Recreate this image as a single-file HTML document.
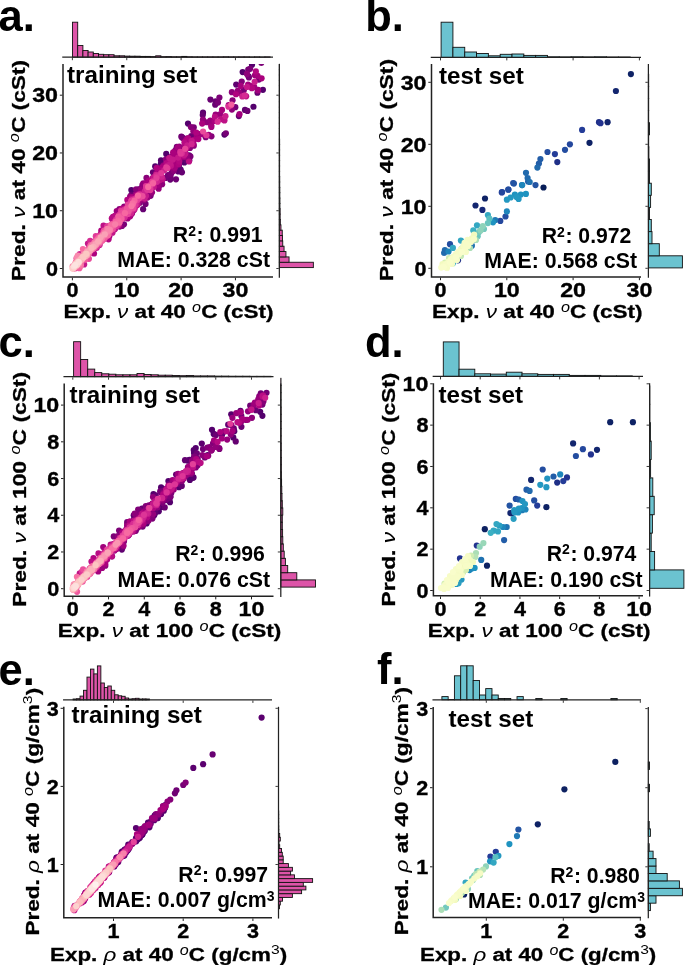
<!DOCTYPE html>
<html><head><meta charset="utf-8"><title>Figure</title>
<style>
html,body{margin:0;padding:0;background:#fff;}
body{width:685px;height:965px;overflow:hidden;}
svg{display:block;font-family:"Liberation Sans", sans-serif;will-change:transform;}
</style></head><body>
<svg width="685" height="965" viewBox="0 0 685 965">
<rect width="685" height="965" fill="#fff"/>
<rect x="72.5" y="22.2" width="5.2" height="35" fill="#dd54a8" stroke="#111" stroke-width="0.9"/>
<rect x="77.7" y="45.5" width="5.2" height="11.7" fill="#dd54a8" stroke="#111" stroke-width="0.9"/>
<rect x="82.9" y="50.5" width="5.2" height="6.7" fill="#dd54a8" stroke="#111" stroke-width="0.9"/>
<rect x="88.1" y="52" width="5.2" height="5.2" fill="#dd54a8" stroke="#111" stroke-width="0.9"/>
<rect x="93.3" y="53.5" width="5.2" height="3.7" fill="#dd54a8" stroke="#111" stroke-width="0.9"/>
<rect x="98.5" y="54.3" width="5.2" height="2.9" fill="#dd54a8" stroke="#111" stroke-width="0.9"/>
<rect x="103.7" y="54.7" width="5.2" height="2.5" fill="#dd54a8" stroke="#111" stroke-width="0.9"/>
<rect x="108.9" y="54.7" width="5.2" height="2.5" fill="#dd54a8" stroke="#111" stroke-width="0.9"/>
<rect x="114.1" y="55.8" width="5.2" height="1.4" fill="#dd54a8" stroke="#111" stroke-width="0.9"/>
<rect x="119.3" y="55.8" width="5.2" height="1.4" fill="#dd54a8" stroke="#111" stroke-width="0.9"/>
<rect x="124.5" y="56.1" width="5.2" height="1.1" fill="#dd54a8" stroke="#111" stroke-width="0.9"/>
<rect x="129.7" y="56.2" width="5.2" height="1" fill="#dd54a8" stroke="#111" stroke-width="0.9"/>
<rect x="134.9" y="56.2" width="5.2" height="1" fill="#dd54a8" stroke="#111" stroke-width="0.9"/>
<rect x="140.1" y="56.4" width="5.2" height="0.8" fill="#dd54a8" stroke="#111" stroke-width="0.9"/>
<rect x="145.3" y="56.4" width="5.2" height="0.8" fill="#dd54a8" stroke="#111" stroke-width="0.9"/>
<rect x="150.5" y="56.6" width="5.2" height="0.6" fill="#dd54a8" stroke="#111" stroke-width="0.9"/>
<rect x="155.7" y="55.8" width="5.2" height="1.4" fill="#dd54a8" stroke="#111" stroke-width="0.9"/>
<rect x="160.9" y="56.7" width="5.2" height="0.5" fill="#dd54a8" stroke="#111" stroke-width="0.9"/>
<rect x="166.1" y="56.6" width="5.2" height="0.6" fill="#dd54a8" stroke="#111" stroke-width="0.9"/>
<rect x="171.3" y="56.8" width="5.2" height="0.4" fill="#dd54a8" stroke="#111" stroke-width="0.9"/>
<rect x="176.5" y="56.8" width="5.2" height="0.4" fill="#dd54a8" stroke="#111" stroke-width="0.9"/>
<rect x="181.7" y="56.4" width="5.2" height="0.8" fill="#dd54a8" stroke="#111" stroke-width="0.9"/>
<rect x="186.9" y="56.8" width="5.2" height="0.4" fill="#dd54a8" stroke="#111" stroke-width="0.9"/>
<rect x="192.1" y="56.9" width="5.2" height="0.3" fill="#dd54a8" stroke="#111" stroke-width="0.9"/>
<rect x="197.3" y="56.9" width="5.2" height="0.3" fill="#dd54a8" stroke="#111" stroke-width="0.9"/>
<rect x="202.5" y="56.9" width="5.2" height="0.3" fill="#dd54a8" stroke="#111" stroke-width="0.9"/>
<rect x="207.7" y="56.9" width="5.2" height="0.3" fill="#dd54a8" stroke="#111" stroke-width="0.9"/>
<rect x="212.9" y="56.9" width="5.2" height="0.3" fill="#dd54a8" stroke="#111" stroke-width="0.9"/>
<rect x="218.1" y="56.9" width="5.2" height="0.3" fill="#dd54a8" stroke="#111" stroke-width="0.9"/>
<rect x="223.3" y="56.8" width="5.2" height="0.4" fill="#dd54a8" stroke="#111" stroke-width="0.9"/>
<rect x="228.5" y="56.9" width="5.2" height="0.3" fill="#dd54a8" stroke="#111" stroke-width="0.9"/>
<rect x="233.7" y="56.9" width="5.2" height="0.3" fill="#dd54a8" stroke="#111" stroke-width="0.9"/>
<rect x="238.9" y="56.9" width="5.2" height="0.3" fill="#dd54a8" stroke="#111" stroke-width="0.9"/>
<rect x="244.1" y="56.9" width="5.2" height="0.3" fill="#dd54a8" stroke="#111" stroke-width="0.9"/>
<rect x="249.3" y="57" width="5.2" height="0.2" fill="#dd54a8" stroke="#111" stroke-width="0.9"/>
<rect x="254.5" y="56.9" width="5.2" height="0.3" fill="#dd54a8" stroke="#111" stroke-width="0.9"/>
<rect x="259.7" y="57" width="5.2" height="0.2" fill="#dd54a8" stroke="#111" stroke-width="0.9"/>
<rect x="264.9" y="56.9" width="5.2" height="0.3" fill="#dd54a8" stroke="#111" stroke-width="0.9"/>
<path d="M62.25 57.2H273" stroke="#222" stroke-width="1.25"/>
<path d="M72.4 57.8v2.4" stroke="#222" stroke-width="0.9"/>
<path d="M126.75 57.8v2.4" stroke="#222" stroke-width="0.9"/>
<path d="M181.1 57.8v2.4" stroke="#222" stroke-width="0.9"/>
<path d="M235.45 57.8v2.4" stroke="#222" stroke-width="0.9"/>
<rect x="279.35" y="262.25" width="34" height="5.35" fill="#dd54a8" stroke="#111" stroke-width="0.9"/>
<rect x="279.35" y="256.9" width="9.7" height="5.35" fill="#dd54a8" stroke="#111" stroke-width="0.9"/>
<rect x="279.35" y="251.55" width="6.6" height="5.35" fill="#dd54a8" stroke="#111" stroke-width="0.9"/>
<rect x="279.35" y="246.2" width="4.7" height="5.35" fill="#dd54a8" stroke="#111" stroke-width="0.9"/>
<rect x="279.35" y="240.85" width="3.4" height="5.35" fill="#dd54a8" stroke="#111" stroke-width="0.9"/>
<rect x="279.35" y="235.5" width="3.1" height="5.35" fill="#dd54a8" stroke="#111" stroke-width="0.9"/>
<rect x="279.35" y="230.15" width="2.9" height="5.35" fill="#dd54a8" stroke="#111" stroke-width="0.9"/>
<rect x="279.35" y="224.8" width="1.6" height="5.35" fill="#dd54a8" stroke="#111" stroke-width="0.9"/>
<rect x="279.35" y="219.45" width="1" height="5.35" fill="#dd54a8" stroke="#111" stroke-width="0.9"/>
<rect x="279.35" y="214.1" width="0.8" height="5.35" fill="#dd54a8" stroke="#111" stroke-width="0.9"/>
<rect x="279.35" y="208.75" width="0.8" height="5.35" fill="#dd54a8" stroke="#111" stroke-width="0.9"/>
<rect x="279.35" y="203.4" width="0.6" height="5.35" fill="#dd54a8" stroke="#111" stroke-width="0.9"/>
<rect x="279.35" y="198.05" width="0.6" height="5.35" fill="#dd54a8" stroke="#111" stroke-width="0.9"/>
<rect x="279.35" y="192.7" width="0.5" height="5.35" fill="#dd54a8" stroke="#111" stroke-width="0.9"/>
<rect x="279.35" y="187.35" width="0.5" height="5.35" fill="#dd54a8" stroke="#111" stroke-width="0.9"/>
<rect x="279.35" y="182" width="0.4" height="5.35" fill="#dd54a8" stroke="#111" stroke-width="0.9"/>
<rect x="279.35" y="176.65" width="0.4" height="5.35" fill="#dd54a8" stroke="#111" stroke-width="0.9"/>
<rect x="279.35" y="171.3" width="0.3" height="5.35" fill="#dd54a8" stroke="#111" stroke-width="0.9"/>
<rect x="279.35" y="165.95" width="0.3" height="5.35" fill="#dd54a8" stroke="#111" stroke-width="0.9"/>
<rect x="279.35" y="160.6" width="0.3" height="5.35" fill="#dd54a8" stroke="#111" stroke-width="0.9"/>
<rect x="279.35" y="155.25" width="0.3" height="5.35" fill="#dd54a8" stroke="#111" stroke-width="0.9"/>
<rect x="279.35" y="149.9" width="0.3" height="5.35" fill="#dd54a8" stroke="#111" stroke-width="0.9"/>
<rect x="279.35" y="144.55" width="0.3" height="5.35" fill="#dd54a8" stroke="#111" stroke-width="0.9"/>
<rect x="279.35" y="139.2" width="0.3" height="5.35" fill="#dd54a8" stroke="#111" stroke-width="0.9"/>
<rect x="279.35" y="133.85" width="0.2" height="5.35" fill="#dd54a8" stroke="#111" stroke-width="0.9"/>
<rect x="279.35" y="128.5" width="0.2" height="5.35" fill="#dd54a8" stroke="#111" stroke-width="0.9"/>
<rect x="279.35" y="123.15" width="0.2" height="5.35" fill="#dd54a8" stroke="#111" stroke-width="0.9"/>
<rect x="279.35" y="117.8" width="0.2" height="5.35" fill="#dd54a8" stroke="#111" stroke-width="0.9"/>
<rect x="279.35" y="112.45" width="0.2" height="5.35" fill="#dd54a8" stroke="#111" stroke-width="0.9"/>
<rect x="279.35" y="107.1" width="0.2" height="5.35" fill="#dd54a8" stroke="#111" stroke-width="0.9"/>
<rect x="279.35" y="101.75" width="0.2" height="5.35" fill="#dd54a8" stroke="#111" stroke-width="0.9"/>
<rect x="279.35" y="96.4" width="0.2" height="5.35" fill="#dd54a8" stroke="#111" stroke-width="0.9"/>
<rect x="279.35" y="91.05" width="0.2" height="5.35" fill="#dd54a8" stroke="#111" stroke-width="0.9"/>
<rect x="279.35" y="85.7" width="0.2" height="5.35" fill="#dd54a8" stroke="#111" stroke-width="0.9"/>
<rect x="279.35" y="80.35" width="0.2" height="5.35" fill="#dd54a8" stroke="#111" stroke-width="0.9"/>
<rect x="279.35" y="75" width="0.2" height="5.35" fill="#dd54a8" stroke="#111" stroke-width="0.9"/>
<rect x="279.35" y="69.65" width="0.2" height="5.35" fill="#dd54a8" stroke="#111" stroke-width="0.9"/>
<rect x="279.35" y="64.3" width="0.2" height="5.35" fill="#dd54a8" stroke="#111" stroke-width="0.9"/>
<path d="M279.35 64V277.85" stroke="#222" stroke-width="1.25"/>
<path d="M278.75 268.5h-2.4" stroke="#222" stroke-width="0.9"/>
<path d="M278.75 210.73h-2.4" stroke="#222" stroke-width="0.9"/>
<path d="M278.75 152.96h-2.4" stroke="#222" stroke-width="0.9"/>
<path d="M278.75 95.19h-2.4" stroke="#222" stroke-width="0.9"/>
<clipPath id="c1"><rect x="63" y="64" width="210" height="213.1"/></clipPath><g clip-path="url(#c1)">
<circle cx="189.29" cy="160.35" r="3.1" fill="#54006d"/>
<circle cx="253.45" cy="106.73" r="3.1" fill="#54006d"/>
<circle cx="262.91" cy="89.81" r="3.1" fill="#54006d"/>
<circle cx="224.45" cy="134.59" r="3.1" fill="#54006d"/>
<circle cx="175.32" cy="168.67" r="3.1" fill="#54006d"/>
<circle cx="161.02" cy="160.34" r="3.1" fill="#54006d"/>
<circle cx="188" cy="123.54" r="3.1" fill="#54006d"/>
<circle cx="184.33" cy="162.41" r="3.1" fill="#54006d"/>
<circle cx="166.25" cy="153.88" r="3.1" fill="#54006d"/>
<circle cx="178.91" cy="165.77" r="3.1" fill="#54006d"/>
<circle cx="252" cy="64.7" r="3.1" fill="#54006d"/>
<circle cx="155.19" cy="166.42" r="3.1" fill="#54006d"/>
<circle cx="131.34" cy="190.01" r="3.1" fill="#54006d"/>
<circle cx="242.64" cy="72.03" r="3.1" fill="#54006d"/>
<circle cx="248.54" cy="76.24" r="3.1" fill="#54006d"/>
<circle cx="160.95" cy="163.54" r="3.1" fill="#57006e"/>
<circle cx="189.08" cy="155.42" r="3.1" fill="#57006e"/>
<circle cx="203.02" cy="112.71" r="3.1" fill="#5d006f"/>
<circle cx="180.64" cy="169.62" r="3.1" fill="#5d006f"/>
<circle cx="178.3" cy="171.47" r="3.1" fill="#5f0070"/>
<circle cx="236.21" cy="84.6" r="3.1" fill="#600070"/>
<circle cx="244.98" cy="109.88" r="3.1" fill="#600070"/>
<circle cx="152.98" cy="172.32" r="3.1" fill="#630171"/>
<circle cx="157.58" cy="168.4" r="3.1" fill="#630171"/>
<circle cx="183.76" cy="158.13" r="3.1" fill="#630171"/>
<circle cx="238.86" cy="116.03" r="3.1" fill="#650171"/>
<circle cx="202.75" cy="115.1" r="3.1" fill="#650171"/>
<circle cx="170.28" cy="179.58" r="3.1" fill="#650171"/>
<circle cx="176.06" cy="149.55" r="3.1" fill="#650171"/>
<circle cx="257.41" cy="92.77" r="3.1" fill="#650171"/>
<circle cx="143.12" cy="209.16" r="3.1" fill="#660172"/>
<circle cx="131.36" cy="194.79" r="3.1" fill="#660172"/>
<circle cx="186.08" cy="160" r="3.1" fill="#660172"/>
<circle cx="181.94" cy="172.3" r="3.1" fill="#660172"/>
<circle cx="182.98" cy="137.99" r="3.1" fill="#690173"/>
<circle cx="263.59" cy="53.57" r="3.1" fill="#690173"/>
<circle cx="174.09" cy="154.29" r="3.1" fill="#690173"/>
<circle cx="210.41" cy="99.55" r="3.1" fill="#690173"/>
<circle cx="215.22" cy="104.68" r="3.1" fill="#690173"/>
<circle cx="215.67" cy="101.39" r="3.1" fill="#6b0173"/>
<circle cx="181.34" cy="136.68" r="3.1" fill="#6c0173"/>
<circle cx="176.2" cy="166.19" r="3.1" fill="#6c0173"/>
<circle cx="247.43" cy="110.94" r="3.1" fill="#6c0173"/>
<circle cx="191.3" cy="135.98" r="3.1" fill="#6c0173"/>
<circle cx="181.53" cy="157.44" r="3.1" fill="#6e0174"/>
<circle cx="176" cy="179.29" r="3.1" fill="#6e0174"/>
<circle cx="167.72" cy="159.04" r="3.1" fill="#6f0174"/>
<circle cx="170.55" cy="177.47" r="3.1" fill="#710175"/>
<circle cx="139.42" cy="189.15" r="3.1" fill="#710175"/>
<circle cx="159.87" cy="184.97" r="3.1" fill="#730175"/>
<circle cx="235.32" cy="107.18" r="3.1" fill="#730175"/>
<circle cx="145.55" cy="203.89" r="3.1" fill="#740175"/>
<circle cx="165.62" cy="177.91" r="3.1" fill="#740175"/>
<circle cx="172.04" cy="172.06" r="3.1" fill="#740175"/>
<circle cx="248.25" cy="69.67" r="3.1" fill="#760176"/>
<circle cx="168.03" cy="175" r="3.1" fill="#770176"/>
<circle cx="225.88" cy="133.24" r="3.1" fill="#770176"/>
<circle cx="182.11" cy="137.41" r="3.1" fill="#770176"/>
<circle cx="248.91" cy="77.52" r="3.1" fill="#770176"/>
<circle cx="217.99" cy="102.59" r="3.1" fill="#790177"/>
<circle cx="193.07" cy="144.72" r="3.1" fill="#790177"/>
<circle cx="150.58" cy="195.82" r="3.1" fill="#790177"/>
<circle cx="193.76" cy="127.41" r="3.1" fill="#7a0177"/>
<circle cx="123.97" cy="224.27" r="3.1" fill="#7a0177"/>
<circle cx="258.82" cy="79.57" r="3.1" fill="#7a0177"/>
<circle cx="243.77" cy="90.19" r="3.1" fill="#7a0177"/>
<circle cx="219.41" cy="97.62" r="3.1" fill="#7c0177"/>
<circle cx="190.39" cy="156.47" r="3.1" fill="#7c0177"/>
<circle cx="250.09" cy="68.73" r="3.1" fill="#7c0177"/>
<circle cx="176.82" cy="146.95" r="3.1" fill="#7d0177"/>
<circle cx="261.32" cy="62.82" r="3.1" fill="#7d0177"/>
<circle cx="170.89" cy="174.1" r="3.1" fill="#7d0177"/>
<circle cx="163.75" cy="169.47" r="3.1" fill="#7d0177"/>
<circle cx="121.98" cy="225.96" r="3.1" fill="#7f0178"/>
<circle cx="205.73" cy="137.13" r="3.1" fill="#7f0178"/>
<circle cx="185.38" cy="153.26" r="3.1" fill="#7f0178"/>
<circle cx="179.94" cy="153.72" r="3.1" fill="#810178"/>
<circle cx="159.1" cy="170.12" r="3.1" fill="#810178"/>
<circle cx="241.74" cy="81.52" r="3.1" fill="#810178"/>
<circle cx="161.61" cy="181.42" r="3.1" fill="#820178"/>
<circle cx="188.63" cy="140.27" r="3.1" fill="#820178"/>
<circle cx="176.2" cy="151.95" r="3.1" fill="#840178"/>
<circle cx="258.45" cy="51.79" r="3.1" fill="#840178"/>
<circle cx="139.88" cy="202.64" r="3.1" fill="#840178"/>
<circle cx="134.38" cy="199.14" r="3.1" fill="#840178"/>
<circle cx="190.89" cy="127.12" r="3.1" fill="#860179"/>
<circle cx="211.47" cy="136.33" r="3.1" fill="#860179"/>
<circle cx="133.63" cy="210.35" r="3.1" fill="#870179"/>
<circle cx="187.47" cy="138.44" r="3.1" fill="#890179"/>
<circle cx="119.47" cy="209.14" r="3.1" fill="#890179"/>
<circle cx="189.96" cy="147.9" r="3.1" fill="#890179"/>
<circle cx="232.53" cy="100.25" r="3.1" fill="#890179"/>
<circle cx="177.45" cy="155.98" r="3.1" fill="#890179"/>
<circle cx="136.08" cy="189.45" r="3.1" fill="#890179"/>
<circle cx="134.54" cy="199.26" r="3.1" fill="#890179"/>
<circle cx="135.76" cy="194.43" r="3.1" fill="#890179"/>
<circle cx="146.47" cy="177.95" r="3.1" fill="#890179"/>
<circle cx="124.23" cy="206.56" r="3.1" fill="#890179"/>
<circle cx="151.22" cy="193.3" r="3.1" fill="#8b0179"/>
<circle cx="156.67" cy="167.78" r="3.1" fill="#8b0179"/>
<circle cx="163.5" cy="165.33" r="3.1" fill="#8c0179"/>
<circle cx="142.36" cy="185.15" r="3.1" fill="#8c0179"/>
<circle cx="173.83" cy="170.83" r="3.1" fill="#8c0179"/>
<circle cx="187.13" cy="155.61" r="3.1" fill="#8c0179"/>
<circle cx="162.13" cy="184.24" r="3.1" fill="#8e017a"/>
<circle cx="258.11" cy="89.93" r="3.1" fill="#8e017a"/>
<circle cx="231.88" cy="92.13" r="3.1" fill="#8e017a"/>
<circle cx="182.44" cy="154.05" r="3.1" fill="#8e017a"/>
<circle cx="246.93" cy="73.9" r="3.1" fill="#8e017a"/>
<circle cx="231.91" cy="109.58" r="3.1" fill="#8e017a"/>
<circle cx="188.48" cy="147.36" r="3.1" fill="#8e017a"/>
<circle cx="193.8" cy="145.67" r="3.1" fill="#8e017a"/>
<circle cx="147.72" cy="195.93" r="3.1" fill="#8e017a"/>
<circle cx="165.88" cy="159.43" r="3.1" fill="#8e017a"/>
<circle cx="176.11" cy="163.14" r="3.1" fill="#8f017a"/>
<circle cx="135.73" cy="194.51" r="3.1" fill="#91017a"/>
<circle cx="175.08" cy="150.89" r="3.1" fill="#91017a"/>
<circle cx="177.28" cy="151.33" r="3.1" fill="#91017a"/>
<circle cx="170.31" cy="166.66" r="3.1" fill="#91017a"/>
<circle cx="206.93" cy="122.25" r="3.1" fill="#91017a"/>
<circle cx="173.16" cy="155.62" r="3.1" fill="#91017a"/>
<circle cx="144.09" cy="196.86" r="3.1" fill="#91017a"/>
<circle cx="112.28" cy="219.26" r="3.1" fill="#91017a"/>
<circle cx="202.96" cy="119.52" r="3.1" fill="#93017a"/>
<circle cx="119.71" cy="226.54" r="3.1" fill="#93017a"/>
<circle cx="180.48" cy="149.18" r="3.1" fill="#93017a"/>
<circle cx="144.05" cy="200.12" r="3.1" fill="#93017a"/>
<circle cx="193.37" cy="131.24" r="3.1" fill="#93017a"/>
<circle cx="143.3" cy="183.38" r="3.1" fill="#94017b"/>
<circle cx="179.33" cy="146.58" r="3.1" fill="#96017b"/>
<circle cx="239.39" cy="92.86" r="3.1" fill="#96017b"/>
<circle cx="186.91" cy="157.54" r="3.1" fill="#96017b"/>
<circle cx="208.64" cy="134.89" r="3.1" fill="#96017b"/>
<circle cx="137.62" cy="204.49" r="3.1" fill="#96017b"/>
<circle cx="114.6" cy="218.31" r="3.1" fill="#96017b"/>
<circle cx="158.61" cy="188.76" r="3.1" fill="#98017b"/>
<circle cx="210.32" cy="120.58" r="3.1" fill="#98017b"/>
<circle cx="186.48" cy="155.51" r="3.1" fill="#98017b"/>
<circle cx="105.16" cy="227.45" r="3.1" fill="#98017b"/>
<circle cx="237.72" cy="90.94" r="3.1" fill="#98017b"/>
<circle cx="130.13" cy="216.14" r="3.1" fill="#99017b"/>
<circle cx="131.58" cy="213.71" r="3.1" fill="#99017b"/>
<circle cx="131.65" cy="212.44" r="3.1" fill="#99017b"/>
<circle cx="171.71" cy="156.37" r="3.1" fill="#99017b"/>
<circle cx="130.11" cy="196.62" r="3.1" fill="#99017b"/>
<circle cx="215.66" cy="114.64" r="3.1" fill="#99017b"/>
<circle cx="152" cy="192.26" r="3.1" fill="#99017b"/>
<circle cx="182.68" cy="148.41" r="3.1" fill="#9b017b"/>
<circle cx="147.53" cy="197.58" r="3.1" fill="#9b017b"/>
<circle cx="121.61" cy="210.93" r="3.1" fill="#9b017b"/>
<circle cx="174.22" cy="155.13" r="3.1" fill="#9b017b"/>
<circle cx="141.56" cy="197" r="3.1" fill="#9b017b"/>
<circle cx="220.1" cy="114.27" r="3.1" fill="#9b017b"/>
<circle cx="177.79" cy="160.44" r="3.1" fill="#9c017c"/>
<circle cx="116.75" cy="210.98" r="3.1" fill="#9c017c"/>
<circle cx="123.26" cy="209.01" r="3.1" fill="#9e017c"/>
<circle cx="254.93" cy="75.34" r="3.1" fill="#9e017c"/>
<circle cx="158.62" cy="179.07" r="3.1" fill="#9e017c"/>
<circle cx="164.64" cy="167.48" r="3.1" fill="#9e017c"/>
<circle cx="228.71" cy="105.19" r="3.1" fill="#9e017c"/>
<circle cx="115.13" cy="216.06" r="3.1" fill="#9e017c"/>
<circle cx="129.41" cy="210.8" r="3.1" fill="#9e017c"/>
<circle cx="132.51" cy="200.76" r="3.1" fill="#a0017c"/>
<circle cx="127.57" cy="218.46" r="3.1" fill="#a0017c"/>
<circle cx="141.07" cy="189.58" r="3.1" fill="#a0017c"/>
<circle cx="156.08" cy="173.7" r="3.1" fill="#a0017c"/>
<circle cx="133.3" cy="209.98" r="3.1" fill="#a0017c"/>
<circle cx="257.92" cy="90.42" r="3.1" fill="#a0017c"/>
<circle cx="159.18" cy="180.83" r="3.1" fill="#a1017c"/>
<circle cx="129.1" cy="199.51" r="3.1" fill="#a1017c"/>
<circle cx="239.51" cy="114.2" r="3.1" fill="#a1017c"/>
<circle cx="200.76" cy="133.84" r="3.1" fill="#a1017c"/>
<circle cx="211.29" cy="125.48" r="3.1" fill="#a1017c"/>
<circle cx="196.79" cy="135.69" r="3.1" fill="#a1017c"/>
<circle cx="254.3" cy="87.06" r="3.1" fill="#a1017c"/>
<circle cx="137.21" cy="203.32" r="3.1" fill="#a1017c"/>
<circle cx="185.1" cy="144.29" r="3.1" fill="#a1017c"/>
<circle cx="202.22" cy="134.22" r="3.1" fill="#a3017d"/>
<circle cx="157.76" cy="184.94" r="3.1" fill="#a3017d"/>
<circle cx="170.82" cy="167.34" r="3.1" fill="#a3017d"/>
<circle cx="248.07" cy="84.66" r="3.1" fill="#a3017d"/>
<circle cx="185.39" cy="143.78" r="3.1" fill="#a3017d"/>
<circle cx="163.8" cy="166.16" r="3.1" fill="#a3017d"/>
<circle cx="169.53" cy="163.29" r="3.1" fill="#a3017d"/>
<circle cx="143.12" cy="197.96" r="3.1" fill="#a3017d"/>
<circle cx="167.94" cy="163.88" r="3.1" fill="#a3017d"/>
<circle cx="136.06" cy="203.42" r="3.1" fill="#a5017d"/>
<circle cx="135.47" cy="198.63" r="3.1" fill="#a5017d"/>
<circle cx="115.02" cy="226.22" r="3.1" fill="#a5017d"/>
<circle cx="251.04" cy="86.16" r="3.1" fill="#a5017d"/>
<circle cx="174.8" cy="167.65" r="3.1" fill="#a5017d"/>
<circle cx="240.8" cy="85.94" r="3.1" fill="#a5017d"/>
<circle cx="153.84" cy="184.8" r="3.1" fill="#a5017d"/>
<circle cx="139.85" cy="199.95" r="3.1" fill="#a5017d"/>
<circle cx="158.11" cy="182.14" r="3.1" fill="#a5017d"/>
<circle cx="177.94" cy="147.48" r="3.1" fill="#a6017d"/>
<circle cx="131.91" cy="213.37" r="3.1" fill="#a6017d"/>
<circle cx="148.73" cy="180.68" r="3.1" fill="#a6017d"/>
<circle cx="109.3" cy="236.19" r="3.1" fill="#a6017d"/>
<circle cx="174.16" cy="157.28" r="3.1" fill="#a6017d"/>
<circle cx="100.25" cy="235.73" r="3.1" fill="#a6017d"/>
<circle cx="211.36" cy="126.9" r="3.1" fill="#a6017d"/>
<circle cx="101.05" cy="233.85" r="3.1" fill="#a6017d"/>
<circle cx="257.55" cy="75.8" r="3.1" fill="#a6017d"/>
<circle cx="128.41" cy="203.25" r="3.1" fill="#a6017d"/>
<circle cx="158.3" cy="169.76" r="3.1" fill="#a6017d"/>
<circle cx="175.24" cy="154.31" r="3.1" fill="#a8017d"/>
<circle cx="177.03" cy="159.58" r="3.1" fill="#a8017d"/>
<circle cx="174.1" cy="164.75" r="3.1" fill="#a8017d"/>
<circle cx="221.99" cy="109.9" r="3.1" fill="#a8017d"/>
<circle cx="135.65" cy="205.43" r="3.1" fill="#a8017d"/>
<circle cx="109.29" cy="232.54" r="3.1" fill="#aa017d"/>
<circle cx="214.45" cy="120.94" r="3.1" fill="#aa017d"/>
<circle cx="122.09" cy="208.69" r="3.1" fill="#aa017d"/>
<circle cx="202.17" cy="123.6" r="3.1" fill="#aa017d"/>
<circle cx="261.6" cy="78.33" r="3.1" fill="#aa017d"/>
<circle cx="146.11" cy="183.05" r="3.1" fill="#aa017d"/>
<circle cx="173.16" cy="152.32" r="3.1" fill="#aa017d"/>
<circle cx="179.57" cy="155.77" r="3.1" fill="#ab017e"/>
<circle cx="186.28" cy="139.97" r="3.1" fill="#ab017e"/>
<circle cx="181.49" cy="155.12" r="3.1" fill="#ab017e"/>
<circle cx="113.04" cy="216.87" r="3.1" fill="#ab017e"/>
<circle cx="106.16" cy="236.98" r="3.1" fill="#ab017e"/>
<circle cx="184.77" cy="154" r="3.1" fill="#ab017e"/>
<circle cx="119.47" cy="214.7" r="3.1" fill="#ab017e"/>
<circle cx="93.99" cy="253.49" r="3.1" fill="#ad017e"/>
<circle cx="127.69" cy="206.95" r="3.1" fill="#ad017e"/>
<circle cx="132.21" cy="197.38" r="3.1" fill="#ad017e"/>
<circle cx="179.37" cy="158.41" r="3.1" fill="#ad017e"/>
<circle cx="102.12" cy="239.93" r="3.1" fill="#ad017e"/>
<circle cx="162.15" cy="167.33" r="3.1" fill="#ad017e"/>
<circle cx="132.16" cy="211.86" r="3.1" fill="#ad017e"/>
<circle cx="129.7" cy="211.59" r="3.1" fill="#ad017e"/>
<circle cx="149.06" cy="181.37" r="3.1" fill="#ad017e"/>
<circle cx="193.41" cy="143.81" r="3.1" fill="#ad017e"/>
<circle cx="194.07" cy="139.75" r="3.1" fill="#ae017e"/>
<circle cx="198.35" cy="139.06" r="3.1" fill="#ae017e"/>
<circle cx="137.7" cy="195.52" r="3.1" fill="#ae017e"/>
<circle cx="186.33" cy="148.86" r="3.1" fill="#ae017e"/>
<circle cx="196.33" cy="132.5" r="3.1" fill="#b0037f"/>
<circle cx="178.73" cy="164.3" r="3.1" fill="#b0037f"/>
<circle cx="156.82" cy="168.22" r="3.1" fill="#b0037f"/>
<circle cx="114.35" cy="219.5" r="3.1" fill="#b0037f"/>
<circle cx="129.56" cy="216.28" r="3.1" fill="#b0037f"/>
<circle cx="183.8" cy="154.6" r="3.1" fill="#b0037f"/>
<circle cx="101.27" cy="230.63" r="3.1" fill="#b0037f"/>
<circle cx="134.06" cy="208.03" r="3.1" fill="#b0037f"/>
<circle cx="235.96" cy="94.23" r="3.1" fill="#b0037f"/>
<circle cx="137.35" cy="200.57" r="3.1" fill="#b0037f"/>
<circle cx="188.26" cy="138.47" r="3.1" fill="#b10580"/>
<circle cx="179.99" cy="157.24" r="3.1" fill="#b10580"/>
<circle cx="183.75" cy="156.56" r="3.1" fill="#b10580"/>
<circle cx="161.38" cy="169.81" r="3.1" fill="#b10580"/>
<circle cx="127.35" cy="215.6" r="3.1" fill="#b10580"/>
<circle cx="122.97" cy="217.23" r="3.1" fill="#b30681"/>
<circle cx="251.85" cy="88.19" r="3.1" fill="#b30681"/>
<circle cx="127.33" cy="199.88" r="3.1" fill="#b30681"/>
<circle cx="108.55" cy="239.31" r="3.1" fill="#b30681"/>
<circle cx="114.67" cy="229.3" r="3.1" fill="#b30681"/>
<circle cx="105" cy="230.48" r="3.1" fill="#b30681"/>
<circle cx="169.36" cy="157.99" r="3.1" fill="#b30681"/>
<circle cx="161.36" cy="170.38" r="3.1" fill="#b30681"/>
<circle cx="179.27" cy="161.39" r="3.1" fill="#b40881"/>
<circle cx="104.09" cy="230.06" r="3.1" fill="#b40881"/>
<circle cx="136.84" cy="195.22" r="3.1" fill="#b40881"/>
<circle cx="255.87" cy="71.39" r="3.1" fill="#b40881"/>
<circle cx="134.47" cy="208.8" r="3.1" fill="#b60982"/>
<circle cx="124.78" cy="214.55" r="3.1" fill="#b60982"/>
<circle cx="106.78" cy="226.82" r="3.1" fill="#b60982"/>
<circle cx="155.81" cy="181.98" r="3.1" fill="#b60982"/>
<circle cx="113.96" cy="228.54" r="3.1" fill="#b60982"/>
<circle cx="152.64" cy="178.16" r="3.1" fill="#b60982"/>
<circle cx="166.5" cy="162.99" r="3.1" fill="#b60982"/>
<circle cx="159.72" cy="176.93" r="3.1" fill="#b60982"/>
<circle cx="146.27" cy="186.19" r="3.1" fill="#b70b83"/>
<circle cx="111.84" cy="218.26" r="3.1" fill="#b70b83"/>
<circle cx="184.44" cy="142.39" r="3.1" fill="#b70b83"/>
<circle cx="125.46" cy="208.05" r="3.1" fill="#b70b83"/>
<circle cx="115.49" cy="216.29" r="3.1" fill="#b90d84"/>
<circle cx="102.83" cy="238.15" r="3.1" fill="#b90d84"/>
<circle cx="115.11" cy="215.77" r="3.1" fill="#b90d84"/>
<circle cx="214.92" cy="116.75" r="3.1" fill="#b90d84"/>
<circle cx="121.48" cy="209.49" r="3.1" fill="#ba0e84"/>
<circle cx="220.87" cy="119.2" r="3.1" fill="#ba0e84"/>
<circle cx="189.03" cy="161.51" r="3.1" fill="#ba0e84"/>
<circle cx="123.02" cy="209.88" r="3.1" fill="#ba0e84"/>
<circle cx="127.53" cy="205.84" r="3.1" fill="#bc1085"/>
<circle cx="93.07" cy="242.06" r="3.1" fill="#bc1085"/>
<circle cx="159.03" cy="179.96" r="3.1" fill="#bc1085"/>
<circle cx="246.17" cy="96.29" r="3.1" fill="#bc1085"/>
<circle cx="137.45" cy="197.52" r="3.1" fill="#bd1186"/>
<circle cx="224.44" cy="120.42" r="3.1" fill="#bd1186"/>
<circle cx="119.79" cy="221.86" r="3.1" fill="#bd1186"/>
<circle cx="103.53" cy="225.71" r="3.1" fill="#bd1186"/>
<circle cx="118.75" cy="225.33" r="3.1" fill="#bf1387"/>
<circle cx="162.66" cy="179.27" r="3.1" fill="#bf1387"/>
<circle cx="170.91" cy="165.69" r="3.1" fill="#bf1387"/>
<circle cx="159.58" cy="180.02" r="3.1" fill="#bf1387"/>
<circle cx="135.17" cy="202.47" r="3.1" fill="#bf1387"/>
<circle cx="131.84" cy="198.82" r="3.1" fill="#bf1387"/>
<circle cx="134.11" cy="199.2" r="3.1" fill="#bf1387"/>
<circle cx="138.89" cy="194.12" r="3.1" fill="#bf1387"/>
<circle cx="152.69" cy="181.04" r="3.1" fill="#c01588"/>
<circle cx="154.65" cy="180.01" r="3.1" fill="#c01588"/>
<circle cx="95.2" cy="248.1" r="3.1" fill="#c01588"/>
<circle cx="114.91" cy="228.69" r="3.1" fill="#c01588"/>
<circle cx="184" cy="155.04" r="3.1" fill="#c01588"/>
<circle cx="133.78" cy="206.07" r="3.1" fill="#c01588"/>
<circle cx="143.43" cy="194.17" r="3.1" fill="#c01588"/>
<circle cx="141.44" cy="193.5" r="3.1" fill="#c01588"/>
<circle cx="191.66" cy="140.89" r="3.1" fill="#c21688"/>
<circle cx="100.14" cy="235.14" r="3.1" fill="#c21688"/>
<circle cx="112.49" cy="232.67" r="3.1" fill="#c21688"/>
<circle cx="106.44" cy="228.51" r="3.1" fill="#c21688"/>
<circle cx="186.54" cy="147" r="3.1" fill="#c21688"/>
<circle cx="130.06" cy="203.5" r="3.1" fill="#c21688"/>
<circle cx="118.78" cy="222.02" r="3.1" fill="#c21688"/>
<circle cx="136.5" cy="205.51" r="3.1" fill="#c21688"/>
<circle cx="137.27" cy="200.27" r="3.1" fill="#c21688"/>
<circle cx="153.78" cy="186.97" r="3.1" fill="#c31889"/>
<circle cx="116.41" cy="218.84" r="3.1" fill="#c31889"/>
<circle cx="247" cy="86.93" r="3.1" fill="#c31889"/>
<circle cx="185.28" cy="153.77" r="3.1" fill="#c31889"/>
<circle cx="155.13" cy="182.5" r="3.1" fill="#c31889"/>
<circle cx="153.94" cy="177.05" r="3.1" fill="#c31889"/>
<circle cx="147.5" cy="189.46" r="3.1" fill="#c31889"/>
<circle cx="170.13" cy="164.08" r="3.1" fill="#c31889"/>
<circle cx="129.06" cy="206.6" r="3.1" fill="#c31889"/>
<circle cx="96.74" cy="247.75" r="3.1" fill="#c31889"/>
<circle cx="133.23" cy="200.55" r="3.1" fill="#c31889"/>
<circle cx="178.15" cy="157.61" r="3.1" fill="#c31889"/>
<circle cx="97.53" cy="239.89" r="3.1" fill="#c31889"/>
<circle cx="169.39" cy="158.03" r="3.1" fill="#c31889"/>
<circle cx="84.14" cy="264.4" r="3.1" fill="#c31889"/>
<circle cx="122.3" cy="211.65" r="3.1" fill="#c31889"/>
<circle cx="137.32" cy="204.43" r="3.1" fill="#c31889"/>
<circle cx="146.02" cy="195.82" r="3.1" fill="#c31889"/>
<circle cx="87.94" cy="243.59" r="3.1" fill="#c4198a"/>
<circle cx="172.85" cy="159.6" r="3.1" fill="#c4198a"/>
<circle cx="167.64" cy="165.59" r="3.1" fill="#c4198a"/>
<circle cx="123.16" cy="216.9" r="3.1" fill="#c4198a"/>
<circle cx="159.5" cy="177.08" r="3.1" fill="#c4198a"/>
<circle cx="99.54" cy="245.06" r="3.1" fill="#c4198a"/>
<circle cx="144.53" cy="198.57" r="3.1" fill="#c61b8b"/>
<circle cx="119.13" cy="215.43" r="3.1" fill="#c61b8b"/>
<circle cx="254.62" cy="81.94" r="3.1" fill="#c71d8c"/>
<circle cx="230.8" cy="105.54" r="3.1" fill="#c71d8c"/>
<circle cx="187.45" cy="145.46" r="3.1" fill="#c71d8c"/>
<circle cx="130.24" cy="212.16" r="3.1" fill="#c91e8c"/>
<circle cx="225.43" cy="116.22" r="3.1" fill="#c91e8c"/>
<circle cx="121.46" cy="214.43" r="3.1" fill="#ca208d"/>
<circle cx="164.26" cy="170.37" r="3.1" fill="#ca208d"/>
<circle cx="135.91" cy="201.18" r="3.1" fill="#ca208d"/>
<circle cx="134.34" cy="209.46" r="3.1" fill="#ca208d"/>
<circle cx="242.32" cy="96.47" r="3.1" fill="#cc218e"/>
<circle cx="119.87" cy="214.13" r="3.1" fill="#cc218e"/>
<circle cx="161.76" cy="176.76" r="3.1" fill="#cd238f"/>
<circle cx="144.97" cy="191.11" r="3.1" fill="#cd238f"/>
<circle cx="126.94" cy="209.6" r="3.1" fill="#cd238f"/>
<circle cx="122.73" cy="218.28" r="3.1" fill="#cd238f"/>
<circle cx="146.51" cy="186.8" r="3.1" fill="#cd238f"/>
<circle cx="156.97" cy="181.86" r="3.1" fill="#cf258f"/>
<circle cx="131.06" cy="213.16" r="3.1" fill="#cf258f"/>
<circle cx="100.99" cy="240.41" r="3.1" fill="#cf258f"/>
<circle cx="106.32" cy="232.22" r="3.1" fill="#cf258f"/>
<circle cx="131.58" cy="205.59" r="3.1" fill="#cf258f"/>
<circle cx="156.27" cy="174.74" r="3.1" fill="#cf258f"/>
<circle cx="123.77" cy="215.15" r="3.1" fill="#d02690"/>
<circle cx="127.49" cy="210.95" r="3.1" fill="#d02690"/>
<circle cx="123.49" cy="218.13" r="3.1" fill="#d02690"/>
<circle cx="107" cy="233.62" r="3.1" fill="#d02690"/>
<circle cx="79.79" cy="254.21" r="3.1" fill="#d02690"/>
<circle cx="191.61" cy="144.22" r="3.1" fill="#d02690"/>
<circle cx="120.43" cy="220.58" r="3.1" fill="#d02690"/>
<circle cx="118.27" cy="216.98" r="3.1" fill="#d02690"/>
<circle cx="96.32" cy="239.62" r="3.1" fill="#d22891"/>
<circle cx="118.24" cy="223.44" r="3.1" fill="#d22891"/>
<circle cx="123.78" cy="217.13" r="3.1" fill="#d22891"/>
<circle cx="131.32" cy="204.27" r="3.1" fill="#d22891"/>
<circle cx="118.05" cy="224.49" r="3.1" fill="#d32992"/>
<circle cx="114.76" cy="221.44" r="3.1" fill="#d32992"/>
<circle cx="128.68" cy="205.05" r="3.1" fill="#d32992"/>
<circle cx="102.91" cy="232.45" r="3.1" fill="#d32992"/>
<circle cx="107.27" cy="235.37" r="3.1" fill="#d32992"/>
<circle cx="155.12" cy="181.46" r="3.1" fill="#d32992"/>
<circle cx="120.87" cy="216.79" r="3.1" fill="#d32992"/>
<circle cx="244.9" cy="95.41" r="3.1" fill="#d52b93"/>
<circle cx="181.98" cy="153.28" r="3.1" fill="#d52b93"/>
<circle cx="150.26" cy="188.47" r="3.1" fill="#d52b93"/>
<circle cx="127.27" cy="209.47" r="3.1" fill="#d52b93"/>
<circle cx="102.16" cy="234.38" r="3.1" fill="#d52b93"/>
<circle cx="101.78" cy="237.43" r="3.1" fill="#d52b93"/>
<circle cx="90.17" cy="240.81" r="3.1" fill="#d52b93"/>
<circle cx="124.75" cy="217.34" r="3.1" fill="#d62d93"/>
<circle cx="133.22" cy="204.5" r="3.1" fill="#d62d93"/>
<circle cx="123.34" cy="213.84" r="3.1" fill="#d62d93"/>
<circle cx="123.75" cy="212.53" r="3.1" fill="#d62d93"/>
<circle cx="119.99" cy="218.9" r="3.1" fill="#d62d93"/>
<circle cx="111.5" cy="227.26" r="3.1" fill="#d62d93"/>
<circle cx="93.46" cy="248.56" r="3.1" fill="#d62d93"/>
<circle cx="151.96" cy="182.5" r="3.1" fill="#d62d93"/>
<circle cx="104.18" cy="232.35" r="3.1" fill="#d62d93"/>
<circle cx="87.18" cy="255.73" r="3.1" fill="#d82e94"/>
<circle cx="86.29" cy="255.93" r="3.1" fill="#d82e94"/>
<circle cx="217.65" cy="121.66" r="3.1" fill="#d82e94"/>
<circle cx="127.74" cy="209.61" r="3.1" fill="#d82e94"/>
<circle cx="89.02" cy="253.88" r="3.1" fill="#d82e94"/>
<circle cx="129.79" cy="211.48" r="3.1" fill="#d82e94"/>
<circle cx="127.57" cy="208.37" r="3.1" fill="#d82e94"/>
<circle cx="131.02" cy="201.28" r="3.1" fill="#d82e94"/>
<circle cx="117.34" cy="223.37" r="3.1" fill="#d93095"/>
<circle cx="82.2" cy="256.02" r="3.1" fill="#d93095"/>
<circle cx="116.81" cy="223.68" r="3.1" fill="#d93095"/>
<circle cx="136.08" cy="199.21" r="3.1" fill="#d93095"/>
<circle cx="150.22" cy="188.58" r="3.1" fill="#d93095"/>
<circle cx="152.3" cy="184.18" r="3.1" fill="#db3196"/>
<circle cx="146.08" cy="187.76" r="3.1" fill="#db3196"/>
<circle cx="228.44" cy="106.67" r="3.1" fill="#db3196"/>
<circle cx="94.74" cy="247.41" r="3.1" fill="#db3196"/>
<circle cx="97.66" cy="245.25" r="3.1" fill="#dc3397"/>
<circle cx="124.54" cy="214.81" r="3.1" fill="#dc3397"/>
<circle cx="117.79" cy="217.84" r="3.1" fill="#dc3397"/>
<circle cx="156.56" cy="176.44" r="3.1" fill="#dc3397"/>
<circle cx="118.81" cy="217.06" r="3.1" fill="#dd3597"/>
<circle cx="125.05" cy="210.59" r="3.1" fill="#dd3597"/>
<circle cx="180.25" cy="151.8" r="3.1" fill="#dd3597"/>
<circle cx="110.61" cy="229.51" r="3.1" fill="#dd3597"/>
<circle cx="131.95" cy="204.69" r="3.1" fill="#dd3597"/>
<circle cx="139.75" cy="194.54" r="3.1" fill="#dd3597"/>
<circle cx="124.63" cy="209.67" r="3.1" fill="#dd3597"/>
<circle cx="135.57" cy="204.65" r="3.1" fill="#dd3597"/>
<circle cx="130.81" cy="208.95" r="3.1" fill="#dd3597"/>
<circle cx="119.15" cy="215.12" r="3.1" fill="#de3697"/>
<circle cx="116.09" cy="219.77" r="3.1" fill="#de3697"/>
<circle cx="127.71" cy="207.86" r="3.1" fill="#de3697"/>
<circle cx="146.02" cy="186" r="3.1" fill="#de3697"/>
<circle cx="108.04" cy="226.22" r="3.1" fill="#de3697"/>
<circle cx="105.87" cy="231.48" r="3.1" fill="#de3697"/>
<circle cx="146.92" cy="187.63" r="3.1" fill="#de3697"/>
<circle cx="121.87" cy="217.84" r="3.1" fill="#de3697"/>
<circle cx="119.01" cy="221.52" r="3.1" fill="#df3898"/>
<circle cx="161.18" cy="173.03" r="3.1" fill="#df3898"/>
<circle cx="90.78" cy="247.27" r="3.1" fill="#df3898"/>
<circle cx="116.67" cy="225.98" r="3.1" fill="#df3898"/>
<circle cx="121.95" cy="217.37" r="3.1" fill="#df3898"/>
<circle cx="147.31" cy="189.69" r="3.1" fill="#df3898"/>
<circle cx="98.13" cy="240.52" r="3.1" fill="#df3898"/>
<circle cx="112.61" cy="227.72" r="3.1" fill="#df3898"/>
<circle cx="180.73" cy="153.41" r="3.1" fill="#df3898"/>
<circle cx="134.28" cy="199.47" r="3.1" fill="#e03a98"/>
<circle cx="167.43" cy="168.25" r="3.1" fill="#e03a98"/>
<circle cx="150.38" cy="190.09" r="3.1" fill="#e03a98"/>
<circle cx="206.37" cy="135.23" r="3.1" fill="#e03a98"/>
<circle cx="107.08" cy="226.53" r="3.1" fill="#e03a98"/>
<circle cx="131.75" cy="200.36" r="3.1" fill="#e03a98"/>
<circle cx="109.09" cy="233.73" r="3.1" fill="#e03a98"/>
<circle cx="95.82" cy="236.16" r="3.1" fill="#e03a98"/>
<circle cx="119.14" cy="223.32" r="3.1" fill="#e03a98"/>
<circle cx="103.95" cy="239.02" r="3.1" fill="#e03a98"/>
<circle cx="137.5" cy="196.73" r="3.1" fill="#e13b98"/>
<circle cx="99.88" cy="235.79" r="3.1" fill="#e13b98"/>
<circle cx="116.47" cy="223.68" r="3.1" fill="#e13b98"/>
<circle cx="120.98" cy="210.81" r="3.1" fill="#e13b98"/>
<circle cx="128.28" cy="207.07" r="3.1" fill="#e13b98"/>
<circle cx="110.25" cy="229.1" r="3.1" fill="#e13b98"/>
<circle cx="99.59" cy="243.94" r="3.1" fill="#e13d99"/>
<circle cx="110.73" cy="227.63" r="3.1" fill="#e13d99"/>
<circle cx="88.85" cy="248.24" r="3.1" fill="#e13d99"/>
<circle cx="119.53" cy="215.93" r="3.1" fill="#e13d99"/>
<circle cx="99.49" cy="236.98" r="3.1" fill="#e23e99"/>
<circle cx="96.85" cy="239.24" r="3.1" fill="#e23e99"/>
<circle cx="116.18" cy="224.02" r="3.1" fill="#e23e99"/>
<circle cx="166.26" cy="167.45" r="3.1" fill="#e23e99"/>
<circle cx="156.45" cy="178.11" r="3.1" fill="#e23e99"/>
<circle cx="137.45" cy="199.9" r="3.1" fill="#e23e99"/>
<circle cx="121.1" cy="213.88" r="3.1" fill="#e23e99"/>
<circle cx="134.03" cy="200.88" r="3.1" fill="#e34099"/>
<circle cx="106.01" cy="236.8" r="3.1" fill="#e34099"/>
<circle cx="152.25" cy="181.64" r="3.1" fill="#e34099"/>
<circle cx="124.01" cy="212.57" r="3.1" fill="#e34099"/>
<circle cx="131.51" cy="201.21" r="3.1" fill="#e34099"/>
<circle cx="125.74" cy="210.59" r="3.1" fill="#e34099"/>
<circle cx="78.73" cy="264.06" r="3.1" fill="#e4429a"/>
<circle cx="153.13" cy="181.82" r="3.1" fill="#e4429a"/>
<circle cx="114.25" cy="224.04" r="3.1" fill="#e4429a"/>
<circle cx="107.44" cy="232.17" r="3.1" fill="#e5439a"/>
<circle cx="139.63" cy="197.91" r="3.1" fill="#e5439a"/>
<circle cx="127.96" cy="213.98" r="3.1" fill="#e5439a"/>
<circle cx="106.74" cy="230.95" r="3.1" fill="#e5459a"/>
<circle cx="106.55" cy="234.29" r="3.1" fill="#e5459a"/>
<circle cx="122.1" cy="212.23" r="3.1" fill="#e5459a"/>
<circle cx="117.06" cy="223.3" r="3.1" fill="#e5459a"/>
<circle cx="141.16" cy="195.78" r="3.1" fill="#e5459a"/>
<circle cx="75.54" cy="268.17" r="3.1" fill="#e5459a"/>
<circle cx="130.9" cy="204.62" r="3.1" fill="#e6479b"/>
<circle cx="150.13" cy="185.43" r="3.1" fill="#e6479b"/>
<circle cx="85.38" cy="252.41" r="3.1" fill="#e6479b"/>
<circle cx="82.2" cy="255.86" r="3.1" fill="#e6479b"/>
<circle cx="185.14" cy="148.79" r="3.1" fill="#e6479b"/>
<circle cx="95.91" cy="246.63" r="3.1" fill="#e6479b"/>
<circle cx="128.06" cy="204.58" r="3.1" fill="#e6479b"/>
<circle cx="75.27" cy="267.21" r="3.1" fill="#e6479b"/>
<circle cx="97.07" cy="241.44" r="3.1" fill="#e7489b"/>
<circle cx="121.13" cy="214.03" r="3.1" fill="#e84a9b"/>
<circle cx="78.34" cy="260.23" r="3.1" fill="#e84a9b"/>
<circle cx="88.93" cy="258.85" r="3.1" fill="#e84a9b"/>
<circle cx="127.33" cy="208.7" r="3.1" fill="#e84a9b"/>
<circle cx="121.67" cy="213.33" r="3.1" fill="#e84a9b"/>
<circle cx="113.06" cy="229.12" r="3.1" fill="#e84a9b"/>
<circle cx="133.34" cy="208.35" r="3.1" fill="#e94b9c"/>
<circle cx="203.08" cy="131.48" r="3.1" fill="#e94b9c"/>
<circle cx="93.96" cy="243.41" r="3.1" fill="#e94b9c"/>
<circle cx="83.59" cy="257.46" r="3.1" fill="#e94b9c"/>
<circle cx="123.34" cy="212.56" r="3.1" fill="#ea4d9c"/>
<circle cx="127.64" cy="208.04" r="3.1" fill="#ea4d9c"/>
<circle cx="99.5" cy="237.36" r="3.1" fill="#ea4d9c"/>
<circle cx="142.52" cy="196.16" r="3.1" fill="#ea4d9c"/>
<circle cx="101.47" cy="235.61" r="3.1" fill="#ea4d9c"/>
<circle cx="102.38" cy="237.58" r="3.1" fill="#ea4d9c"/>
<circle cx="105.25" cy="234.32" r="3.1" fill="#ea4d9c"/>
<circle cx="127.76" cy="210.23" r="3.1" fill="#ea4f9c"/>
<circle cx="99.47" cy="243.02" r="3.1" fill="#ea4f9c"/>
<circle cx="111.89" cy="224.13" r="3.1" fill="#ea4f9c"/>
<circle cx="112.94" cy="224.36" r="3.1" fill="#ea4f9c"/>
<circle cx="105.77" cy="230.48" r="3.1" fill="#ea4f9c"/>
<circle cx="87.57" cy="255.11" r="3.1" fill="#ea4f9c"/>
<circle cx="106.86" cy="231.07" r="3.1" fill="#eb509c"/>
<circle cx="103.98" cy="230.57" r="3.1" fill="#eb509c"/>
<circle cx="94.18" cy="242.63" r="3.1" fill="#eb509c"/>
<circle cx="106.41" cy="231.26" r="3.1" fill="#eb509c"/>
<circle cx="110.39" cy="228.13" r="3.1" fill="#eb509c"/>
<circle cx="87.47" cy="252.43" r="3.1" fill="#eb509c"/>
<circle cx="83.88" cy="258.3" r="3.1" fill="#ec529d"/>
<circle cx="100.28" cy="241.51" r="3.1" fill="#ec529d"/>
<circle cx="88.88" cy="248.66" r="3.1" fill="#ec529d"/>
<circle cx="105.27" cy="233.94" r="3.1" fill="#ec529d"/>
<circle cx="130.96" cy="206.58" r="3.1" fill="#ed549d"/>
<circle cx="76.49" cy="258.29" r="3.1" fill="#ed549d"/>
<circle cx="114.06" cy="224.2" r="3.1" fill="#ed549d"/>
<circle cx="112" cy="228.58" r="3.1" fill="#ed549d"/>
<circle cx="87.98" cy="253.78" r="3.1" fill="#ed549d"/>
<circle cx="126.84" cy="208.87" r="3.1" fill="#ee559d"/>
<circle cx="119.66" cy="219.65" r="3.1" fill="#ee559d"/>
<circle cx="79.55" cy="263.88" r="3.1" fill="#ee559d"/>
<circle cx="79.07" cy="263.53" r="3.1" fill="#ee559d"/>
<circle cx="121.45" cy="215.81" r="3.1" fill="#ee559d"/>
<circle cx="96.64" cy="242.62" r="3.1" fill="#ee559d"/>
<circle cx="89.99" cy="246.5" r="3.1" fill="#ee579e"/>
<circle cx="128.78" cy="210.94" r="3.1" fill="#ee579e"/>
<circle cx="101.23" cy="239.76" r="3.1" fill="#ee579e"/>
<circle cx="124.92" cy="212.93" r="3.1" fill="#ee579e"/>
<circle cx="86.53" cy="253.61" r="3.1" fill="#ee579e"/>
<circle cx="129.76" cy="207.78" r="3.1" fill="#ee579e"/>
<circle cx="84.27" cy="258" r="3.1" fill="#ef599e"/>
<circle cx="103.93" cy="236.75" r="3.1" fill="#ef599e"/>
<circle cx="97.32" cy="239.41" r="3.1" fill="#ef599e"/>
<circle cx="76.27" cy="265.66" r="3.1" fill="#f05a9e"/>
<circle cx="120.36" cy="217.92" r="3.1" fill="#f05a9e"/>
<circle cx="99.94" cy="241.96" r="3.1" fill="#f05a9e"/>
<circle cx="110.31" cy="230.3" r="3.1" fill="#f05a9e"/>
<circle cx="107.93" cy="233.74" r="3.1" fill="#f05a9e"/>
<circle cx="112.35" cy="225.75" r="3.1" fill="#f05a9e"/>
<circle cx="104.99" cy="235.93" r="3.1" fill="#f05a9e"/>
<circle cx="86.94" cy="250.38" r="3.1" fill="#f05a9e"/>
<circle cx="133.21" cy="203.94" r="3.1" fill="#f15c9f"/>
<circle cx="95.54" cy="242.62" r="3.1" fill="#f15c9f"/>
<circle cx="103.65" cy="233.4" r="3.1" fill="#f15c9f"/>
<circle cx="105.21" cy="234.98" r="3.1" fill="#f15c9f"/>
<circle cx="96.37" cy="244.26" r="3.1" fill="#f15c9f"/>
<circle cx="98.76" cy="241.61" r="3.1" fill="#f15c9f"/>
<circle cx="79.41" cy="268.16" r="3.1" fill="#f25d9f"/>
<circle cx="92.34" cy="249.29" r="3.1" fill="#f25d9f"/>
<circle cx="104.6" cy="238.06" r="3.1" fill="#f25d9f"/>
<circle cx="104.98" cy="232.05" r="3.1" fill="#f25d9f"/>
<circle cx="102.25" cy="240.86" r="3.1" fill="#f25d9f"/>
<circle cx="98.78" cy="237.51" r="3.1" fill="#f35f9f"/>
<circle cx="80.44" cy="262.77" r="3.1" fill="#f35f9f"/>
<circle cx="85.11" cy="259.68" r="3.1" fill="#f35f9f"/>
<circle cx="112.68" cy="224.39" r="3.1" fill="#f35f9f"/>
<circle cx="231.43" cy="104.57" r="3.1" fill="#f35f9f"/>
<circle cx="96.33" cy="244.27" r="3.1" fill="#f35f9f"/>
<circle cx="103.27" cy="236" r="3.1" fill="#f361a0"/>
<circle cx="121.51" cy="218.93" r="3.1" fill="#f361a0"/>
<circle cx="81.1" cy="263.24" r="3.1" fill="#f361a0"/>
<circle cx="75.26" cy="264.57" r="3.1" fill="#f361a0"/>
<circle cx="104.16" cy="236.07" r="3.1" fill="#f361a0"/>
<circle cx="118.35" cy="216.66" r="3.1" fill="#f361a0"/>
<circle cx="90.62" cy="245.2" r="3.1" fill="#f361a0"/>
<circle cx="153.06" cy="183.13" r="3.1" fill="#f462a0"/>
<circle cx="106.64" cy="229.36" r="3.1" fill="#f462a0"/>
<circle cx="79.6" cy="266.88" r="3.1" fill="#f564a0"/>
<circle cx="87.02" cy="251.92" r="3.1" fill="#f564a0"/>
<circle cx="134.55" cy="200.65" r="3.1" fill="#f564a0"/>
<circle cx="94.72" cy="244.28" r="3.1" fill="#f564a0"/>
<circle cx="77.59" cy="265.09" r="3.1" fill="#f564a0"/>
<circle cx="89.77" cy="251.37" r="3.1" fill="#f564a0"/>
<circle cx="85.33" cy="255.76" r="3.1" fill="#f564a0"/>
<circle cx="75.98" cy="262.22" r="3.1" fill="#f564a0"/>
<circle cx="73.92" cy="268.45" r="3.1" fill="#f564a0"/>
<circle cx="107.9" cy="231.6" r="3.1" fill="#f564a0"/>
<circle cx="81.98" cy="257.61" r="3.1" fill="#f666a1"/>
<circle cx="101.5" cy="239.38" r="3.1" fill="#f666a1"/>
<circle cx="97.83" cy="239.08" r="3.1" fill="#f666a1"/>
<circle cx="110.19" cy="230.48" r="3.1" fill="#f666a1"/>
<circle cx="92.88" cy="245.33" r="3.1" fill="#f666a1"/>
<circle cx="103.35" cy="236.1" r="3.1" fill="#f666a1"/>
<circle cx="83.84" cy="254.37" r="3.1" fill="#f666a1"/>
<circle cx="115.76" cy="221.67" r="3.1" fill="#f666a1"/>
<circle cx="78.46" cy="263.63" r="3.1" fill="#f666a1"/>
<circle cx="89.56" cy="252.12" r="3.1" fill="#f666a1"/>
<circle cx="110.74" cy="225" r="3.1" fill="#f666a1"/>
<circle cx="124.96" cy="213.05" r="3.1" fill="#f767a1"/>
<circle cx="99.81" cy="237.96" r="3.1" fill="#f767a1"/>
<circle cx="84.29" cy="255.77" r="3.1" fill="#f767a1"/>
<circle cx="78.31" cy="263.67" r="3.1" fill="#f769a1"/>
<circle cx="105.99" cy="231.57" r="3.1" fill="#f769a1"/>
<circle cx="81.85" cy="256.93" r="3.1" fill="#f769a1"/>
<circle cx="118.28" cy="220.5" r="3.1" fill="#f769a1"/>
<circle cx="88.35" cy="250.12" r="3.1" fill="#f769a1"/>
<circle cx="137.95" cy="195.7" r="3.1" fill="#f769a1"/>
<circle cx="114.29" cy="224.63" r="3.1" fill="#f769a1"/>
<circle cx="82.94" cy="249.07" r="3.1" fill="#f769a1"/>
<circle cx="95.77" cy="242.53" r="3.1" fill="#f76ba2"/>
<circle cx="118.54" cy="221.75" r="3.1" fill="#f76ba2"/>
<circle cx="148.15" cy="186.9" r="3.1" fill="#f76ba2"/>
<circle cx="95.73" cy="244.88" r="3.1" fill="#f76ca3"/>
<circle cx="90.14" cy="248.74" r="3.1" fill="#f76ca3"/>
<circle cx="75.41" cy="263.46" r="3.1" fill="#f76ca3"/>
<circle cx="92.34" cy="248.49" r="3.1" fill="#f76ca3"/>
<circle cx="93.66" cy="248.19" r="3.1" fill="#f76ca3"/>
<circle cx="90.62" cy="247.62" r="3.1" fill="#f76ea3"/>
<circle cx="119.41" cy="222.6" r="3.1" fill="#f76ea3"/>
<circle cx="108.14" cy="235.28" r="3.1" fill="#f76ea3"/>
<circle cx="82.63" cy="258.88" r="3.1" fill="#f76ea3"/>
<circle cx="89.83" cy="250.64" r="3.1" fill="#f770a4"/>
<circle cx="102.3" cy="237.49" r="3.1" fill="#f770a4"/>
<circle cx="95.38" cy="244.95" r="3.1" fill="#f770a4"/>
<circle cx="111.61" cy="225.93" r="3.1" fill="#f770a4"/>
<circle cx="132.7" cy="203.42" r="3.1" fill="#f770a4"/>
<circle cx="107.72" cy="231.96" r="3.1" fill="#f770a4"/>
<circle cx="91.7" cy="249.28" r="3.1" fill="#f770a4"/>
<circle cx="88.43" cy="254.22" r="3.1" fill="#f871a4"/>
<circle cx="81.01" cy="258.51" r="3.1" fill="#f871a4"/>
<circle cx="96.56" cy="244.15" r="3.1" fill="#f871a4"/>
<circle cx="109.16" cy="230.72" r="3.1" fill="#f871a4"/>
<circle cx="94.72" cy="242.28" r="3.1" fill="#f871a4"/>
<circle cx="88.03" cy="250.84" r="3.1" fill="#f871a4"/>
<circle cx="85.03" cy="253.87" r="3.1" fill="#f871a4"/>
<circle cx="104.85" cy="233.19" r="3.1" fill="#f873a5"/>
<circle cx="96.36" cy="240.95" r="3.1" fill="#f873a5"/>
<circle cx="80.96" cy="260.73" r="3.1" fill="#f875a6"/>
<circle cx="87.9" cy="252.6" r="3.1" fill="#f877a6"/>
<circle cx="87.44" cy="253.24" r="3.1" fill="#f877a6"/>
<circle cx="80.89" cy="265.25" r="3.1" fill="#f877a6"/>
<circle cx="95.96" cy="242.7" r="3.1" fill="#f877a6"/>
<circle cx="86.14" cy="254.19" r="3.1" fill="#f877a6"/>
<circle cx="80.4" cy="258.92" r="3.1" fill="#f877a6"/>
<circle cx="131.46" cy="206" r="3.1" fill="#f877a6"/>
<circle cx="97.91" cy="240.31" r="3.1" fill="#f878a7"/>
<circle cx="79.25" cy="263.01" r="3.1" fill="#f87aa8"/>
<circle cx="77.6" cy="262.09" r="3.1" fill="#f87aa8"/>
<circle cx="104.92" cy="235.26" r="3.1" fill="#f87aa8"/>
<circle cx="99.32" cy="242.13" r="3.1" fill="#f87ca8"/>
<circle cx="76.11" cy="262.32" r="3.1" fill="#f87ca8"/>
<circle cx="101.09" cy="237.92" r="3.1" fill="#f87ca8"/>
<circle cx="104.57" cy="232.83" r="3.1" fill="#f87ca8"/>
<circle cx="89.23" cy="249.74" r="3.1" fill="#f87ea9"/>
<circle cx="94.74" cy="242.93" r="3.1" fill="#f87ea9"/>
<circle cx="107.66" cy="231.86" r="3.1" fill="#f87ea9"/>
<circle cx="82.33" cy="258.87" r="3.1" fill="#f87ea9"/>
<circle cx="92.64" cy="246.04" r="3.1" fill="#f87fa9"/>
<circle cx="115.13" cy="224.31" r="3.1" fill="#f87fa9"/>
<circle cx="78.18" cy="261.5" r="3.1" fill="#f87fa9"/>
<circle cx="81.09" cy="260.17" r="3.1" fill="#f87fa9"/>
<circle cx="96.89" cy="241.57" r="3.1" fill="#f881aa"/>
<circle cx="92.64" cy="247.63" r="3.1" fill="#f881aa"/>
<circle cx="107.54" cy="228.92" r="3.1" fill="#f883ab"/>
<circle cx="92.24" cy="247.12" r="3.1" fill="#f883ab"/>
<circle cx="99.57" cy="239.85" r="3.1" fill="#f883ab"/>
<circle cx="98.49" cy="240.75" r="3.1" fill="#f984ab"/>
<circle cx="101.7" cy="238.51" r="3.1" fill="#f984ab"/>
<circle cx="80.54" cy="258.18" r="3.1" fill="#f984ab"/>
<circle cx="75.64" cy="263.45" r="3.1" fill="#f984ab"/>
<circle cx="87.17" cy="255.4" r="3.1" fill="#f984ab"/>
<circle cx="97" cy="242.01" r="3.1" fill="#f984ab"/>
<circle cx="87.18" cy="253.19" r="3.1" fill="#f984ab"/>
<circle cx="81.03" cy="257.11" r="3.1" fill="#f984ab"/>
<circle cx="82.75" cy="258.39" r="3.1" fill="#f986ac"/>
<circle cx="109.8" cy="229.78" r="3.1" fill="#f986ac"/>
<circle cx="92.44" cy="245.4" r="3.1" fill="#f986ac"/>
<circle cx="102.8" cy="235.05" r="3.1" fill="#f986ac"/>
<circle cx="107.83" cy="230.85" r="3.1" fill="#f988ad"/>
<circle cx="83.47" cy="254.62" r="3.1" fill="#f988ad"/>
<circle cx="73.41" cy="267.14" r="3.1" fill="#f988ad"/>
<circle cx="77.76" cy="255.55" r="3.1" fill="#f988ad"/>
<circle cx="87.24" cy="254.17" r="3.1" fill="#f988ad"/>
<circle cx="92.64" cy="245.2" r="3.1" fill="#f988ad"/>
<circle cx="86.98" cy="252.55" r="3.1" fill="#f988ad"/>
<circle cx="85.87" cy="253.91" r="3.1" fill="#f98aad"/>
<circle cx="74.57" cy="267.15" r="3.1" fill="#f98aad"/>
<circle cx="94.33" cy="245.57" r="3.1" fill="#f98aad"/>
<circle cx="94.86" cy="245.76" r="3.1" fill="#f98aad"/>
<circle cx="87.12" cy="250.96" r="3.1" fill="#f98aad"/>
<circle cx="85.27" cy="255.59" r="3.1" fill="#f98bae"/>
<circle cx="77.1" cy="257.54" r="3.1" fill="#f98bae"/>
<circle cx="78.73" cy="259.44" r="3.1" fill="#f98bae"/>
<circle cx="91.05" cy="246.83" r="3.1" fill="#f98bae"/>
<circle cx="77.76" cy="263.33" r="3.1" fill="#f98dae"/>
<circle cx="78.58" cy="260.14" r="3.1" fill="#f98dae"/>
<circle cx="79.36" cy="259.4" r="3.1" fill="#f98dae"/>
<circle cx="94.9" cy="245.23" r="3.1" fill="#f98dae"/>
<circle cx="93.01" cy="245.73" r="3.1" fill="#f991b0"/>
<circle cx="74.59" cy="265.47" r="3.1" fill="#f991b0"/>
<circle cx="76.42" cy="266.15" r="3.1" fill="#f991b0"/>
<circle cx="79.69" cy="259.26" r="3.1" fill="#f991b0"/>
<circle cx="95.35" cy="244.17" r="3.1" fill="#f992b0"/>
<circle cx="81.96" cy="257.81" r="3.1" fill="#f992b0"/>
<circle cx="80.76" cy="258.86" r="3.1" fill="#f992b0"/>
<circle cx="77.08" cy="264.36" r="3.1" fill="#f992b0"/>
<circle cx="83.91" cy="255.92" r="3.1" fill="#f994b1"/>
<circle cx="90.78" cy="250.05" r="3.1" fill="#f994b1"/>
<circle cx="72.56" cy="266.37" r="3.1" fill="#f994b1"/>
<circle cx="96.3" cy="244.22" r="3.1" fill="#f996b2"/>
<circle cx="84.25" cy="256.83" r="3.1" fill="#fa97b2"/>
<circle cx="99.44" cy="240.62" r="3.1" fill="#fa97b2"/>
<circle cx="74.64" cy="265.1" r="3.1" fill="#fa9bb4"/>
<circle cx="87.57" cy="251.95" r="3.1" fill="#fa9db4"/>
<circle cx="98.75" cy="240.84" r="3.1" fill="#fa9db4"/>
<circle cx="76.98" cy="264.09" r="3.1" fill="#fa9db4"/>
<circle cx="78.07" cy="262.93" r="3.1" fill="#fa9eb5"/>
<circle cx="78.19" cy="260.76" r="3.1" fill="#fa9eb5"/>
<circle cx="81.84" cy="258.46" r="3.1" fill="#fa9eb5"/>
<circle cx="74.88" cy="265.02" r="3.1" fill="#faa0b5"/>
<circle cx="104.77" cy="234.34" r="3.1" fill="#faa1b6"/>
<circle cx="86.74" cy="253.87" r="3.1" fill="#faa1b6"/>
<circle cx="75.2" cy="264.93" r="3.1" fill="#faa2b6"/>
<circle cx="90.6" cy="248.69" r="3.1" fill="#faa2b6"/>
<circle cx="95.35" cy="244.25" r="3.1" fill="#faa2b6"/>
<circle cx="100.68" cy="237.26" r="3.1" fill="#faa2b6"/>
<circle cx="82.86" cy="257.95" r="3.1" fill="#faa2b6"/>
<circle cx="77.43" cy="263.69" r="3.1" fill="#faa2b6"/>
<circle cx="76.79" cy="262.69" r="3.1" fill="#faa3b6"/>
<circle cx="75.31" cy="265.09" r="3.1" fill="#faa3b6"/>
<circle cx="83.14" cy="256.98" r="3.1" fill="#faa3b6"/>
<circle cx="91.22" cy="248.17" r="3.1" fill="#faa3b6"/>
<circle cx="89.47" cy="250.98" r="3.1" fill="#faa5b7"/>
<circle cx="79.02" cy="263.4" r="3.1" fill="#faa6b7"/>
<circle cx="86.91" cy="252.85" r="3.1" fill="#faa7b7"/>
<circle cx="85.3" cy="253.65" r="3.1" fill="#faa7b7"/>
<circle cx="87.43" cy="251.89" r="3.1" fill="#faa7b7"/>
<circle cx="75.45" cy="264.84" r="3.1" fill="#faa8b8"/>
<circle cx="80.35" cy="259.54" r="3.1" fill="#faa8b8"/>
<circle cx="81.16" cy="260.02" r="3.1" fill="#faa8b8"/>
<circle cx="81.12" cy="259.33" r="3.1" fill="#fba9b8"/>
<circle cx="98.13" cy="241.51" r="3.1" fill="#fbaab8"/>
<circle cx="86.2" cy="253.53" r="3.1" fill="#fbacb9"/>
<circle cx="76.05" cy="264.56" r="3.1" fill="#fbacb9"/>
<circle cx="74.46" cy="266.98" r="3.1" fill="#fbacb9"/>
<circle cx="76.22" cy="264.13" r="3.1" fill="#fbacb9"/>
<circle cx="83.45" cy="257.18" r="3.1" fill="#fbadb9"/>
<circle cx="81.79" cy="258.06" r="3.1" fill="#fbadb9"/>
<circle cx="93.49" cy="246.85" r="3.1" fill="#fbafba"/>
<circle cx="81.15" cy="259.86" r="3.1" fill="#fbb0ba"/>
<circle cx="86.89" cy="254.79" r="3.1" fill="#fbb0ba"/>
<circle cx="75.14" cy="266.55" r="3.1" fill="#fbb2ba"/>
<circle cx="74.13" cy="266.56" r="3.1" fill="#fbb2ba"/>
<circle cx="85.45" cy="256.29" r="3.1" fill="#fbb4bb"/>
<circle cx="86.39" cy="253.82" r="3.1" fill="#fbb4bb"/>
<circle cx="81.32" cy="258.89" r="3.1" fill="#fbb4bb"/>
<circle cx="82.17" cy="258.92" r="3.1" fill="#fbb5bb"/>
<circle cx="85.5" cy="254.71" r="3.1" fill="#fbb5bb"/>
<circle cx="75.2" cy="266.11" r="3.1" fill="#fbb5bb"/>
<circle cx="78.71" cy="261.66" r="3.1" fill="#fbb5bb"/>
<circle cx="75.17" cy="264.19" r="3.1" fill="#fbb6bc"/>
<circle cx="75.65" cy="265.73" r="3.1" fill="#fbb8bc"/>
<circle cx="78.67" cy="261.99" r="3.1" fill="#fbb8bc"/>
<circle cx="91.41" cy="247.76" r="3.1" fill="#fbb8bc"/>
<circle cx="75.83" cy="263.92" r="3.1" fill="#fbb9bc"/>
<circle cx="77.36" cy="263.2" r="3.1" fill="#fcbcbd"/>
<circle cx="73.22" cy="268.14" r="3.1" fill="#fcbebe"/>
<circle cx="77.23" cy="263.21" r="3.1" fill="#fcbfbe"/>
<circle cx="76.42" cy="264.9" r="3.1" fill="#fcc0bf"/>
<circle cx="78.06" cy="261.68" r="3.1" fill="#fcc1bf"/>
<circle cx="82.59" cy="256.94" r="3.1" fill="#fcc1bf"/>
<circle cx="78.59" cy="261.84" r="3.1" fill="#fcc5c0"/>
<circle cx="77.92" cy="263.08" r="3.1" fill="#fcc6c2"/>
<circle cx="78.73" cy="262" r="3.1" fill="#fcc6c2"/>
<circle cx="83.39" cy="257.18" r="3.1" fill="#fcc7c3"/>
<circle cx="78.13" cy="262.6" r="3.1" fill="#fcc7c3"/>
<circle cx="86.34" cy="253.86" r="3.1" fill="#fcc8c3"/>
<circle cx="76.55" cy="264.1" r="3.1" fill="#fcc8c3"/>
<circle cx="72.51" cy="268.45" r="3.1" fill="#fcc9c4"/>
<circle cx="73.74" cy="267.68" r="3.1" fill="#fccac5"/>
<circle cx="78.68" cy="262.05" r="3.1" fill="#fccbc6"/>
<circle cx="76.98" cy="263.1" r="3.1" fill="#fccdc9"/>
<circle cx="72.8" cy="268.29" r="3.1" fill="#fccdc9"/>
<circle cx="77.1" cy="264.7" r="3.1" fill="#fdd6d2"/>
<circle cx="73.86" cy="266.49" r="3.1" fill="#fdddda"/>
<circle cx="78.64" cy="262.01" r="3.1" fill="#fddfdc"/>
<circle cx="75.09" cy="265.14" r="3.1" fill="#fde3e0"/>
</g>
<path d="M63 64V277.1H273" fill="none" stroke="#222" stroke-width="1.5"/>
<path d="M72.4 277.7v2.6" stroke="#222" stroke-width="1"/>
<path d="M126.75 277.7v2.6" stroke="#222" stroke-width="1"/>
<path d="M181.1 277.7v2.6" stroke="#222" stroke-width="1"/>
<path d="M235.45 277.7v2.6" stroke="#222" stroke-width="1"/>
<path d="M62.4 268.5h-2.6" stroke="#222" stroke-width="1"/>
<path d="M62.4 210.73h-2.6" stroke="#222" stroke-width="1"/>
<path d="M62.4 152.96h-2.6" stroke="#222" stroke-width="1"/>
<path d="M62.4 95.19h-2.6" stroke="#222" stroke-width="1"/>
<text x="72.4" y="296.8" font-size="20.3" font-weight="bold" text-anchor="middle" textLength="12" lengthAdjust="spacingAndGlyphs" stroke="#000" stroke-width="0.35">0</text>
<text x="126.75" y="296.8" font-size="20.3" font-weight="bold" text-anchor="middle" textLength="25.8" lengthAdjust="spacingAndGlyphs" stroke="#000" stroke-width="0.35">10</text>
<text x="181.1" y="296.8" font-size="20.3" font-weight="bold" text-anchor="middle" textLength="25.8" lengthAdjust="spacingAndGlyphs" stroke="#000" stroke-width="0.35">20</text>
<text x="235.45" y="296.8" font-size="20.3" font-weight="bold" text-anchor="middle" textLength="25.8" lengthAdjust="spacingAndGlyphs" stroke="#000" stroke-width="0.35">30</text>
<text x="58" y="275.7" font-size="20.3" font-weight="bold" text-anchor="end" textLength="12" lengthAdjust="spacingAndGlyphs" stroke="#000" stroke-width="0.35">0</text>
<text x="58" y="217.93" font-size="20.3" font-weight="bold" text-anchor="end" textLength="25.8" lengthAdjust="spacingAndGlyphs" stroke="#000" stroke-width="0.35">10</text>
<text x="58" y="160.16" font-size="20.3" font-weight="bold" text-anchor="end" textLength="25.8" lengthAdjust="spacingAndGlyphs" stroke="#000" stroke-width="0.35">20</text>
<text x="58" y="102.39" font-size="20.3" font-weight="bold" text-anchor="end" textLength="25.8" lengthAdjust="spacingAndGlyphs" stroke="#000" stroke-width="0.35">30</text>
<text x="63.4" y="317.6" font-size="19.2" font-weight="bold" textLength="210.2" lengthAdjust="spacingAndGlyphs" stroke="#000" stroke-width="0.3">Exp. <tspan font-style="italic" font-weight="normal" stroke="none">&#957;</tspan> at 40 <tspan font-style="italic" font-weight="normal" stroke="none" font-size="0.72em" dy="-6">o</tspan><tspan dy="6">C</tspan> (cSt)</text>
<text x="25" y="280.9" font-size="19.2" font-weight="bold" textLength="220.9" lengthAdjust="spacingAndGlyphs" stroke="#000" stroke-width="0.3" transform="rotate(-90 25 280.9)">Pred. <tspan font-style="italic" font-weight="normal" stroke="none">&#957;</tspan> at 40 <tspan font-style="italic" font-weight="normal" stroke="none" font-size="0.72em" dy="-6">o</tspan><tspan dy="6">C</tspan> (cSt)</text>
<text x="67" y="83" font-size="24.2" font-weight="bold">training set</text>
<text x="262.5" y="242.4" font-size="21.2" font-weight="bold" text-anchor="end">R<tspan font-size="14" dy="-6.2">2</tspan><tspan dy="6.2" dx="0.6">: 0.991</tspan></text>
<text x="270" y="267.4" font-size="21.3" font-weight="bold" text-anchor="end">MAE: 0.328 cSt</text>
<text x="-1.5" y="30.5" font-size="43.5" font-weight="bold">a.</text>
<rect x="441.1" y="22.2" width="11.82" height="35.2" fill="#6bc3d0" stroke="#111" stroke-width="0.9"/>
<rect x="452.92" y="47.3" width="11.82" height="10.1" fill="#6bc3d0" stroke="#111" stroke-width="0.9"/>
<rect x="464.74" y="52" width="11.82" height="5.4" fill="#6bc3d0" stroke="#111" stroke-width="0.9"/>
<rect x="476.56" y="53.5" width="11.82" height="3.9" fill="#6bc3d0" stroke="#111" stroke-width="0.9"/>
<rect x="488.38" y="55.8" width="11.82" height="1.6" fill="#6bc3d0" stroke="#111" stroke-width="0.9"/>
<rect x="500.2" y="54.3" width="11.82" height="3.1" fill="#6bc3d0" stroke="#111" stroke-width="0.9"/>
<rect x="512.02" y="54" width="11.82" height="3.4" fill="#6bc3d0" stroke="#111" stroke-width="0.9"/>
<rect x="523.84" y="55.4" width="11.82" height="2" fill="#6bc3d0" stroke="#111" stroke-width="0.9"/>
<rect x="535.66" y="55.4" width="11.82" height="2" fill="#6bc3d0" stroke="#111" stroke-width="0.9"/>
<rect x="547.48" y="56.8" width="11.82" height="0.6" fill="#6bc3d0" stroke="#111" stroke-width="0.9"/>
<rect x="559.3" y="56.9" width="11.82" height="0.5" fill="#6bc3d0" stroke="#111" stroke-width="0.9"/>
<rect x="571.12" y="56.8" width="11.82" height="0.6" fill="#6bc3d0" stroke="#111" stroke-width="0.9"/>
<rect x="582.94" y="56.9" width="11.82" height="0.5" fill="#6bc3d0" stroke="#111" stroke-width="0.9"/>
<rect x="594.76" y="56.8" width="11.82" height="0.6" fill="#6bc3d0" stroke="#111" stroke-width="0.9"/>
<rect x="606.58" y="57" width="11.82" height="0.4" fill="#6bc3d0" stroke="#111" stroke-width="0.9"/>
<rect x="618.4" y="57" width="11.82" height="0.4" fill="#6bc3d0" stroke="#111" stroke-width="0.9"/>
<path d="M430.75 57.4H641" stroke="#222" stroke-width="1.25"/>
<path d="M440.5 58v2.4" stroke="#222" stroke-width="0.9"/>
<path d="M506.8 58v2.4" stroke="#222" stroke-width="0.9"/>
<path d="M573.1 58v2.4" stroke="#222" stroke-width="0.9"/>
<path d="M639.4 58v2.4" stroke="#222" stroke-width="0.9"/>
<rect x="648.4" y="255.8" width="34" height="12.1" fill="#6bc3d0" stroke="#111" stroke-width="0.9"/>
<rect x="648.4" y="243.7" width="10.9" height="12.1" fill="#6bc3d0" stroke="#111" stroke-width="0.9"/>
<rect x="648.4" y="231.6" width="3.6" height="12.1" fill="#6bc3d0" stroke="#111" stroke-width="0.9"/>
<rect x="648.4" y="219.5" width="2.9" height="12.1" fill="#6bc3d0" stroke="#111" stroke-width="0.9"/>
<rect x="648.4" y="207.4" width="1.1" height="12.1" fill="#6bc3d0" stroke="#111" stroke-width="0.9"/>
<rect x="648.4" y="195.3" width="2.2" height="12.1" fill="#6bc3d0" stroke="#111" stroke-width="0.9"/>
<rect x="648.4" y="183.2" width="2.9" height="12.1" fill="#6bc3d0" stroke="#111" stroke-width="0.9"/>
<rect x="648.4" y="171.1" width="1.1" height="12.1" fill="#6bc3d0" stroke="#111" stroke-width="0.9"/>
<rect x="648.4" y="159" width="1.1" height="12.1" fill="#6bc3d0" stroke="#111" stroke-width="0.9"/>
<rect x="648.4" y="146.9" width="0.5" height="12.1" fill="#6bc3d0" stroke="#111" stroke-width="0.9"/>
<rect x="648.4" y="134.8" width="0.3" height="12.1" fill="#6bc3d0" stroke="#111" stroke-width="0.9"/>
<rect x="648.4" y="122.7" width="1.1" height="12.1" fill="#6bc3d0" stroke="#111" stroke-width="0.9"/>
<rect x="648.4" y="110.6" width="0.3" height="12.1" fill="#6bc3d0" stroke="#111" stroke-width="0.9"/>
<rect x="648.4" y="98.5" width="0.3" height="12.1" fill="#6bc3d0" stroke="#111" stroke-width="0.9"/>
<rect x="648.4" y="86.4" width="0.3" height="12.1" fill="#6bc3d0" stroke="#111" stroke-width="0.9"/>
<rect x="648.4" y="74.3" width="0.3" height="12.1" fill="#6bc3d0" stroke="#111" stroke-width="0.9"/>
<path d="M648.4 64V277.75" stroke="#222" stroke-width="1.25"/>
<path d="M647.8 268.3h-2.4" stroke="#222" stroke-width="0.9"/>
<path d="M647.8 206.3h-2.4" stroke="#222" stroke-width="0.9"/>
<path d="M647.8 144.3h-2.4" stroke="#222" stroke-width="0.9"/>
<path d="M647.8 82.3h-2.4" stroke="#222" stroke-width="0.9"/>
<clipPath id="c2"><rect x="431.5" y="64" width="209.5" height="213"/></clipPath><g clip-path="url(#c2)">
<circle cx="543.5" cy="187.5" r="3.1" fill="#081d58"/>
<circle cx="630.9" cy="74.1" r="3.1" fill="#0e2265"/>
<circle cx="589.5" cy="142.8" r="3.1" fill="#0e2265"/>
<circle cx="485" cy="198.5" r="3.1" fill="#0e2265"/>
<circle cx="615.9" cy="91" r="3.1" fill="#13266f"/>
<circle cx="607.6" cy="122.2" r="3.1" fill="#13266f"/>
<circle cx="475.5" cy="205.5" r="3.1" fill="#13266f"/>
<circle cx="482.4" cy="209.9" r="3.1" fill="#172978"/>
<circle cx="599" cy="122.2" r="3.1" fill="#1f2f87"/>
<circle cx="557.3" cy="162.1" r="3.1" fill="#1f2f87"/>
<circle cx="458" cy="260.3" r="3.1" fill="#1f2f87"/>
<circle cx="600.5" cy="123.2" r="3.1" fill="#233390"/>
<circle cx="582.1" cy="129.9" r="3.1" fill="#243c98"/>
<circle cx="554.9" cy="154.1" r="3.1" fill="#243c98"/>
<circle cx="501.8" cy="192.4" r="3.1" fill="#243c98"/>
<circle cx="569.9" cy="144.3" r="3.1" fill="#24479d"/>
<circle cx="502.1" cy="192.1" r="3.1" fill="#24479d"/>
<circle cx="500.3" cy="220.9" r="3.1" fill="#24479d"/>
<circle cx="565" cy="149.8" r="3.1" fill="#234da0"/>
<circle cx="547.5" cy="152" r="3.1" fill="#234da0"/>
<circle cx="513.2" cy="183" r="3.1" fill="#234da0"/>
<circle cx="508.3" cy="189.7" r="3.1" fill="#234da0"/>
<circle cx="508.4" cy="189.5" r="3.1" fill="#234da0"/>
<circle cx="505.5" cy="216.5" r="3.1" fill="#234da0"/>
<circle cx="450" cy="244.2" r="3.1" fill="#234da0"/>
<circle cx="535.5" cy="185.1" r="3.1" fill="#2354a3"/>
<circle cx="513.9" cy="183.6" r="3.1" fill="#2354a3"/>
<circle cx="540.4" cy="159" r="3.1" fill="#225da8"/>
<circle cx="538.9" cy="163.6" r="3.1" fill="#225da8"/>
<circle cx="528.1" cy="181.5" r="3.1" fill="#225da8"/>
<circle cx="537.4" cy="167.6" r="3.1" fill="#216aad"/>
<circle cx="526" cy="172.8" r="3.1" fill="#216aad"/>
<circle cx="527.6" cy="178" r="3.1" fill="#216aad"/>
<circle cx="444.9" cy="250.1" r="3.1" fill="#216aad"/>
<circle cx="444.1" cy="253" r="3.1" fill="#216aad"/>
<circle cx="529.7" cy="182" r="3.1" fill="#2072b1"/>
<circle cx="522" cy="185.1" r="3.1" fill="#2072b1"/>
<circle cx="471.9" cy="245.7" r="3.1" fill="#2072b1"/>
<circle cx="495.2" cy="220.1" r="3.1" fill="#1f7ab5"/>
<circle cx="522.2" cy="185.1" r="3.1" fill="#1e86bb"/>
<circle cx="506.9" cy="211.4" r="3.1" fill="#1e86bb"/>
<circle cx="448.5" cy="251.5" r="3.1" fill="#1e86bb"/>
<circle cx="514.9" cy="194.6" r="3.1" fill="#1f93c0"/>
<circle cx="520.8" cy="194.6" r="3.1" fill="#1f93c0"/>
<circle cx="525.9" cy="193.9" r="3.1" fill="#1f93c0"/>
<circle cx="493" cy="222.3" r="3.1" fill="#1f93c0"/>
<circle cx="506.9" cy="199.7" r="3.1" fill="#2498c1"/>
<circle cx="510.6" cy="197.5" r="3.1" fill="#2498c1"/>
<circle cx="518.6" cy="199" r="3.1" fill="#2498c1"/>
<circle cx="516.5" cy="197" r="3.1" fill="#2498c1"/>
<circle cx="487.9" cy="215" r="3.1" fill="#33a7c2"/>
<circle cx="477" cy="225.3" r="3.1" fill="#33a7c2"/>
<circle cx="460.9" cy="240.6" r="3.1" fill="#33a7c2"/>
<circle cx="452.9" cy="247.9" r="3.1" fill="#33a7c2"/>
<circle cx="473.3" cy="230.4" r="3.1" fill="#3bb0c3"/>
<circle cx="452.9" cy="263.2" r="3.1" fill="#40b5c4"/>
<circle cx="489.4" cy="218.7" r="3.1" fill="#59bfc0"/>
<circle cx="487.9" cy="223.1" r="3.1" fill="#69c5be"/>
<circle cx="477.7" cy="236.2" r="3.1" fill="#69c5be"/>
<circle cx="479" cy="232" r="3.1" fill="#73c8bd"/>
<circle cx="484" cy="229" r="3.1" fill="#73c8bd"/>
<circle cx="460.2" cy="253.7" r="3.1" fill="#7cccbb"/>
<circle cx="482.8" cy="226" r="3.1" fill="#8ed3ba"/>
<circle cx="480.6" cy="230.4" r="3.1" fill="#8ed3ba"/>
<circle cx="461.7" cy="248.6" r="3.1" fill="#8ed3ba"/>
<circle cx="470" cy="248" r="3.1" fill="#abdeb7"/>
<circle cx="476" cy="240" r="3.1" fill="#abdeb7"/>
<circle cx="461" cy="256" r="3.1" fill="#c6e9b4"/>
<circle cx="449" cy="258" r="3.1" fill="#d0edb3"/>
<circle cx="445" cy="262.5" r="3.1" fill="#d6efb3"/>
<circle cx="455" cy="258" r="3.1" fill="#dcf1b2"/>
<circle cx="474.1" cy="234.7" r="3.1" fill="#f3fabf"/>
<circle cx="471.9" cy="238.4" r="3.1" fill="#f3fabf"/>
<circle cx="461" cy="249" r="3.1" fill="#f3fabf"/>
<circle cx="442.5" cy="264" r="3.1" fill="#f3fabf"/>
<circle cx="467.5" cy="239.9" r="3.1" fill="#f6fbc5"/>
<circle cx="464.6" cy="242.8" r="3.1" fill="#f6fbc5"/>
<circle cx="448.5" cy="261.5" r="3.1" fill="#f6fbc5"/>
<circle cx="453.5" cy="256.5" r="3.1" fill="#f6fbc5"/>
<circle cx="456" cy="254" r="3.1" fill="#f6fbc5"/>
<circle cx="463.5" cy="246" r="3.1" fill="#f6fbc5"/>
<circle cx="468.5" cy="241" r="3.1" fill="#f6fbc5"/>
<circle cx="471" cy="242" r="3.1" fill="#f6fbc5"/>
<circle cx="452" cy="264" r="3.1" fill="#f6fbc5"/>
<circle cx="443.5" cy="266" r="3.1" fill="#f7fcc7"/>
<circle cx="446" cy="264" r="3.1" fill="#f7fcc7"/>
<circle cx="451" cy="259" r="3.1" fill="#f7fcc7"/>
<circle cx="458.5" cy="251.5" r="3.1" fill="#f7fcc7"/>
<circle cx="466" cy="243.5" r="3.1" fill="#f7fcc7"/>
<circle cx="447" cy="265" r="3.1" fill="#f7fcc7"/>
<circle cx="453" cy="260" r="3.1" fill="#f7fcc7"/>
<circle cx="459" cy="254.5" r="3.1" fill="#f7fcc7"/>
<circle cx="465" cy="249" r="3.1" fill="#f7fcc7"/>
<circle cx="468" cy="246" r="3.1" fill="#f7fcc7"/>
<circle cx="474" cy="239" r="3.1" fill="#f7fcc7"/>
<circle cx="447" cy="268" r="3.1" fill="#f7fcc7"/>
<circle cx="457" cy="260" r="3.1" fill="#f7fcc7"/>
<circle cx="466" cy="252" r="3.1" fill="#f7fcc7"/>
<circle cx="441.2" cy="267.6" r="3.1" fill="#f9fdcb"/>
<circle cx="444" cy="267" r="3.1" fill="#f9fdcb"/>
<circle cx="450" cy="262.5" r="3.1" fill="#f9fdcb"/>
<circle cx="456" cy="257" r="3.1" fill="#f9fdcb"/>
<circle cx="462" cy="252" r="3.1" fill="#f9fdcb"/>
</g>
<path d="M431.5 64V277H641" fill="none" stroke="#222" stroke-width="1.5"/>
<path d="M440.5 277.6v2.6" stroke="#222" stroke-width="1"/>
<path d="M506.8 277.6v2.6" stroke="#222" stroke-width="1"/>
<path d="M573.1 277.6v2.6" stroke="#222" stroke-width="1"/>
<path d="M639.4 277.6v2.6" stroke="#222" stroke-width="1"/>
<path d="M430.9 268.3h-2.6" stroke="#222" stroke-width="1"/>
<path d="M430.9 206.3h-2.6" stroke="#222" stroke-width="1"/>
<path d="M430.9 144.3h-2.6" stroke="#222" stroke-width="1"/>
<path d="M430.9 82.3h-2.6" stroke="#222" stroke-width="1"/>
<text x="440.5" y="296.8" font-size="20.3" font-weight="bold" text-anchor="middle" textLength="12" lengthAdjust="spacingAndGlyphs" stroke="#000" stroke-width="0.35">0</text>
<text x="506.8" y="296.8" font-size="20.3" font-weight="bold" text-anchor="middle" textLength="25.8" lengthAdjust="spacingAndGlyphs" stroke="#000" stroke-width="0.35">10</text>
<text x="573.1" y="296.8" font-size="20.3" font-weight="bold" text-anchor="middle" textLength="25.8" lengthAdjust="spacingAndGlyphs" stroke="#000" stroke-width="0.35">20</text>
<text x="639.4" y="296.8" font-size="20.3" font-weight="bold" text-anchor="middle" textLength="25.8" lengthAdjust="spacingAndGlyphs" stroke="#000" stroke-width="0.35">30</text>
<text x="426.5" y="275.5" font-size="20.3" font-weight="bold" text-anchor="end" textLength="12" lengthAdjust="spacingAndGlyphs" stroke="#000" stroke-width="0.35">0</text>
<text x="426.5" y="213.5" font-size="20.3" font-weight="bold" text-anchor="end" textLength="25.8" lengthAdjust="spacingAndGlyphs" stroke="#000" stroke-width="0.35">10</text>
<text x="426.5" y="151.5" font-size="20.3" font-weight="bold" text-anchor="end" textLength="25.8" lengthAdjust="spacingAndGlyphs" stroke="#000" stroke-width="0.35">20</text>
<text x="426.5" y="89.5" font-size="20.3" font-weight="bold" text-anchor="end" textLength="25.8" lengthAdjust="spacingAndGlyphs" stroke="#000" stroke-width="0.35">30</text>
<text x="432" y="317.6" font-size="19.2" font-weight="bold" textLength="210.6" lengthAdjust="spacingAndGlyphs" stroke="#000" stroke-width="0.3">Exp. <tspan font-style="italic" font-weight="normal" stroke="none">&#957;</tspan> at 40 <tspan font-style="italic" font-weight="normal" stroke="none" font-size="0.72em" dy="-6">o</tspan><tspan dy="6">C</tspan> (cSt)</text>
<text x="393.3" y="280.9" font-size="19.2" font-weight="bold" textLength="221.9" lengthAdjust="spacingAndGlyphs" stroke="#000" stroke-width="0.3" transform="rotate(-90 393.3 280.9)">Pred. <tspan font-style="italic" font-weight="normal" stroke="none">&#957;</tspan> at 40 <tspan font-style="italic" font-weight="normal" stroke="none" font-size="0.72em" dy="-6">o</tspan><tspan dy="6">C</tspan> (cSt)</text>
<text x="439" y="84" font-size="24.2" font-weight="bold">test set</text>
<text x="631.4" y="243.4" font-size="21.2" font-weight="bold" text-anchor="end">R<tspan font-size="14" dy="-6.2">2</tspan><tspan dy="6.2" dx="0.6">: 0.972</tspan></text>
<text x="637" y="268.1" font-size="21.3" font-weight="bold" text-anchor="end">MAE: 0.568 cSt</text>
<text x="365.2" y="30.5" font-size="43.5" font-weight="bold">b.</text>
<rect x="73.6" y="341.7" width="7.05" height="35" fill="#dd54a8" stroke="#111" stroke-width="0.9"/>
<rect x="80.65" y="359.5" width="7.05" height="17.2" fill="#dd54a8" stroke="#111" stroke-width="0.9"/>
<rect x="87.7" y="369.1" width="7.05" height="7.6" fill="#dd54a8" stroke="#111" stroke-width="0.9"/>
<rect x="94.75" y="372.6" width="7.05" height="4.1" fill="#dd54a8" stroke="#111" stroke-width="0.9"/>
<rect x="101.8" y="373.8" width="7.05" height="2.9" fill="#dd54a8" stroke="#111" stroke-width="0.9"/>
<rect x="108.85" y="374.2" width="7.05" height="2.5" fill="#dd54a8" stroke="#111" stroke-width="0.9"/>
<rect x="115.9" y="374.8" width="7.05" height="1.9" fill="#dd54a8" stroke="#111" stroke-width="0.9"/>
<rect x="122.95" y="374.8" width="7.05" height="1.9" fill="#dd54a8" stroke="#111" stroke-width="0.9"/>
<rect x="130" y="374.8" width="7.05" height="1.9" fill="#dd54a8" stroke="#111" stroke-width="0.9"/>
<rect x="137.05" y="373.5" width="7.05" height="3.2" fill="#dd54a8" stroke="#111" stroke-width="0.9"/>
<rect x="144.1" y="374.5" width="7.05" height="2.2" fill="#dd54a8" stroke="#111" stroke-width="0.9"/>
<rect x="151.15" y="374.8" width="7.05" height="1.9" fill="#dd54a8" stroke="#111" stroke-width="0.9"/>
<rect x="158.2" y="375.2" width="7.05" height="1.5" fill="#dd54a8" stroke="#111" stroke-width="0.9"/>
<rect x="165.25" y="375.2" width="7.05" height="1.5" fill="#dd54a8" stroke="#111" stroke-width="0.9"/>
<rect x="172.3" y="375.5" width="7.05" height="1.2" fill="#dd54a8" stroke="#111" stroke-width="0.9"/>
<rect x="179.35" y="375.7" width="7.05" height="1" fill="#dd54a8" stroke="#111" stroke-width="0.9"/>
<rect x="186.4" y="375.5" width="7.05" height="1.2" fill="#dd54a8" stroke="#111" stroke-width="0.9"/>
<rect x="193.45" y="375.9" width="7.05" height="0.8" fill="#dd54a8" stroke="#111" stroke-width="0.9"/>
<rect x="200.5" y="375.9" width="7.05" height="0.8" fill="#dd54a8" stroke="#111" stroke-width="0.9"/>
<rect x="207.55" y="375.9" width="7.05" height="0.8" fill="#dd54a8" stroke="#111" stroke-width="0.9"/>
<rect x="214.6" y="376.1" width="7.05" height="0.6" fill="#dd54a8" stroke="#111" stroke-width="0.9"/>
<rect x="221.65" y="376.1" width="7.05" height="0.6" fill="#dd54a8" stroke="#111" stroke-width="0.9"/>
<rect x="228.7" y="376.2" width="7.05" height="0.5" fill="#dd54a8" stroke="#111" stroke-width="0.9"/>
<rect x="235.75" y="376.2" width="7.05" height="0.5" fill="#dd54a8" stroke="#111" stroke-width="0.9"/>
<rect x="242.8" y="376.2" width="7.05" height="0.5" fill="#dd54a8" stroke="#111" stroke-width="0.9"/>
<rect x="249.85" y="376.3" width="7.05" height="0.4" fill="#dd54a8" stroke="#111" stroke-width="0.9"/>
<rect x="256.9" y="376.3" width="7.05" height="0.4" fill="#dd54a8" stroke="#111" stroke-width="0.9"/>
<rect x="263.95" y="376.3" width="7.05" height="0.4" fill="#dd54a8" stroke="#111" stroke-width="0.9"/>
<path d="M63.45 376.7H273.5" stroke="#222" stroke-width="1.25"/>
<path d="M72.8 377.3v2.4" stroke="#222" stroke-width="0.9"/>
<path d="M108.54 377.3v2.4" stroke="#222" stroke-width="0.9"/>
<path d="M144.28 377.3v2.4" stroke="#222" stroke-width="0.9"/>
<path d="M180.02 377.3v2.4" stroke="#222" stroke-width="0.9"/>
<path d="M215.76 377.3v2.4" stroke="#222" stroke-width="0.9"/>
<path d="M251.5 377.3v2.4" stroke="#222" stroke-width="0.9"/>
<rect x="280.8" y="579.9" width="34.7" height="7.2" fill="#dd54a8" stroke="#111" stroke-width="0.9"/>
<rect x="280.8" y="572.7" width="16" height="7.2" fill="#dd54a8" stroke="#111" stroke-width="0.9"/>
<rect x="280.8" y="565.5" width="6.9" height="7.2" fill="#dd54a8" stroke="#111" stroke-width="0.9"/>
<rect x="280.8" y="558.3" width="4.6" height="7.2" fill="#dd54a8" stroke="#111" stroke-width="0.9"/>
<rect x="280.8" y="551.1" width="3.4" height="7.2" fill="#dd54a8" stroke="#111" stroke-width="0.9"/>
<rect x="280.8" y="543.9" width="2.5" height="7.2" fill="#dd54a8" stroke="#111" stroke-width="0.9"/>
<rect x="280.8" y="536.7" width="2" height="7.2" fill="#dd54a8" stroke="#111" stroke-width="0.9"/>
<rect x="280.8" y="529.5" width="1.8" height="7.2" fill="#dd54a8" stroke="#111" stroke-width="0.9"/>
<rect x="280.8" y="522.3" width="1.5" height="7.2" fill="#dd54a8" stroke="#111" stroke-width="0.9"/>
<rect x="280.8" y="515.1" width="1.5" height="7.2" fill="#dd54a8" stroke="#111" stroke-width="0.9"/>
<rect x="280.8" y="507.9" width="2" height="7.2" fill="#dd54a8" stroke="#111" stroke-width="0.9"/>
<rect x="280.8" y="500.7" width="1.5" height="7.2" fill="#dd54a8" stroke="#111" stroke-width="0.9"/>
<rect x="280.8" y="493.5" width="1.2" height="7.2" fill="#dd54a8" stroke="#111" stroke-width="0.9"/>
<rect x="280.8" y="486.3" width="1" height="7.2" fill="#dd54a8" stroke="#111" stroke-width="0.9"/>
<rect x="280.8" y="479.1" width="0.8" height="7.2" fill="#dd54a8" stroke="#111" stroke-width="0.9"/>
<rect x="280.8" y="471.9" width="0.6" height="7.2" fill="#dd54a8" stroke="#111" stroke-width="0.9"/>
<rect x="280.8" y="464.7" width="0.5" height="7.2" fill="#dd54a8" stroke="#111" stroke-width="0.9"/>
<rect x="280.8" y="457.5" width="0.5" height="7.2" fill="#dd54a8" stroke="#111" stroke-width="0.9"/>
<rect x="280.8" y="450.3" width="0.4" height="7.2" fill="#dd54a8" stroke="#111" stroke-width="0.9"/>
<rect x="280.8" y="443.1" width="0.4" height="7.2" fill="#dd54a8" stroke="#111" stroke-width="0.9"/>
<rect x="280.8" y="435.9" width="0.3" height="7.2" fill="#dd54a8" stroke="#111" stroke-width="0.9"/>
<rect x="280.8" y="428.7" width="0.3" height="7.2" fill="#dd54a8" stroke="#111" stroke-width="0.9"/>
<rect x="280.8" y="421.5" width="0.3" height="7.2" fill="#dd54a8" stroke="#111" stroke-width="0.9"/>
<rect x="280.8" y="414.3" width="0.3" height="7.2" fill="#dd54a8" stroke="#111" stroke-width="0.9"/>
<rect x="280.8" y="407.1" width="0.3" height="7.2" fill="#dd54a8" stroke="#111" stroke-width="0.9"/>
<rect x="280.8" y="399.9" width="0.2" height="7.2" fill="#dd54a8" stroke="#111" stroke-width="0.9"/>
<rect x="280.8" y="392.7" width="0.2" height="7.2" fill="#dd54a8" stroke="#111" stroke-width="0.9"/>
<rect x="280.8" y="385.5" width="0.2" height="7.2" fill="#dd54a8" stroke="#111" stroke-width="0.9"/>
<rect x="280.8" y="378.3" width="0.2" height="7.2" fill="#dd54a8" stroke="#111" stroke-width="0.9"/>
<path d="M280.8 383.4V596.95" stroke="#222" stroke-width="1.25"/>
<path d="M280.2 588.7h-2.4" stroke="#222" stroke-width="0.9"/>
<path d="M280.2 551.98h-2.4" stroke="#222" stroke-width="0.9"/>
<path d="M280.2 515.26h-2.4" stroke="#222" stroke-width="0.9"/>
<path d="M280.2 478.54h-2.4" stroke="#222" stroke-width="0.9"/>
<path d="M280.2 441.82h-2.4" stroke="#222" stroke-width="0.9"/>
<path d="M280.2 405.1h-2.4" stroke="#222" stroke-width="0.9"/>
<clipPath id="c3"><rect x="64.2" y="383.4" width="209.3" height="212.8"/></clipPath><g clip-path="url(#c3)">
<circle cx="143.99" cy="508.69" r="3.1" fill="#54006d"/>
<circle cx="262.4" cy="415.82" r="3.1" fill="#54006d"/>
<circle cx="161.49" cy="507.19" r="3.1" fill="#54006d"/>
<circle cx="146.59" cy="523.46" r="3.1" fill="#54006d"/>
<circle cx="192.71" cy="477.83" r="3.1" fill="#54006d"/>
<circle cx="168.4" cy="481.08" r="3.1" fill="#54006d"/>
<circle cx="189.88" cy="479.97" r="3.1" fill="#54006d"/>
<circle cx="158.79" cy="511.34" r="3.1" fill="#54006d"/>
<circle cx="212" cy="429.73" r="3.1" fill="#54006d"/>
<circle cx="194.04" cy="453.11" r="3.1" fill="#54006d"/>
<circle cx="153.45" cy="494.09" r="3.1" fill="#54006d"/>
<circle cx="260.19" cy="411.87" r="3.1" fill="#54006d"/>
<circle cx="169.96" cy="502.2" r="3.1" fill="#54006d"/>
<circle cx="233.26" cy="437.41" r="3.1" fill="#54006d"/>
<circle cx="195.73" cy="448.05" r="3.1" fill="#54006d"/>
<circle cx="231.23" cy="414.33" r="3.1" fill="#54006d"/>
<circle cx="179.01" cy="487.17" r="3.1" fill="#54006d"/>
<circle cx="161.11" cy="487.38" r="3.1" fill="#54006d"/>
<circle cx="234.27" cy="431.13" r="3.1" fill="#54006d"/>
<circle cx="188.11" cy="460.66" r="3.1" fill="#54006d"/>
<circle cx="207.67" cy="455.16" r="3.1" fill="#54006d"/>
<circle cx="213.72" cy="433.91" r="3.1" fill="#54006d"/>
<circle cx="154.19" cy="515.17" r="3.1" fill="#57006e"/>
<circle cx="193.73" cy="450.09" r="3.1" fill="#58006e"/>
<circle cx="193.55" cy="477.39" r="3.1" fill="#58006e"/>
<circle cx="240.46" cy="410.96" r="3.1" fill="#5a006e"/>
<circle cx="137.21" cy="528.12" r="3.1" fill="#5b006f"/>
<circle cx="189.4" cy="459.92" r="3.1" fill="#5b006f"/>
<circle cx="135.07" cy="515.2" r="3.1" fill="#5d006f"/>
<circle cx="201.77" cy="443.56" r="3.1" fill="#5d006f"/>
<circle cx="142.15" cy="524.67" r="3.1" fill="#5f0070"/>
<circle cx="121.87" cy="549.62" r="3.1" fill="#5f0070"/>
<circle cx="155.16" cy="512.89" r="3.1" fill="#620171"/>
<circle cx="149.96" cy="512.94" r="3.1" fill="#620171"/>
<circle cx="181.79" cy="485.9" r="3.1" fill="#620171"/>
<circle cx="194.21" cy="456.64" r="3.1" fill="#620171"/>
<circle cx="133.73" cy="515.32" r="3.1" fill="#630171"/>
<circle cx="228.19" cy="424.68" r="3.1" fill="#630171"/>
<circle cx="221.99" cy="435.04" r="3.1" fill="#630171"/>
<circle cx="185.02" cy="460.2" r="3.1" fill="#630171"/>
<circle cx="142" cy="508.48" r="3.1" fill="#630171"/>
<circle cx="155.8" cy="495.38" r="3.1" fill="#630171"/>
<circle cx="193" cy="458.98" r="3.1" fill="#630171"/>
<circle cx="170.24" cy="497.15" r="3.1" fill="#650171"/>
<circle cx="235.74" cy="441.41" r="3.1" fill="#650171"/>
<circle cx="134.23" cy="518.14" r="3.1" fill="#650171"/>
<circle cx="185.95" cy="476.01" r="3.1" fill="#650171"/>
<circle cx="164.39" cy="498.26" r="3.1" fill="#660172"/>
<circle cx="255.76" cy="410.18" r="3.1" fill="#690173"/>
<circle cx="215.93" cy="434.94" r="3.1" fill="#690173"/>
<circle cx="204.79" cy="457.47" r="3.1" fill="#6b0173"/>
<circle cx="241.41" cy="426.86" r="3.1" fill="#6b0173"/>
<circle cx="176.09" cy="474.56" r="3.1" fill="#6b0173"/>
<circle cx="135.03" cy="519.4" r="3.1" fill="#6b0173"/>
<circle cx="164.75" cy="507.45" r="3.1" fill="#6b0173"/>
<circle cx="166.85" cy="496.24" r="3.1" fill="#6c0173"/>
<circle cx="196.84" cy="453.3" r="3.1" fill="#6c0173"/>
<circle cx="123.6" cy="541.91" r="3.1" fill="#6c0173"/>
<circle cx="135.28" cy="530.82" r="3.1" fill="#6c0173"/>
<circle cx="169.3" cy="498.22" r="3.1" fill="#6c0173"/>
<circle cx="233.76" cy="428.4" r="3.1" fill="#6e0174"/>
<circle cx="169.67" cy="496.55" r="3.1" fill="#6e0174"/>
<circle cx="191.39" cy="463.09" r="3.1" fill="#6f0174"/>
<circle cx="260.83" cy="393.32" r="3.1" fill="#6f0174"/>
<circle cx="194.31" cy="458.21" r="3.1" fill="#6f0174"/>
<circle cx="250.21" cy="405.72" r="3.1" fill="#6f0174"/>
<circle cx="203" cy="449.06" r="3.1" fill="#710175"/>
<circle cx="197.5" cy="461.2" r="3.1" fill="#730175"/>
<circle cx="122.74" cy="547.32" r="3.1" fill="#730175"/>
<circle cx="146.25" cy="516.54" r="3.1" fill="#730175"/>
<circle cx="142.7" cy="526.54" r="3.1" fill="#730175"/>
<circle cx="266.51" cy="392.81" r="3.1" fill="#740175"/>
<circle cx="219.4" cy="448.96" r="3.1" fill="#740175"/>
<circle cx="148.29" cy="509.29" r="3.1" fill="#740175"/>
<circle cx="262.42" cy="404.61" r="3.1" fill="#740175"/>
<circle cx="182" cy="479.94" r="3.1" fill="#760176"/>
<circle cx="167.97" cy="498.05" r="3.1" fill="#770176"/>
<circle cx="141.92" cy="521.53" r="3.1" fill="#770176"/>
<circle cx="127.19" cy="522.11" r="3.1" fill="#770176"/>
<circle cx="241.35" cy="415.97" r="3.1" fill="#770176"/>
<circle cx="190.34" cy="473.36" r="3.1" fill="#770176"/>
<circle cx="191.91" cy="473.57" r="3.1" fill="#770176"/>
<circle cx="168.89" cy="484.08" r="3.1" fill="#770176"/>
<circle cx="160.2" cy="491.42" r="3.1" fill="#770176"/>
<circle cx="139.08" cy="516.65" r="3.1" fill="#770176"/>
<circle cx="165.88" cy="500.1" r="3.1" fill="#770176"/>
<circle cx="171.36" cy="492.86" r="3.1" fill="#790177"/>
<circle cx="160.81" cy="492.19" r="3.1" fill="#790177"/>
<circle cx="146.77" cy="517.8" r="3.1" fill="#790177"/>
<circle cx="135.63" cy="514.37" r="3.1" fill="#7a0177"/>
<circle cx="120.45" cy="545.81" r="3.1" fill="#7a0177"/>
<circle cx="120.74" cy="534.06" r="3.1" fill="#7a0177"/>
<circle cx="197.69" cy="458.73" r="3.1" fill="#7a0177"/>
<circle cx="178.55" cy="475.83" r="3.1" fill="#7a0177"/>
<circle cx="188.03" cy="473.47" r="3.1" fill="#7c0177"/>
<circle cx="162.35" cy="502.8" r="3.1" fill="#7c0177"/>
<circle cx="197.65" cy="465.3" r="3.1" fill="#7c0177"/>
<circle cx="151.2" cy="506.73" r="3.1" fill="#7c0177"/>
<circle cx="177.13" cy="483.86" r="3.1" fill="#7c0177"/>
<circle cx="127.26" cy="524.05" r="3.1" fill="#7c0177"/>
<circle cx="119.08" cy="530.56" r="3.1" fill="#7d0177"/>
<circle cx="152.43" cy="518.59" r="3.1" fill="#7d0177"/>
<circle cx="163.94" cy="490.72" r="3.1" fill="#7d0177"/>
<circle cx="224.25" cy="431.4" r="3.1" fill="#7d0177"/>
<circle cx="113.77" cy="536.45" r="3.1" fill="#7d0177"/>
<circle cx="139.61" cy="510.11" r="3.1" fill="#7d0177"/>
<circle cx="194.5" cy="456.62" r="3.1" fill="#7d0177"/>
<circle cx="205.02" cy="456.45" r="3.1" fill="#7f0178"/>
<circle cx="139.23" cy="524.36" r="3.1" fill="#7f0178"/>
<circle cx="138.17" cy="509.56" r="3.1" fill="#7f0178"/>
<circle cx="170.5" cy="496.43" r="3.1" fill="#7f0178"/>
<circle cx="190.69" cy="473.92" r="3.1" fill="#7f0178"/>
<circle cx="253.07" cy="405.65" r="3.1" fill="#7f0178"/>
<circle cx="135.77" cy="530.77" r="3.1" fill="#7f0178"/>
<circle cx="155.71" cy="507.48" r="3.1" fill="#7f0178"/>
<circle cx="117.49" cy="536.89" r="3.1" fill="#7f0178"/>
<circle cx="145.22" cy="510.28" r="3.1" fill="#810178"/>
<circle cx="112.06" cy="556.28" r="3.1" fill="#810178"/>
<circle cx="168.68" cy="495.65" r="3.1" fill="#810178"/>
<circle cx="211.63" cy="450.16" r="3.1" fill="#810178"/>
<circle cx="213.03" cy="443.24" r="3.1" fill="#810178"/>
<circle cx="156.47" cy="499.48" r="3.1" fill="#810178"/>
<circle cx="195.09" cy="461.16" r="3.1" fill="#810178"/>
<circle cx="142.76" cy="521.3" r="3.1" fill="#820178"/>
<circle cx="195.78" cy="467.52" r="3.1" fill="#820178"/>
<circle cx="130.03" cy="521.64" r="3.1" fill="#820178"/>
<circle cx="192.92" cy="463.33" r="3.1" fill="#820178"/>
<circle cx="123.26" cy="541.61" r="3.1" fill="#820178"/>
<circle cx="145.83" cy="506.21" r="3.1" fill="#840178"/>
<circle cx="134.5" cy="529.93" r="3.1" fill="#840178"/>
<circle cx="207.34" cy="447.58" r="3.1" fill="#840178"/>
<circle cx="132.68" cy="521.76" r="3.1" fill="#840178"/>
<circle cx="170.63" cy="492.13" r="3.1" fill="#860179"/>
<circle cx="151.72" cy="515.83" r="3.1" fill="#860179"/>
<circle cx="148.95" cy="505.23" r="3.1" fill="#860179"/>
<circle cx="209.64" cy="447.18" r="3.1" fill="#870179"/>
<circle cx="195.47" cy="463.42" r="3.1" fill="#870179"/>
<circle cx="263.39" cy="401.62" r="3.1" fill="#870179"/>
<circle cx="219.19" cy="448.19" r="3.1" fill="#870179"/>
<circle cx="150.87" cy="514.2" r="3.1" fill="#870179"/>
<circle cx="151.56" cy="504.53" r="3.1" fill="#890179"/>
<circle cx="166.43" cy="488.71" r="3.1" fill="#890179"/>
<circle cx="126.42" cy="529" r="3.1" fill="#890179"/>
<circle cx="178.03" cy="474.62" r="3.1" fill="#890179"/>
<circle cx="145.17" cy="521.81" r="3.1" fill="#890179"/>
<circle cx="208.21" cy="455.75" r="3.1" fill="#890179"/>
<circle cx="251.93" cy="417.85" r="3.1" fill="#8b0179"/>
<circle cx="211.71" cy="449.62" r="3.1" fill="#8b0179"/>
<circle cx="231.39" cy="425.04" r="3.1" fill="#8b0179"/>
<circle cx="142.54" cy="524.87" r="3.1" fill="#8b0179"/>
<circle cx="137.16" cy="526.78" r="3.1" fill="#8b0179"/>
<circle cx="127.01" cy="536" r="3.1" fill="#8b0179"/>
<circle cx="137.03" cy="516.41" r="3.1" fill="#8b0179"/>
<circle cx="134.4" cy="526.53" r="3.1" fill="#8b0179"/>
<circle cx="185.89" cy="475.56" r="3.1" fill="#8b0179"/>
<circle cx="140.97" cy="516.19" r="3.1" fill="#8c0179"/>
<circle cx="152.63" cy="503.27" r="3.1" fill="#8c0179"/>
<circle cx="162.79" cy="500.29" r="3.1" fill="#8c0179"/>
<circle cx="137.04" cy="526.47" r="3.1" fill="#8c0179"/>
<circle cx="134.72" cy="513.53" r="3.1" fill="#8c0179"/>
<circle cx="164.49" cy="497.55" r="3.1" fill="#8e017a"/>
<circle cx="202.37" cy="455.05" r="3.1" fill="#8e017a"/>
<circle cx="105.34" cy="565.64" r="3.1" fill="#8e017a"/>
<circle cx="148.45" cy="520.85" r="3.1" fill="#8e017a"/>
<circle cx="259.24" cy="396.43" r="3.1" fill="#8e017a"/>
<circle cx="246.08" cy="419.93" r="3.1" fill="#8e017a"/>
<circle cx="181.88" cy="481.02" r="3.1" fill="#8e017a"/>
<circle cx="194.04" cy="459.26" r="3.1" fill="#8f017a"/>
<circle cx="142.34" cy="523.77" r="3.1" fill="#8f017a"/>
<circle cx="187.91" cy="467.09" r="3.1" fill="#8f017a"/>
<circle cx="117.87" cy="536.01" r="3.1" fill="#8f017a"/>
<circle cx="143.92" cy="519.12" r="3.1" fill="#8f017a"/>
<circle cx="144.78" cy="511.55" r="3.1" fill="#8f017a"/>
<circle cx="230.81" cy="434.38" r="3.1" fill="#91017a"/>
<circle cx="215.62" cy="446.91" r="3.1" fill="#91017a"/>
<circle cx="173.86" cy="481.76" r="3.1" fill="#91017a"/>
<circle cx="106.41" cy="558.34" r="3.1" fill="#91017a"/>
<circle cx="196.79" cy="461.2" r="3.1" fill="#91017a"/>
<circle cx="157.4" cy="507.42" r="3.1" fill="#91017a"/>
<circle cx="138.91" cy="522.27" r="3.1" fill="#91017a"/>
<circle cx="124.06" cy="540.74" r="3.1" fill="#91017a"/>
<circle cx="193.18" cy="461.56" r="3.1" fill="#91017a"/>
<circle cx="173.93" cy="480.65" r="3.1" fill="#91017a"/>
<circle cx="134.67" cy="528.29" r="3.1" fill="#93017a"/>
<circle cx="162.42" cy="500.35" r="3.1" fill="#93017a"/>
<circle cx="152.96" cy="497.06" r="3.1" fill="#93017a"/>
<circle cx="163.31" cy="493.17" r="3.1" fill="#93017a"/>
<circle cx="191.86" cy="461.09" r="3.1" fill="#93017a"/>
<circle cx="248.01" cy="411.37" r="3.1" fill="#94017b"/>
<circle cx="129.39" cy="528.74" r="3.1" fill="#94017b"/>
<circle cx="211.19" cy="450.56" r="3.1" fill="#94017b"/>
<circle cx="153.11" cy="514.02" r="3.1" fill="#94017b"/>
<circle cx="140.64" cy="514.72" r="3.1" fill="#94017b"/>
<circle cx="136.28" cy="520.77" r="3.1" fill="#96017b"/>
<circle cx="167.2" cy="488.93" r="3.1" fill="#96017b"/>
<circle cx="128.69" cy="534.48" r="3.1" fill="#96017b"/>
<circle cx="132.8" cy="530.08" r="3.1" fill="#96017b"/>
<circle cx="196.13" cy="459.03" r="3.1" fill="#98017b"/>
<circle cx="130.5" cy="523.74" r="3.1" fill="#98017b"/>
<circle cx="168.68" cy="492.64" r="3.1" fill="#98017b"/>
<circle cx="156.14" cy="502.18" r="3.1" fill="#98017b"/>
<circle cx="190.28" cy="470.66" r="3.1" fill="#98017b"/>
<circle cx="258.28" cy="399.31" r="3.1" fill="#98017b"/>
<circle cx="101.2" cy="562.84" r="3.1" fill="#98017b"/>
<circle cx="227.17" cy="439.6" r="3.1" fill="#98017b"/>
<circle cx="186.57" cy="474.28" r="3.1" fill="#98017b"/>
<circle cx="163.37" cy="498.63" r="3.1" fill="#98017b"/>
<circle cx="129.27" cy="534.18" r="3.1" fill="#99017b"/>
<circle cx="129.45" cy="528.48" r="3.1" fill="#99017b"/>
<circle cx="241.3" cy="421.6" r="3.1" fill="#99017b"/>
<circle cx="173.74" cy="489.39" r="3.1" fill="#99017b"/>
<circle cx="136.23" cy="526.16" r="3.1" fill="#99017b"/>
<circle cx="254.02" cy="404.72" r="3.1" fill="#99017b"/>
<circle cx="232.39" cy="417.81" r="3.1" fill="#99017b"/>
<circle cx="131.99" cy="530.71" r="3.1" fill="#99017b"/>
<circle cx="187.29" cy="474.12" r="3.1" fill="#99017b"/>
<circle cx="192.91" cy="468.02" r="3.1" fill="#99017b"/>
<circle cx="169.76" cy="485.65" r="3.1" fill="#99017b"/>
<circle cx="117.22" cy="544.75" r="3.1" fill="#99017b"/>
<circle cx="178.38" cy="477.86" r="3.1" fill="#99017b"/>
<circle cx="128.36" cy="526.78" r="3.1" fill="#99017b"/>
<circle cx="128.36" cy="535.54" r="3.1" fill="#9b017b"/>
<circle cx="143.98" cy="511.54" r="3.1" fill="#9b017b"/>
<circle cx="236.3" cy="413.14" r="3.1" fill="#9b017b"/>
<circle cx="115.73" cy="548.14" r="3.1" fill="#9c017c"/>
<circle cx="102.17" cy="567.89" r="3.1" fill="#9c017c"/>
<circle cx="178.08" cy="473.93" r="3.1" fill="#9c017c"/>
<circle cx="138.96" cy="526.63" r="3.1" fill="#9c017c"/>
<circle cx="131.15" cy="525.03" r="3.1" fill="#9c017c"/>
<circle cx="132.18" cy="522.2" r="3.1" fill="#9c017c"/>
<circle cx="139.41" cy="517" r="3.1" fill="#9c017c"/>
<circle cx="123.76" cy="531.69" r="3.1" fill="#9e017c"/>
<circle cx="102" cy="555.34" r="3.1" fill="#9e017c"/>
<circle cx="142.97" cy="521.35" r="3.1" fill="#9e017c"/>
<circle cx="131.18" cy="524.81" r="3.1" fill="#9e017c"/>
<circle cx="114.58" cy="550.53" r="3.1" fill="#9e017c"/>
<circle cx="179.26" cy="476.6" r="3.1" fill="#9e017c"/>
<circle cx="183.79" cy="478.47" r="3.1" fill="#9e017c"/>
<circle cx="184.21" cy="476.46" r="3.1" fill="#9e017c"/>
<circle cx="127.08" cy="525.87" r="3.1" fill="#9e017c"/>
<circle cx="172.6" cy="480.02" r="3.1" fill="#a0017c"/>
<circle cx="142.4" cy="517.9" r="3.1" fill="#a0017c"/>
<circle cx="164.66" cy="495.8" r="3.1" fill="#a0017c"/>
<circle cx="254.87" cy="402.55" r="3.1" fill="#a0017c"/>
<circle cx="132.72" cy="531.17" r="3.1" fill="#a0017c"/>
<circle cx="129.75" cy="526.54" r="3.1" fill="#a0017c"/>
<circle cx="169.15" cy="488.03" r="3.1" fill="#a1017c"/>
<circle cx="247.66" cy="419.76" r="3.1" fill="#a1017c"/>
<circle cx="103.22" cy="547.04" r="3.1" fill="#a1017c"/>
<circle cx="173.69" cy="481.04" r="3.1" fill="#a1017c"/>
<circle cx="194.24" cy="463.07" r="3.1" fill="#a1017c"/>
<circle cx="156.67" cy="501" r="3.1" fill="#a3017d"/>
<circle cx="123.56" cy="545.73" r="3.1" fill="#a3017d"/>
<circle cx="98.16" cy="571.5" r="3.1" fill="#a3017d"/>
<circle cx="174.93" cy="483.77" r="3.1" fill="#a3017d"/>
<circle cx="178.76" cy="476.11" r="3.1" fill="#a3017d"/>
<circle cx="133.52" cy="531.5" r="3.1" fill="#a3017d"/>
<circle cx="221.77" cy="438.49" r="3.1" fill="#a3017d"/>
<circle cx="137.98" cy="519.24" r="3.1" fill="#a3017d"/>
<circle cx="182.93" cy="473.19" r="3.1" fill="#a5017d"/>
<circle cx="137.75" cy="519.88" r="3.1" fill="#a5017d"/>
<circle cx="232.56" cy="430.91" r="3.1" fill="#a5017d"/>
<circle cx="196.73" cy="460.33" r="3.1" fill="#a5017d"/>
<circle cx="189.17" cy="466.38" r="3.1" fill="#a5017d"/>
<circle cx="214.04" cy="440.36" r="3.1" fill="#a5017d"/>
<circle cx="143.83" cy="515.04" r="3.1" fill="#a5017d"/>
<circle cx="251.19" cy="409.66" r="3.1" fill="#a6017d"/>
<circle cx="240.66" cy="412.19" r="3.1" fill="#a6017d"/>
<circle cx="191.83" cy="465.87" r="3.1" fill="#a6017d"/>
<circle cx="130.72" cy="525.99" r="3.1" fill="#a6017d"/>
<circle cx="116.61" cy="549.01" r="3.1" fill="#a8017d"/>
<circle cx="206.87" cy="456.27" r="3.1" fill="#a8017d"/>
<circle cx="191.27" cy="472.48" r="3.1" fill="#a8017d"/>
<circle cx="122.18" cy="538.08" r="3.1" fill="#a8017d"/>
<circle cx="129.69" cy="526.92" r="3.1" fill="#a8017d"/>
<circle cx="143.3" cy="523.62" r="3.1" fill="#aa017d"/>
<circle cx="181.55" cy="478.67" r="3.1" fill="#aa017d"/>
<circle cx="113.06" cy="549.33" r="3.1" fill="#aa017d"/>
<circle cx="242.35" cy="419.14" r="3.1" fill="#aa017d"/>
<circle cx="105.25" cy="563.77" r="3.1" fill="#aa017d"/>
<circle cx="117.18" cy="546.65" r="3.1" fill="#aa017d"/>
<circle cx="220.31" cy="432.05" r="3.1" fill="#ab017e"/>
<circle cx="113.32" cy="544.47" r="3.1" fill="#ab017e"/>
<circle cx="181.97" cy="474.48" r="3.1" fill="#ab017e"/>
<circle cx="132.84" cy="522.99" r="3.1" fill="#ab017e"/>
<circle cx="142.74" cy="520.27" r="3.1" fill="#ab017e"/>
<circle cx="166.73" cy="489.27" r="3.1" fill="#ab017e"/>
<circle cx="176.77" cy="482.16" r="3.1" fill="#ad017e"/>
<circle cx="122.15" cy="532.93" r="3.1" fill="#ad017e"/>
<circle cx="174.71" cy="484.51" r="3.1" fill="#ad017e"/>
<circle cx="129.76" cy="521.49" r="3.1" fill="#ad017e"/>
<circle cx="125.6" cy="531.14" r="3.1" fill="#ae017e"/>
<circle cx="84.28" cy="573.98" r="3.1" fill="#ae017e"/>
<circle cx="107.6" cy="556.26" r="3.1" fill="#ae017e"/>
<circle cx="116.85" cy="541.86" r="3.1" fill="#b0037f"/>
<circle cx="153.16" cy="507.88" r="3.1" fill="#b0037f"/>
<circle cx="182.39" cy="474.43" r="3.1" fill="#b0037f"/>
<circle cx="137.96" cy="524.03" r="3.1" fill="#b0037f"/>
<circle cx="172.42" cy="487.81" r="3.1" fill="#b0037f"/>
<circle cx="136.81" cy="523.35" r="3.1" fill="#b0037f"/>
<circle cx="196.23" cy="459.44" r="3.1" fill="#b0037f"/>
<circle cx="163.29" cy="494.24" r="3.1" fill="#b10580"/>
<circle cx="153.31" cy="507.76" r="3.1" fill="#b10580"/>
<circle cx="93.5" cy="558.12" r="3.1" fill="#b10580"/>
<circle cx="107.1" cy="559.56" r="3.1" fill="#b10580"/>
<circle cx="113.74" cy="544.2" r="3.1" fill="#b10580"/>
<circle cx="259.16" cy="405.6" r="3.1" fill="#b10580"/>
<circle cx="133.08" cy="522.81" r="3.1" fill="#b10580"/>
<circle cx="175.63" cy="480.59" r="3.1" fill="#b30681"/>
<circle cx="263.1" cy="395.42" r="3.1" fill="#b30681"/>
<circle cx="128.48" cy="533.16" r="3.1" fill="#b30681"/>
<circle cx="121.11" cy="542.32" r="3.1" fill="#b30681"/>
<circle cx="165.94" cy="490.96" r="3.1" fill="#b30681"/>
<circle cx="147.19" cy="517.32" r="3.1" fill="#b30681"/>
<circle cx="143.24" cy="519.15" r="3.1" fill="#b40881"/>
<circle cx="128.91" cy="534.31" r="3.1" fill="#b40881"/>
<circle cx="134.29" cy="523.22" r="3.1" fill="#b40881"/>
<circle cx="139.06" cy="524.43" r="3.1" fill="#b40881"/>
<circle cx="181.39" cy="475.46" r="3.1" fill="#b40881"/>
<circle cx="239.17" cy="422.86" r="3.1" fill="#b40881"/>
<circle cx="182.97" cy="477.93" r="3.1" fill="#b60982"/>
<circle cx="131.14" cy="526.81" r="3.1" fill="#b60982"/>
<circle cx="142.98" cy="519.27" r="3.1" fill="#b60982"/>
<circle cx="102.79" cy="556" r="3.1" fill="#b60982"/>
<circle cx="110.71" cy="544.58" r="3.1" fill="#b60982"/>
<circle cx="105.34" cy="550.59" r="3.1" fill="#b60982"/>
<circle cx="142.44" cy="520.85" r="3.1" fill="#b70b83"/>
<circle cx="178.32" cy="479.71" r="3.1" fill="#b70b83"/>
<circle cx="169.1" cy="491.6" r="3.1" fill="#b70b83"/>
<circle cx="217.58" cy="441.93" r="3.1" fill="#b70b83"/>
<circle cx="138.42" cy="521.52" r="3.1" fill="#b70b83"/>
<circle cx="187.25" cy="470.57" r="3.1" fill="#b70b83"/>
<circle cx="226.5" cy="431.16" r="3.1" fill="#b70b83"/>
<circle cx="153.02" cy="503.6" r="3.1" fill="#b90d84"/>
<circle cx="168.3" cy="485.81" r="3.1" fill="#b90d84"/>
<circle cx="142.15" cy="513.63" r="3.1" fill="#b90d84"/>
<circle cx="197.87" cy="461.73" r="3.1" fill="#b90d84"/>
<circle cx="114.01" cy="549.78" r="3.1" fill="#b90d84"/>
<circle cx="98.47" cy="553.45" r="3.1" fill="#b90d84"/>
<circle cx="170.46" cy="489.8" r="3.1" fill="#b90d84"/>
<circle cx="200.57" cy="462.92" r="3.1" fill="#b90d84"/>
<circle cx="142.34" cy="517.82" r="3.1" fill="#b90d84"/>
<circle cx="111.84" cy="556.29" r="3.1" fill="#ba0e84"/>
<circle cx="153.19" cy="504.72" r="3.1" fill="#ba0e84"/>
<circle cx="157.48" cy="502.91" r="3.1" fill="#ba0e84"/>
<circle cx="134.04" cy="520.72" r="3.1" fill="#ba0e84"/>
<circle cx="262.51" cy="396.16" r="3.1" fill="#ba0e84"/>
<circle cx="110.93" cy="547.79" r="3.1" fill="#ba0e84"/>
<circle cx="107.23" cy="555.67" r="3.1" fill="#bc1085"/>
<circle cx="129.42" cy="525.67" r="3.1" fill="#bc1085"/>
<circle cx="117.07" cy="541.57" r="3.1" fill="#bc1085"/>
<circle cx="165.89" cy="492" r="3.1" fill="#bc1085"/>
<circle cx="143.55" cy="514.67" r="3.1" fill="#bc1085"/>
<circle cx="79.78" cy="573.34" r="3.1" fill="#bc1085"/>
<circle cx="134.5" cy="526.77" r="3.1" fill="#bc1085"/>
<circle cx="183.43" cy="473.72" r="3.1" fill="#bc1085"/>
<circle cx="142.68" cy="514.7" r="3.1" fill="#bc1085"/>
<circle cx="237.44" cy="422.2" r="3.1" fill="#bc1085"/>
<circle cx="96.65" cy="561.46" r="3.1" fill="#bc1085"/>
<circle cx="171.73" cy="488.84" r="3.1" fill="#bc1085"/>
<circle cx="91.48" cy="561.53" r="3.1" fill="#bd1186"/>
<circle cx="127.1" cy="529.58" r="3.1" fill="#bd1186"/>
<circle cx="193.05" cy="466.89" r="3.1" fill="#bd1186"/>
<circle cx="134.48" cy="521.21" r="3.1" fill="#bd1186"/>
<circle cx="137.04" cy="523.93" r="3.1" fill="#bd1186"/>
<circle cx="137.19" cy="521.7" r="3.1" fill="#bd1186"/>
<circle cx="176.75" cy="481.1" r="3.1" fill="#bd1186"/>
<circle cx="99.01" cy="560.14" r="3.1" fill="#bd1186"/>
<circle cx="174.72" cy="484.59" r="3.1" fill="#bd1186"/>
<circle cx="181.44" cy="475.47" r="3.1" fill="#bf1387"/>
<circle cx="126.61" cy="535.42" r="3.1" fill="#bf1387"/>
<circle cx="154.98" cy="501.37" r="3.1" fill="#bf1387"/>
<circle cx="94.24" cy="564.34" r="3.1" fill="#bf1387"/>
<circle cx="136.8" cy="521.29" r="3.1" fill="#bf1387"/>
<circle cx="132.71" cy="531.05" r="3.1" fill="#bf1387"/>
<circle cx="119.52" cy="539.7" r="3.1" fill="#c01588"/>
<circle cx="186.06" cy="471.15" r="3.1" fill="#c01588"/>
<circle cx="102.07" cy="562.03" r="3.1" fill="#c01588"/>
<circle cx="145.61" cy="513.58" r="3.1" fill="#c01588"/>
<circle cx="135.88" cy="523.4" r="3.1" fill="#c01588"/>
<circle cx="135.11" cy="525.61" r="3.1" fill="#c01588"/>
<circle cx="170.73" cy="489.7" r="3.1" fill="#c01588"/>
<circle cx="187.96" cy="472.11" r="3.1" fill="#c01588"/>
<circle cx="122.62" cy="536.58" r="3.1" fill="#c01588"/>
<circle cx="123.6" cy="537.69" r="3.1" fill="#c01588"/>
<circle cx="166.21" cy="489.94" r="3.1" fill="#c21688"/>
<circle cx="251.43" cy="409.62" r="3.1" fill="#c21688"/>
<circle cx="131.13" cy="525.52" r="3.1" fill="#c21688"/>
<circle cx="115.63" cy="545.42" r="3.1" fill="#c21688"/>
<circle cx="95.63" cy="568.4" r="3.1" fill="#c21688"/>
<circle cx="182.85" cy="477.89" r="3.1" fill="#c21688"/>
<circle cx="171.79" cy="487.39" r="3.1" fill="#c21688"/>
<circle cx="110.28" cy="547.51" r="3.1" fill="#c21688"/>
<circle cx="137.27" cy="522.66" r="3.1" fill="#c21688"/>
<circle cx="143.21" cy="517.37" r="3.1" fill="#c31889"/>
<circle cx="128.45" cy="533.78" r="3.1" fill="#c31889"/>
<circle cx="133.99" cy="527" r="3.1" fill="#c31889"/>
<circle cx="144.3" cy="515.86" r="3.1" fill="#c31889"/>
<circle cx="133.94" cy="526.84" r="3.1" fill="#c4198a"/>
<circle cx="121.5" cy="540.65" r="3.1" fill="#c4198a"/>
<circle cx="153.1" cy="504.57" r="3.1" fill="#c4198a"/>
<circle cx="148.28" cy="513.68" r="3.1" fill="#c61b8b"/>
<circle cx="180.94" cy="478.84" r="3.1" fill="#c61b8b"/>
<circle cx="181.47" cy="473.93" r="3.1" fill="#c61b8b"/>
<circle cx="111.59" cy="548.49" r="3.1" fill="#c61b8b"/>
<circle cx="160.07" cy="498.25" r="3.1" fill="#c71d8c"/>
<circle cx="127.2" cy="535.66" r="3.1" fill="#c71d8c"/>
<circle cx="119.67" cy="538.64" r="3.1" fill="#c71d8c"/>
<circle cx="132.26" cy="529.05" r="3.1" fill="#c71d8c"/>
<circle cx="135.52" cy="522.92" r="3.1" fill="#c91e8c"/>
<circle cx="141.96" cy="519.66" r="3.1" fill="#c91e8c"/>
<circle cx="117.88" cy="543.59" r="3.1" fill="#c91e8c"/>
<circle cx="108" cy="555.52" r="3.1" fill="#c91e8c"/>
<circle cx="156.48" cy="505.26" r="3.1" fill="#c91e8c"/>
<circle cx="258.63" cy="403.04" r="3.1" fill="#c91e8c"/>
<circle cx="107.87" cy="550.18" r="3.1" fill="#ca208d"/>
<circle cx="106.65" cy="556.39" r="3.1" fill="#ca208d"/>
<circle cx="102.08" cy="555.23" r="3.1" fill="#ca208d"/>
<circle cx="137.67" cy="524.68" r="3.1" fill="#cc218e"/>
<circle cx="265.2" cy="397.79" r="3.1" fill="#cc218e"/>
<circle cx="134.49" cy="524.58" r="3.1" fill="#cc218e"/>
<circle cx="112.76" cy="545.49" r="3.1" fill="#cc218e"/>
<circle cx="119.79" cy="537.83" r="3.1" fill="#cc218e"/>
<circle cx="103.83" cy="553.15" r="3.1" fill="#cc218e"/>
<circle cx="143.59" cy="517.37" r="3.1" fill="#cc218e"/>
<circle cx="84.05" cy="574.08" r="3.1" fill="#cc218e"/>
<circle cx="187.74" cy="470.53" r="3.1" fill="#cc218e"/>
<circle cx="140.8" cy="517.33" r="3.1" fill="#cd238f"/>
<circle cx="111.92" cy="546.79" r="3.1" fill="#cd238f"/>
<circle cx="131.25" cy="530.62" r="3.1" fill="#cd238f"/>
<circle cx="110.97" cy="545.82" r="3.1" fill="#cd238f"/>
<circle cx="148.87" cy="508.4" r="3.1" fill="#cd238f"/>
<circle cx="112.72" cy="545.14" r="3.1" fill="#cd238f"/>
<circle cx="136.56" cy="524.45" r="3.1" fill="#cd238f"/>
<circle cx="108.4" cy="549.71" r="3.1" fill="#cd238f"/>
<circle cx="185.92" cy="471.9" r="3.1" fill="#cd238f"/>
<circle cx="102.87" cy="556.57" r="3.1" fill="#cd238f"/>
<circle cx="162.21" cy="498.22" r="3.1" fill="#cf258f"/>
<circle cx="156.63" cy="504.11" r="3.1" fill="#cf258f"/>
<circle cx="146.97" cy="513.13" r="3.1" fill="#cf258f"/>
<circle cx="134.21" cy="524.54" r="3.1" fill="#cf258f"/>
<circle cx="133.48" cy="524.13" r="3.1" fill="#cf258f"/>
<circle cx="129.3" cy="528.99" r="3.1" fill="#cf258f"/>
<circle cx="119.5" cy="541.98" r="3.1" fill="#cf258f"/>
<circle cx="137.22" cy="521.45" r="3.1" fill="#cf258f"/>
<circle cx="133.49" cy="526.7" r="3.1" fill="#cf258f"/>
<circle cx="141.75" cy="517.78" r="3.1" fill="#d02690"/>
<circle cx="104.03" cy="554.28" r="3.1" fill="#d02690"/>
<circle cx="116.01" cy="546.66" r="3.1" fill="#d02690"/>
<circle cx="123.77" cy="535.81" r="3.1" fill="#d02690"/>
<circle cx="121.28" cy="538.17" r="3.1" fill="#d22891"/>
<circle cx="111.54" cy="551" r="3.1" fill="#d22891"/>
<circle cx="178.52" cy="478.65" r="3.1" fill="#d32992"/>
<circle cx="83.84" cy="575.59" r="3.1" fill="#d32992"/>
<circle cx="132.61" cy="526.3" r="3.1" fill="#d32992"/>
<circle cx="137.52" cy="521.56" r="3.1" fill="#d32992"/>
<circle cx="128.86" cy="529.96" r="3.1" fill="#d52b93"/>
<circle cx="86" cy="571.46" r="3.1" fill="#d52b93"/>
<circle cx="114.34" cy="547.02" r="3.1" fill="#d52b93"/>
<circle cx="137.85" cy="524.97" r="3.1" fill="#d62d93"/>
<circle cx="126.63" cy="531.51" r="3.1" fill="#d62d93"/>
<circle cx="136.16" cy="521.01" r="3.1" fill="#d62d93"/>
<circle cx="131.58" cy="527.06" r="3.1" fill="#d62d93"/>
<circle cx="148.83" cy="508.09" r="3.1" fill="#d62d93"/>
<circle cx="133.29" cy="523.87" r="3.1" fill="#d82e94"/>
<circle cx="109.68" cy="550.12" r="3.1" fill="#d82e94"/>
<circle cx="126.35" cy="532.34" r="3.1" fill="#d82e94"/>
<circle cx="112.47" cy="546.41" r="3.1" fill="#d82e94"/>
<circle cx="130.35" cy="527.3" r="3.1" fill="#d82e94"/>
<circle cx="135.42" cy="525.19" r="3.1" fill="#d93095"/>
<circle cx="156.66" cy="503.79" r="3.1" fill="#d93095"/>
<circle cx="124.33" cy="537" r="3.1" fill="#d93095"/>
<circle cx="136.82" cy="521.72" r="3.1" fill="#d93095"/>
<circle cx="116.89" cy="542.68" r="3.1" fill="#db3196"/>
<circle cx="98.12" cy="564.31" r="3.1" fill="#db3196"/>
<circle cx="107.62" cy="551.04" r="3.1" fill="#db3196"/>
<circle cx="96.82" cy="566.52" r="3.1" fill="#db3196"/>
<circle cx="100.51" cy="559.67" r="3.1" fill="#db3196"/>
<circle cx="103.24" cy="558.26" r="3.1" fill="#db3196"/>
<circle cx="129.65" cy="527.49" r="3.1" fill="#dc3397"/>
<circle cx="95.72" cy="567.61" r="3.1" fill="#dc3397"/>
<circle cx="118.05" cy="544.11" r="3.1" fill="#dc3397"/>
<circle cx="129.47" cy="532.68" r="3.1" fill="#dc3397"/>
<circle cx="99.71" cy="558.65" r="3.1" fill="#dc3397"/>
<circle cx="84.67" cy="575.59" r="3.1" fill="#dc3397"/>
<circle cx="166.72" cy="492.43" r="3.1" fill="#dc3397"/>
<circle cx="174.91" cy="484.23" r="3.1" fill="#dd3597"/>
<circle cx="81.96" cy="571.66" r="3.1" fill="#dd3597"/>
<circle cx="107.95" cy="550.53" r="3.1" fill="#dd3597"/>
<circle cx="132.37" cy="528.55" r="3.1" fill="#dd3597"/>
<circle cx="101.53" cy="562.6" r="3.1" fill="#dd3597"/>
<circle cx="137.95" cy="519.64" r="3.1" fill="#dd3597"/>
<circle cx="106.55" cy="552.95" r="3.1" fill="#dd3597"/>
<circle cx="143.99" cy="514.8" r="3.1" fill="#dd3597"/>
<circle cx="105.13" cy="558.54" r="3.1" fill="#dd3597"/>
<circle cx="182.6" cy="476.03" r="3.1" fill="#de3697"/>
<circle cx="119.93" cy="538.96" r="3.1" fill="#de3697"/>
<circle cx="127.56" cy="531.98" r="3.1" fill="#de3697"/>
<circle cx="115.32" cy="548.07" r="3.1" fill="#de3697"/>
<circle cx="125.44" cy="536.78" r="3.1" fill="#df3898"/>
<circle cx="92.25" cy="567.29" r="3.1" fill="#df3898"/>
<circle cx="169.83" cy="485.93" r="3.1" fill="#df3898"/>
<circle cx="87.31" cy="576.74" r="3.1" fill="#df3898"/>
<circle cx="140.01" cy="519.77" r="3.1" fill="#df3898"/>
<circle cx="125.19" cy="537.15" r="3.1" fill="#e03a98"/>
<circle cx="135.49" cy="524.76" r="3.1" fill="#e03a98"/>
<circle cx="120.47" cy="538.99" r="3.1" fill="#e03a98"/>
<circle cx="115.84" cy="544.97" r="3.1" fill="#e03a98"/>
<circle cx="112.2" cy="547.45" r="3.1" fill="#e13b98"/>
<circle cx="157.89" cy="498.91" r="3.1" fill="#e13b98"/>
<circle cx="106.12" cy="552.34" r="3.1" fill="#e13b98"/>
<circle cx="121.93" cy="539.02" r="3.1" fill="#e13b98"/>
<circle cx="156.29" cy="503.22" r="3.1" fill="#e13b98"/>
<circle cx="99.09" cy="563.29" r="3.1" fill="#e13b98"/>
<circle cx="139.5" cy="521.89" r="3.1" fill="#e13d99"/>
<circle cx="100.44" cy="558.04" r="3.1" fill="#e13d99"/>
<circle cx="123.86" cy="538.47" r="3.1" fill="#e13d99"/>
<circle cx="230.33" cy="423.8" r="3.1" fill="#e13d99"/>
<circle cx="111.71" cy="547.71" r="3.1" fill="#e13d99"/>
<circle cx="128.43" cy="530.42" r="3.1" fill="#e13d99"/>
<circle cx="83.46" cy="576.11" r="3.1" fill="#e13d99"/>
<circle cx="127.18" cy="530" r="3.1" fill="#e13d99"/>
<circle cx="126.86" cy="531.69" r="3.1" fill="#e13d99"/>
<circle cx="98.88" cy="559.45" r="3.1" fill="#e13d99"/>
<circle cx="139.49" cy="520.46" r="3.1" fill="#e13d99"/>
<circle cx="90.49" cy="571.79" r="3.1" fill="#e13d99"/>
<circle cx="89.69" cy="568.49" r="3.1" fill="#e23e99"/>
<circle cx="102.68" cy="556.17" r="3.1" fill="#e23e99"/>
<circle cx="122.92" cy="535.33" r="3.1" fill="#e23e99"/>
<circle cx="81.02" cy="578.28" r="3.1" fill="#e23e99"/>
<circle cx="91.16" cy="568.08" r="3.1" fill="#e23e99"/>
<circle cx="192.9" cy="464.21" r="3.1" fill="#e34099"/>
<circle cx="126.21" cy="530.58" r="3.1" fill="#e34099"/>
<circle cx="88.57" cy="570.23" r="3.1" fill="#e34099"/>
<circle cx="92.08" cy="571.21" r="3.1" fill="#e34099"/>
<circle cx="116.98" cy="544.83" r="3.1" fill="#e4429a"/>
<circle cx="102.63" cy="559.44" r="3.1" fill="#e4429a"/>
<circle cx="114.9" cy="543.98" r="3.1" fill="#e4429a"/>
<circle cx="136.02" cy="523.37" r="3.1" fill="#e4429a"/>
<circle cx="104.37" cy="554.84" r="3.1" fill="#e5439a"/>
<circle cx="111.45" cy="547.04" r="3.1" fill="#e5439a"/>
<circle cx="126.56" cy="534.32" r="3.1" fill="#e5439a"/>
<circle cx="92.67" cy="566.27" r="3.1" fill="#e5439a"/>
<circle cx="96.54" cy="563.23" r="3.1" fill="#e5439a"/>
<circle cx="98.63" cy="560.91" r="3.1" fill="#e5459a"/>
<circle cx="86.73" cy="573.15" r="3.1" fill="#e5459a"/>
<circle cx="120.65" cy="539.65" r="3.1" fill="#e5459a"/>
<circle cx="95.33" cy="567.19" r="3.1" fill="#e5459a"/>
<circle cx="96" cy="566.78" r="3.1" fill="#e5459a"/>
<circle cx="128.22" cy="533.99" r="3.1" fill="#e5459a"/>
<circle cx="107.85" cy="554.36" r="3.1" fill="#e5459a"/>
<circle cx="103.39" cy="558.21" r="3.1" fill="#e5459a"/>
<circle cx="78.61" cy="580.42" r="3.1" fill="#e5459a"/>
<circle cx="128.97" cy="533.24" r="3.1" fill="#e5459a"/>
<circle cx="130.2" cy="531.09" r="3.1" fill="#e5459a"/>
<circle cx="149.39" cy="508.03" r="3.1" fill="#e5459a"/>
<circle cx="76.71" cy="586.54" r="3.1" fill="#e5459a"/>
<circle cx="127.65" cy="530.77" r="3.1" fill="#e5459a"/>
<circle cx="100.23" cy="562.36" r="3.1" fill="#e5459a"/>
<circle cx="107.97" cy="551.59" r="3.1" fill="#e6479b"/>
<circle cx="96.79" cy="565.15" r="3.1" fill="#e6479b"/>
<circle cx="112.85" cy="547.03" r="3.1" fill="#e7489b"/>
<circle cx="122.16" cy="538.04" r="3.1" fill="#e7489b"/>
<circle cx="125.3" cy="532.67" r="3.1" fill="#e84a9b"/>
<circle cx="111.23" cy="549.59" r="3.1" fill="#e84a9b"/>
<circle cx="108.27" cy="553.47" r="3.1" fill="#e84a9b"/>
<circle cx="124.97" cy="533.02" r="3.1" fill="#e94b9c"/>
<circle cx="99.31" cy="561.7" r="3.1" fill="#e94b9c"/>
<circle cx="97.43" cy="562.17" r="3.1" fill="#e94b9c"/>
<circle cx="79.87" cy="582.11" r="3.1" fill="#e94b9c"/>
<circle cx="107.21" cy="549.68" r="3.1" fill="#e94b9c"/>
<circle cx="90.11" cy="573.67" r="3.1" fill="#e94b9c"/>
<circle cx="116.22" cy="541.97" r="3.1" fill="#e94b9c"/>
<circle cx="137.59" cy="522.97" r="3.1" fill="#ea4d9c"/>
<circle cx="94.62" cy="565.01" r="3.1" fill="#ea4d9c"/>
<circle cx="93.06" cy="567.05" r="3.1" fill="#ea4d9c"/>
<circle cx="83.07" cy="569.43" r="3.1" fill="#ea4d9c"/>
<circle cx="101.75" cy="557.82" r="3.1" fill="#ea4d9c"/>
<circle cx="82.65" cy="581.48" r="3.1" fill="#ea4d9c"/>
<circle cx="92.41" cy="567.2" r="3.1" fill="#ea4f9c"/>
<circle cx="119.8" cy="541.66" r="3.1" fill="#ea4f9c"/>
<circle cx="93.87" cy="569.69" r="3.1" fill="#ea4f9c"/>
<circle cx="121.21" cy="537.73" r="3.1" fill="#ea4f9c"/>
<circle cx="100.95" cy="558.76" r="3.1" fill="#ea4f9c"/>
<circle cx="100.32" cy="557.73" r="3.1" fill="#eb509c"/>
<circle cx="93.3" cy="569.35" r="3.1" fill="#eb509c"/>
<circle cx="135.2" cy="527.17" r="3.1" fill="#eb509c"/>
<circle cx="116.59" cy="542" r="3.1" fill="#eb509c"/>
<circle cx="79.27" cy="581.12" r="3.1" fill="#ec529d"/>
<circle cx="114.17" cy="545.95" r="3.1" fill="#ec529d"/>
<circle cx="95.99" cy="563.24" r="3.1" fill="#ed549d"/>
<circle cx="129.68" cy="529.87" r="3.1" fill="#ed549d"/>
<circle cx="101.41" cy="558.64" r="3.1" fill="#ed549d"/>
<circle cx="122.58" cy="537.67" r="3.1" fill="#ed549d"/>
<circle cx="127.83" cy="531.51" r="3.1" fill="#ed549d"/>
<circle cx="122.56" cy="538.51" r="3.1" fill="#ed549d"/>
<circle cx="81.86" cy="581.22" r="3.1" fill="#ed549d"/>
<circle cx="104.44" cy="554.4" r="3.1" fill="#ed549d"/>
<circle cx="85.68" cy="576.92" r="3.1" fill="#ee559d"/>
<circle cx="85.78" cy="573.28" r="3.1" fill="#ee559d"/>
<circle cx="84.93" cy="578.03" r="3.1" fill="#ee559d"/>
<circle cx="131.95" cy="528" r="3.1" fill="#ee579e"/>
<circle cx="77.06" cy="591.87" r="3.1" fill="#ee579e"/>
<circle cx="110.17" cy="552.05" r="3.1" fill="#ef599e"/>
<circle cx="97.98" cy="562.83" r="3.1" fill="#ef599e"/>
<circle cx="99.79" cy="561.63" r="3.1" fill="#ef599e"/>
<circle cx="117.62" cy="541.71" r="3.1" fill="#ef599e"/>
<circle cx="83.13" cy="576.55" r="3.1" fill="#f05a9e"/>
<circle cx="84.18" cy="578.44" r="3.1" fill="#f15c9f"/>
<circle cx="95.95" cy="564.01" r="3.1" fill="#f15c9f"/>
<circle cx="106.53" cy="553.61" r="3.1" fill="#f15c9f"/>
<circle cx="89.61" cy="570.52" r="3.1" fill="#f15c9f"/>
<circle cx="100.32" cy="560.86" r="3.1" fill="#f15c9f"/>
<circle cx="109.85" cy="550.7" r="3.1" fill="#f25d9f"/>
<circle cx="96.67" cy="562.93" r="3.1" fill="#f25d9f"/>
<circle cx="84.65" cy="575.48" r="3.1" fill="#f25d9f"/>
<circle cx="93.67" cy="568.68" r="3.1" fill="#f25d9f"/>
<circle cx="130.02" cy="530.43" r="3.1" fill="#f35f9f"/>
<circle cx="138.85" cy="520.01" r="3.1" fill="#f35f9f"/>
<circle cx="105.92" cy="554.56" r="3.1" fill="#f35f9f"/>
<circle cx="82.45" cy="577.1" r="3.1" fill="#f35f9f"/>
<circle cx="93.28" cy="567.04" r="3.1" fill="#f35f9f"/>
<circle cx="77.54" cy="582.48" r="3.1" fill="#f361a0"/>
<circle cx="108.8" cy="551.84" r="3.1" fill="#f361a0"/>
<circle cx="127.31" cy="531.45" r="3.1" fill="#f361a0"/>
<circle cx="126.72" cy="532.89" r="3.1" fill="#f462a0"/>
<circle cx="90.56" cy="568.75" r="3.1" fill="#f462a0"/>
<circle cx="77.55" cy="585.65" r="3.1" fill="#f462a0"/>
<circle cx="116.09" cy="544.4" r="3.1" fill="#f462a0"/>
<circle cx="114.09" cy="546.75" r="3.1" fill="#f564a0"/>
<circle cx="90.97" cy="567.26" r="3.1" fill="#f666a1"/>
<circle cx="118.59" cy="540.94" r="3.1" fill="#f666a1"/>
<circle cx="119.01" cy="542.66" r="3.1" fill="#f666a1"/>
<circle cx="82.15" cy="580.55" r="3.1" fill="#f666a1"/>
<circle cx="106.23" cy="554.26" r="3.1" fill="#f666a1"/>
<circle cx="104.5" cy="557.95" r="3.1" fill="#f666a1"/>
<circle cx="80.92" cy="580.95" r="3.1" fill="#f767a1"/>
<circle cx="123.03" cy="538.28" r="3.1" fill="#f767a1"/>
<circle cx="118.41" cy="541.23" r="3.1" fill="#f769a1"/>
<circle cx="113.39" cy="547.88" r="3.1" fill="#f769a1"/>
<circle cx="92.56" cy="566.18" r="3.1" fill="#f769a1"/>
<circle cx="97.74" cy="564.38" r="3.1" fill="#f769a1"/>
<circle cx="91" cy="568.49" r="3.1" fill="#f769a1"/>
<circle cx="109.52" cy="551.94" r="3.1" fill="#f769a1"/>
<circle cx="127.27" cy="532.63" r="3.1" fill="#f76ba2"/>
<circle cx="104.35" cy="555.56" r="3.1" fill="#f76ea3"/>
<circle cx="113.81" cy="547.66" r="3.1" fill="#f76ea3"/>
<circle cx="76.9" cy="576.76" r="3.1" fill="#f770a4"/>
<circle cx="90.34" cy="573.13" r="3.1" fill="#f770a4"/>
<circle cx="111.97" cy="548.23" r="3.1" fill="#f871a4"/>
<circle cx="107.52" cy="553.13" r="3.1" fill="#f871a4"/>
<circle cx="87.93" cy="572.3" r="3.1" fill="#f873a5"/>
<circle cx="104.1" cy="555.06" r="3.1" fill="#f873a5"/>
<circle cx="85.69" cy="577.29" r="3.1" fill="#f873a5"/>
<circle cx="79.16" cy="580.71" r="3.1" fill="#f873a5"/>
<circle cx="113.15" cy="548.36" r="3.1" fill="#f873a5"/>
<circle cx="96.85" cy="563.23" r="3.1" fill="#f873a5"/>
<circle cx="107.04" cy="554.04" r="3.1" fill="#f875a6"/>
<circle cx="87.99" cy="574.24" r="3.1" fill="#f875a6"/>
<circle cx="99.06" cy="564.1" r="3.1" fill="#f877a6"/>
<circle cx="90.38" cy="572.9" r="3.1" fill="#f877a6"/>
<circle cx="101.12" cy="561.54" r="3.1" fill="#f878a7"/>
<circle cx="78.69" cy="580.81" r="3.1" fill="#f878a7"/>
<circle cx="75.08" cy="584.02" r="3.1" fill="#f87aa8"/>
<circle cx="94.05" cy="567.47" r="3.1" fill="#f87aa8"/>
<circle cx="83.06" cy="577.56" r="3.1" fill="#f87aa8"/>
<circle cx="84" cy="578.75" r="3.1" fill="#f87aa8"/>
<circle cx="94.16" cy="568.97" r="3.1" fill="#f87aa8"/>
<circle cx="81.38" cy="578.47" r="3.1" fill="#f87aa8"/>
<circle cx="86.83" cy="571.26" r="3.1" fill="#f87ca8"/>
<circle cx="81.95" cy="578.98" r="3.1" fill="#f87ca8"/>
<circle cx="77.5" cy="585.38" r="3.1" fill="#f87ca8"/>
<circle cx="96.34" cy="565.54" r="3.1" fill="#f87ca8"/>
<circle cx="89.02" cy="572.9" r="3.1" fill="#f87ca8"/>
<circle cx="74.67" cy="587.96" r="3.1" fill="#f87ea9"/>
<circle cx="75.27" cy="589.59" r="3.1" fill="#f87ea9"/>
<circle cx="75.54" cy="584.53" r="3.1" fill="#f87fa9"/>
<circle cx="86.34" cy="573.86" r="3.1" fill="#f881aa"/>
<circle cx="80.25" cy="579.92" r="3.1" fill="#f881aa"/>
<circle cx="102.44" cy="557.48" r="3.1" fill="#f881aa"/>
<circle cx="79.1" cy="580.31" r="3.1" fill="#f881aa"/>
<circle cx="85.27" cy="575.29" r="3.1" fill="#f881aa"/>
<circle cx="74.54" cy="588.08" r="3.1" fill="#f881aa"/>
<circle cx="74.62" cy="588.01" r="3.1" fill="#f881aa"/>
<circle cx="82.6" cy="580.4" r="3.1" fill="#f881aa"/>
<circle cx="73.24" cy="589.72" r="3.1" fill="#f883ab"/>
<circle cx="80.16" cy="582.14" r="3.1" fill="#f883ab"/>
<circle cx="91.71" cy="570.68" r="3.1" fill="#f984ab"/>
<circle cx="103.64" cy="556.98" r="3.1" fill="#f984ab"/>
<circle cx="85.2" cy="575.69" r="3.1" fill="#f984ab"/>
<circle cx="88.44" cy="572.95" r="3.1" fill="#f984ab"/>
<circle cx="85.18" cy="576.14" r="3.1" fill="#f986ac"/>
<circle cx="74.02" cy="586.28" r="3.1" fill="#f986ac"/>
<circle cx="100.48" cy="561.05" r="3.1" fill="#f98aad"/>
<circle cx="100.7" cy="560.09" r="3.1" fill="#f98aad"/>
<circle cx="94.26" cy="566.57" r="3.1" fill="#f98aad"/>
<circle cx="73.52" cy="588.54" r="3.1" fill="#f98aad"/>
<circle cx="99.18" cy="561.28" r="3.1" fill="#f98aad"/>
<circle cx="76.77" cy="585.94" r="3.1" fill="#f98aad"/>
<circle cx="73.61" cy="587.01" r="3.1" fill="#f98bae"/>
<circle cx="85.58" cy="574.1" r="3.1" fill="#f98bae"/>
<circle cx="92.15" cy="569.98" r="3.1" fill="#f98bae"/>
<circle cx="85.12" cy="577.02" r="3.1" fill="#f98dae"/>
<circle cx="84.43" cy="575.93" r="3.1" fill="#f98faf"/>
<circle cx="73.74" cy="584.35" r="3.1" fill="#f98faf"/>
<circle cx="99.88" cy="560.54" r="3.1" fill="#f98faf"/>
<circle cx="72.95" cy="587.39" r="3.1" fill="#f991b0"/>
<circle cx="74.05" cy="586.33" r="3.1" fill="#f992b0"/>
<circle cx="88.8" cy="570.64" r="3.1" fill="#f992b0"/>
<circle cx="87.54" cy="573.04" r="3.1" fill="#f992b0"/>
<circle cx="86.81" cy="573.91" r="3.1" fill="#f992b0"/>
<circle cx="84.39" cy="577.74" r="3.1" fill="#f992b0"/>
<circle cx="80.01" cy="580.47" r="3.1" fill="#f992b0"/>
<circle cx="83.46" cy="578.4" r="3.1" fill="#f994b1"/>
<circle cx="96.04" cy="564.65" r="3.1" fill="#f994b1"/>
<circle cx="100.69" cy="560.72" r="3.1" fill="#f994b1"/>
<circle cx="73.91" cy="585.99" r="3.1" fill="#f996b2"/>
<circle cx="74.26" cy="587.89" r="3.1" fill="#f996b2"/>
<circle cx="87.53" cy="574.09" r="3.1" fill="#f996b2"/>
<circle cx="91.57" cy="569.63" r="3.1" fill="#f996b2"/>
<circle cx="88.73" cy="573.11" r="3.1" fill="#f996b2"/>
<circle cx="78.25" cy="584.32" r="3.1" fill="#fa97b2"/>
<circle cx="81.22" cy="578.38" r="3.1" fill="#fa97b2"/>
<circle cx="117.35" cy="542.97" r="3.1" fill="#fa97b2"/>
<circle cx="84.56" cy="577.64" r="3.1" fill="#fa97b2"/>
<circle cx="104.8" cy="555.64" r="3.1" fill="#fa97b2"/>
<circle cx="115.62" cy="544.73" r="3.1" fill="#fa97b2"/>
<circle cx="82.08" cy="578.51" r="3.1" fill="#fa97b2"/>
<circle cx="87.71" cy="574.64" r="3.1" fill="#fa9bb4"/>
<circle cx="88.35" cy="572.67" r="3.1" fill="#fa9bb4"/>
<circle cx="77.69" cy="583.54" r="3.1" fill="#fa9bb4"/>
<circle cx="74.89" cy="587.45" r="3.1" fill="#fa9bb4"/>
<circle cx="101.34" cy="558.29" r="3.1" fill="#fa9bb4"/>
<circle cx="83.5" cy="576.37" r="3.1" fill="#fa9db4"/>
<circle cx="74.31" cy="587.34" r="3.1" fill="#fa9eb5"/>
<circle cx="77.11" cy="584.7" r="3.1" fill="#faa0b5"/>
<circle cx="87.85" cy="572.42" r="3.1" fill="#faa0b5"/>
<circle cx="107.63" cy="552.58" r="3.1" fill="#faa2b6"/>
<circle cx="77.66" cy="584.3" r="3.1" fill="#faa2b6"/>
<circle cx="77.98" cy="584.42" r="3.1" fill="#faa2b6"/>
<circle cx="73.45" cy="587.46" r="3.1" fill="#faa2b6"/>
<circle cx="78.78" cy="582.47" r="3.1" fill="#faa3b6"/>
<circle cx="107.94" cy="552.53" r="3.1" fill="#faa5b7"/>
<circle cx="97.48" cy="563.64" r="3.1" fill="#faa7b7"/>
<circle cx="78.12" cy="582.54" r="3.1" fill="#faa8b8"/>
<circle cx="80.68" cy="581.07" r="3.1" fill="#fba9b8"/>
<circle cx="79.01" cy="581.12" r="3.1" fill="#fba9b8"/>
<circle cx="80.49" cy="581.32" r="3.1" fill="#fba9b8"/>
<circle cx="81.92" cy="579.69" r="3.1" fill="#fbaab8"/>
<circle cx="90.68" cy="568.96" r="3.1" fill="#fbaab8"/>
<circle cx="91.77" cy="570.33" r="3.1" fill="#fbacb9"/>
<circle cx="96.5" cy="563.63" r="3.1" fill="#fbacb9"/>
<circle cx="76.02" cy="586.8" r="3.1" fill="#fbadb9"/>
<circle cx="100.54" cy="560.78" r="3.1" fill="#fbadb9"/>
<circle cx="73.28" cy="588.42" r="3.1" fill="#fbadb9"/>
<circle cx="80.13" cy="580.89" r="3.1" fill="#fbafba"/>
<circle cx="72.96" cy="587.86" r="3.1" fill="#fbafba"/>
<circle cx="92.3" cy="569.16" r="3.1" fill="#fbafba"/>
<circle cx="72.84" cy="588.91" r="3.1" fill="#fbafba"/>
<circle cx="98.94" cy="561.64" r="3.1" fill="#fbb0ba"/>
<circle cx="87.06" cy="573.61" r="3.1" fill="#fbb3bb"/>
<circle cx="89.75" cy="570.78" r="3.1" fill="#fbb3bb"/>
<circle cx="76.44" cy="584.89" r="3.1" fill="#fbb3bb"/>
<circle cx="85.08" cy="576.47" r="3.1" fill="#fbb5bb"/>
<circle cx="72.91" cy="589.53" r="3.1" fill="#fbb5bb"/>
<circle cx="73.35" cy="587.61" r="3.1" fill="#fbb6bc"/>
<circle cx="83.95" cy="577" r="3.1" fill="#fbb6bc"/>
<circle cx="84.88" cy="576.06" r="3.1" fill="#fbb8bc"/>
<circle cx="73.32" cy="588.01" r="3.1" fill="#fbb8bc"/>
<circle cx="79.08" cy="582.09" r="3.1" fill="#fbb9bc"/>
<circle cx="73.01" cy="589.09" r="3.1" fill="#fbb9bc"/>
<circle cx="78.04" cy="583.1" r="3.1" fill="#fbb9bc"/>
<circle cx="78.81" cy="583.36" r="3.1" fill="#fbbabd"/>
<circle cx="78.31" cy="582.71" r="3.1" fill="#fbbbbd"/>
<circle cx="78.5" cy="582.47" r="3.1" fill="#fbbbbd"/>
<circle cx="83.11" cy="577.54" r="3.1" fill="#fbbbbd"/>
<circle cx="87.56" cy="574.24" r="3.1" fill="#fcbcbd"/>
<circle cx="74.74" cy="587.4" r="3.1" fill="#fcbebe"/>
<circle cx="77.27" cy="585.02" r="3.1" fill="#fcbfbe"/>
<circle cx="76.33" cy="585.01" r="3.1" fill="#fcc0bf"/>
<circle cx="72.86" cy="588.81" r="3.1" fill="#fcc1bf"/>
<circle cx="79.35" cy="582.21" r="3.1" fill="#fcc4c0"/>
<circle cx="74.53" cy="586.82" r="3.1" fill="#fcc5c0"/>
<circle cx="83.26" cy="578.12" r="3.1" fill="#fcc6c1"/>
<circle cx="73.88" cy="587.41" r="3.1" fill="#fcc6c1"/>
<circle cx="95.56" cy="565.16" r="3.1" fill="#fcc6c1"/>
<circle cx="74.59" cy="587.49" r="3.1" fill="#fcc7c3"/>
<circle cx="76.33" cy="584.68" r="3.1" fill="#fcc8c3"/>
<circle cx="83.88" cy="577.15" r="3.1" fill="#fcc8c3"/>
<circle cx="78.68" cy="582.13" r="3.1" fill="#fcc9c4"/>
<circle cx="76.14" cy="584.5" r="3.1" fill="#fccbc6"/>
<circle cx="86.87" cy="574.49" r="3.1" fill="#fccdc9"/>
<circle cx="74.25" cy="587.57" r="3.1" fill="#fccdc9"/>
<circle cx="81.52" cy="579.66" r="3.1" fill="#fcd2ce"/>
<circle cx="74.83" cy="586.49" r="3.1" fill="#fdd3cf"/>
<circle cx="73.71" cy="587.91" r="3.1" fill="#fdd4d0"/>
<circle cx="73.47" cy="587.68" r="3.1" fill="#fdd6d2"/>
<circle cx="75.38" cy="586.21" r="3.1" fill="#fdd7d3"/>
<circle cx="74.64" cy="587.22" r="3.1" fill="#fdddda"/>
<circle cx="75.73" cy="586.12" r="3.1" fill="#fde1de"/>
</g>
<path d="M64.2 383.4V596.2H273.5" fill="none" stroke="#222" stroke-width="1.5"/>
<path d="M72.8 596.8v2.6" stroke="#222" stroke-width="1"/>
<path d="M108.54 596.8v2.6" stroke="#222" stroke-width="1"/>
<path d="M144.28 596.8v2.6" stroke="#222" stroke-width="1"/>
<path d="M180.02 596.8v2.6" stroke="#222" stroke-width="1"/>
<path d="M215.76 596.8v2.6" stroke="#222" stroke-width="1"/>
<path d="M251.5 596.8v2.6" stroke="#222" stroke-width="1"/>
<path d="M63.6 588.7h-2.6" stroke="#222" stroke-width="1"/>
<path d="M63.6 551.98h-2.6" stroke="#222" stroke-width="1"/>
<path d="M63.6 515.26h-2.6" stroke="#222" stroke-width="1"/>
<path d="M63.6 478.54h-2.6" stroke="#222" stroke-width="1"/>
<path d="M63.6 441.82h-2.6" stroke="#222" stroke-width="1"/>
<path d="M63.6 405.1h-2.6" stroke="#222" stroke-width="1"/>
<text x="72.8" y="615.8" font-size="20.3" font-weight="bold" text-anchor="middle" textLength="12" lengthAdjust="spacingAndGlyphs" stroke="#000" stroke-width="0.35">0</text>
<text x="108.54" y="615.8" font-size="20.3" font-weight="bold" text-anchor="middle" textLength="12" lengthAdjust="spacingAndGlyphs" stroke="#000" stroke-width="0.35">2</text>
<text x="144.28" y="615.8" font-size="20.3" font-weight="bold" text-anchor="middle" textLength="12" lengthAdjust="spacingAndGlyphs" stroke="#000" stroke-width="0.35">4</text>
<text x="180.02" y="615.8" font-size="20.3" font-weight="bold" text-anchor="middle" textLength="12" lengthAdjust="spacingAndGlyphs" stroke="#000" stroke-width="0.35">6</text>
<text x="215.76" y="615.8" font-size="20.3" font-weight="bold" text-anchor="middle" textLength="12" lengthAdjust="spacingAndGlyphs" stroke="#000" stroke-width="0.35">8</text>
<text x="251.5" y="615.8" font-size="20.3" font-weight="bold" text-anchor="middle" textLength="25.8" lengthAdjust="spacingAndGlyphs" stroke="#000" stroke-width="0.35">10</text>
<text x="59.2" y="595.9" font-size="20.3" font-weight="bold" text-anchor="end" textLength="12" lengthAdjust="spacingAndGlyphs" stroke="#000" stroke-width="0.35">0</text>
<text x="59.2" y="559.18" font-size="20.3" font-weight="bold" text-anchor="end" textLength="12" lengthAdjust="spacingAndGlyphs" stroke="#000" stroke-width="0.35">2</text>
<text x="59.2" y="522.46" font-size="20.3" font-weight="bold" text-anchor="end" textLength="12" lengthAdjust="spacingAndGlyphs" stroke="#000" stroke-width="0.35">4</text>
<text x="59.2" y="485.74" font-size="20.3" font-weight="bold" text-anchor="end" textLength="12" lengthAdjust="spacingAndGlyphs" stroke="#000" stroke-width="0.35">6</text>
<text x="59.2" y="449.02" font-size="20.3" font-weight="bold" text-anchor="end" textLength="12" lengthAdjust="spacingAndGlyphs" stroke="#000" stroke-width="0.35">8</text>
<text x="59.2" y="412.3" font-size="20.3" font-weight="bold" text-anchor="end" textLength="25.8" lengthAdjust="spacingAndGlyphs" stroke="#000" stroke-width="0.35">10</text>
<text x="57.8" y="636.8" font-size="19.2" font-weight="bold" textLength="223.6" lengthAdjust="spacingAndGlyphs" stroke="#000" stroke-width="0.3">Exp. <tspan font-style="italic" font-weight="normal" stroke="none">&#957;</tspan> at 100 <tspan font-style="italic" font-weight="normal" stroke="none" font-size="0.72em" dy="-6">o</tspan><tspan dy="6">C</tspan> (cSt)</text>
<text x="25.9" y="606.8" font-size="19.2" font-weight="bold" textLength="234.9" lengthAdjust="spacingAndGlyphs" stroke="#000" stroke-width="0.3" transform="rotate(-90 25.9 606.8)">Pred. <tspan font-style="italic" font-weight="normal" stroke="none">&#957;</tspan> at 100 <tspan font-style="italic" font-weight="normal" stroke="none" font-size="0.72em" dy="-6">o</tspan><tspan dy="6">C</tspan> (cSt)</text>
<text x="69.4" y="402.9" font-size="24.2" font-weight="bold">training set</text>
<text x="264.9" y="561" font-size="21.2" font-weight="bold" text-anchor="end">R<tspan font-size="14" dy="-6.2">2</tspan><tspan dy="6.2" dx="0.6">: 0.996</tspan></text>
<text x="270.1" y="587" font-size="21.3" font-weight="bold" text-anchor="end">MAE: 0.076 cSt</text>
<text x="-1.5" y="357" font-size="43.5" font-weight="bold">c.</text>
<rect x="443.3" y="341.9" width="15.75" height="34.5" fill="#6bc3d0" stroke="#111" stroke-width="0.9"/>
<rect x="459.05" y="369.2" width="15.75" height="7.2" fill="#6bc3d0" stroke="#111" stroke-width="0.9"/>
<rect x="474.8" y="373.8" width="15.75" height="2.6" fill="#6bc3d0" stroke="#111" stroke-width="0.9"/>
<rect x="490.55" y="374.1" width="15.75" height="2.3" fill="#6bc3d0" stroke="#111" stroke-width="0.9"/>
<rect x="506.3" y="372.2" width="15.75" height="4.2" fill="#6bc3d0" stroke="#111" stroke-width="0.9"/>
<rect x="522.05" y="373.8" width="15.75" height="2.6" fill="#6bc3d0" stroke="#111" stroke-width="0.9"/>
<rect x="537.8" y="374.4" width="15.75" height="2" fill="#6bc3d0" stroke="#111" stroke-width="0.9"/>
<rect x="553.55" y="374.4" width="15.75" height="2" fill="#6bc3d0" stroke="#111" stroke-width="0.9"/>
<rect x="569.3" y="375.4" width="15.75" height="1" fill="#6bc3d0" stroke="#111" stroke-width="0.9"/>
<rect x="585.05" y="375.4" width="15.75" height="1" fill="#6bc3d0" stroke="#111" stroke-width="0.9"/>
<rect x="600.8" y="375.9" width="15.75" height="0.5" fill="#6bc3d0" stroke="#111" stroke-width="0.9"/>
<rect x="616.55" y="375.9" width="15.75" height="0.5" fill="#6bc3d0" stroke="#111" stroke-width="0.9"/>
<path d="M432.65 376.4H643" stroke="#222" stroke-width="1.25"/>
<path d="M440.5 377v2.4" stroke="#222" stroke-width="0.9"/>
<path d="M480.22 377v2.4" stroke="#222" stroke-width="0.9"/>
<path d="M519.94 377v2.4" stroke="#222" stroke-width="0.9"/>
<path d="M559.66 377v2.4" stroke="#222" stroke-width="0.9"/>
<path d="M599.38 377v2.4" stroke="#222" stroke-width="0.9"/>
<path d="M639.1 377v2.4" stroke="#222" stroke-width="0.9"/>
<rect x="649.6" y="569.9" width="34.3" height="18.4" fill="#6bc3d0" stroke="#111" stroke-width="0.9"/>
<rect x="649.6" y="551.5" width="5" height="18.4" fill="#6bc3d0" stroke="#111" stroke-width="0.9"/>
<rect x="649.6" y="533.1" width="1.6" height="18.4" fill="#6bc3d0" stroke="#111" stroke-width="0.9"/>
<rect x="649.6" y="514.7" width="2.8" height="18.4" fill="#6bc3d0" stroke="#111" stroke-width="0.9"/>
<rect x="649.6" y="496.3" width="4.6" height="18.4" fill="#6bc3d0" stroke="#111" stroke-width="0.9"/>
<rect x="649.6" y="477.9" width="3.2" height="18.4" fill="#6bc3d0" stroke="#111" stroke-width="0.9"/>
<rect x="649.6" y="459.5" width="1" height="18.4" fill="#6bc3d0" stroke="#111" stroke-width="0.9"/>
<rect x="649.6" y="441.1" width="1.6" height="18.4" fill="#6bc3d0" stroke="#111" stroke-width="0.9"/>
<rect x="649.6" y="422.7" width="0.8" height="18.4" fill="#6bc3d0" stroke="#111" stroke-width="0.9"/>
<rect x="649.6" y="404.3" width="0.2" height="18.4" fill="#6bc3d0" stroke="#111" stroke-width="0.9"/>
<rect x="649.6" y="385.9" width="0.2" height="18.4" fill="#6bc3d0" stroke="#111" stroke-width="0.9"/>
<path d="M649.6 383.2V596.55" stroke="#222" stroke-width="1.25"/>
<path d="M649 590.5h-2.4" stroke="#222" stroke-width="0.9"/>
<path d="M649 549.16h-2.4" stroke="#222" stroke-width="0.9"/>
<path d="M649 507.82h-2.4" stroke="#222" stroke-width="0.9"/>
<path d="M649 466.48h-2.4" stroke="#222" stroke-width="0.9"/>
<path d="M649 425.14h-2.4" stroke="#222" stroke-width="0.9"/>
<path d="M649 383.8h-2.4" stroke="#222" stroke-width="0.9"/>
<clipPath id="c4"><rect x="433.4" y="383.2" width="209.6" height="212.6"/></clipPath><g clip-path="url(#c4)">
<circle cx="484.8" cy="529.2" r="3.1" fill="#0d2161"/>
<circle cx="487" cy="565.7" r="3.1" fill="#0d2161"/>
<circle cx="610.2" cy="422.2" r="3.1" fill="#0e2265"/>
<circle cx="632.9" cy="422.2" r="3.1" fill="#0e2265"/>
<circle cx="546.4" cy="507.2" r="3.1" fill="#0e2265"/>
<circle cx="573.1" cy="443.4" r="3.1" fill="#13266f"/>
<circle cx="597" cy="449.8" r="3.1" fill="#13266f"/>
<circle cx="531.1" cy="479.9" r="3.1" fill="#13266f"/>
<circle cx="512.1" cy="513.3" r="3.1" fill="#13266f"/>
<circle cx="510.4" cy="513.1" r="3.1" fill="#13266f"/>
<circle cx="557.2" cy="482.6" r="3.1" fill="#1f2f87"/>
<circle cx="590.9" cy="454.4" r="3.1" fill="#233390"/>
<circle cx="567" cy="477.4" r="3.1" fill="#233390"/>
<circle cx="476.8" cy="545.5" r="3.1" fill="#233390"/>
<circle cx="460" cy="558.4" r="3.1" fill="#233390"/>
<circle cx="563.3" cy="481.1" r="3.1" fill="#243c98"/>
<circle cx="537.2" cy="505.6" r="3.1" fill="#243c98"/>
<circle cx="582.9" cy="449.2" r="3.1" fill="#24479d"/>
<circle cx="575.9" cy="456" r="3.1" fill="#234da0"/>
<circle cx="542.7" cy="469.5" r="3.1" fill="#234da0"/>
<circle cx="515.8" cy="498.9" r="3.1" fill="#234da0"/>
<circle cx="534.2" cy="500.4" r="3.1" fill="#234da0"/>
<circle cx="509.6" cy="505.6" r="3.1" fill="#2354a3"/>
<circle cx="553.5" cy="476.5" r="3.1" fill="#225da8"/>
<circle cx="526.5" cy="489.7" r="3.1" fill="#225da8"/>
<circle cx="518.8" cy="499.5" r="3.1" fill="#225da8"/>
<circle cx="504.1" cy="540.1" r="3.1" fill="#225da8"/>
<circle cx="529.6" cy="490.9" r="3.1" fill="#216aad"/>
<circle cx="506.7" cy="527" r="3.1" fill="#2072b1"/>
<circle cx="481.2" cy="559.9" r="3.1" fill="#2072b1"/>
<circle cx="522" cy="510.2" r="3.1" fill="#1f7ab5"/>
<circle cx="560.2" cy="474.4" r="3.1" fill="#1e86bb"/>
<circle cx="525.5" cy="509.5" r="3.1" fill="#1e86bb"/>
<circle cx="503" cy="527" r="3.1" fill="#1e86bb"/>
<circle cx="469.5" cy="570.1" r="3.1" fill="#1e86bb"/>
<circle cx="471.7" cy="568.6" r="3.1" fill="#1e86bb"/>
<circle cx="547.3" cy="478.6" r="3.1" fill="#1f93c0"/>
<circle cx="522.5" cy="501" r="3.1" fill="#1f93c0"/>
<circle cx="521.9" cy="508.1" r="3.1" fill="#1f93c0"/>
<circle cx="518.2" cy="512.4" r="3.1" fill="#1f93c0"/>
<circle cx="474.6" cy="567.9" r="3.1" fill="#1f93c0"/>
<circle cx="540.3" cy="484.8" r="3.1" fill="#2498c1"/>
<circle cx="546.4" cy="487.2" r="3.1" fill="#2498c1"/>
<circle cx="525" cy="504.1" r="3.1" fill="#2498c1"/>
<circle cx="514.2" cy="510.2" r="3.1" fill="#2498c1"/>
<circle cx="518.8" cy="508.7" r="3.1" fill="#2498c1"/>
<circle cx="514.5" cy="512.4" r="3.1" fill="#2498c1"/>
<circle cx="461.5" cy="579.6" r="3.1" fill="#2498c1"/>
<circle cx="456.4" cy="583.9" r="3.1" fill="#2498c1"/>
<circle cx="513.6" cy="518.8" r="3.1" fill="#2a9ec1"/>
<circle cx="499.4" cy="525.5" r="3.1" fill="#2a9ec1"/>
<circle cx="460.7" cy="575.9" r="3.1" fill="#2a9ec1"/>
<circle cx="458.5" cy="583.2" r="3.1" fill="#2a9ec1"/>
<circle cx="496.5" cy="524.1" r="3.1" fill="#33a7c2"/>
<circle cx="493.6" cy="530.7" r="3.1" fill="#33a7c2"/>
<circle cx="498" cy="531.4" r="3.1" fill="#33a7c2"/>
<circle cx="490.7" cy="532.8" r="3.1" fill="#3bb0c3"/>
<circle cx="479.7" cy="546.7" r="3.1" fill="#8ed3ba"/>
<circle cx="483.4" cy="543.1" r="3.1" fill="#99d7b8"/>
<circle cx="476" cy="553" r="3.1" fill="#abdeb7"/>
<circle cx="475.3" cy="556.9" r="3.1" fill="#b7e3b6"/>
<circle cx="463" cy="572.5" r="3.1" fill="#c6e9b4"/>
<circle cx="471" cy="555.5" r="3.1" fill="#d0edb3"/>
<circle cx="444.5" cy="583.5" r="3.1" fill="#d6efb3"/>
<circle cx="466" cy="570" r="3.1" fill="#d6efb3"/>
<circle cx="463.6" cy="566.4" r="3.1" fill="#f3fabf"/>
<circle cx="469.5" cy="559.9" r="3.1" fill="#f3fabf"/>
<circle cx="456" cy="580" r="3.1" fill="#f3fabf"/>
<circle cx="473" cy="562" r="3.1" fill="#f3fabf"/>
<circle cx="452" cy="578.8" r="3.1" fill="#f6fbc5"/>
<circle cx="457.8" cy="573" r="3.1" fill="#f6fbc5"/>
<circle cx="466.6" cy="562.8" r="3.1" fill="#f6fbc5"/>
<circle cx="448" cy="586" r="3.1" fill="#f6fbc5"/>
<circle cx="452" cy="583" r="3.1" fill="#f6fbc5"/>
<circle cx="462" cy="562" r="3.1" fill="#f6fbc5"/>
<circle cx="468" cy="556" r="3.1" fill="#f6fbc5"/>
<circle cx="462" cy="575" r="3.1" fill="#f6fbc5"/>
<circle cx="446.1" cy="584.7" r="3.1" fill="#f7fcc7"/>
<circle cx="449" cy="581.8" r="3.1" fill="#f7fcc7"/>
<circle cx="455" cy="575.9" r="3.1" fill="#f7fcc7"/>
<circle cx="460.7" cy="570.1" r="3.1" fill="#f7fcc7"/>
<circle cx="450" cy="576" r="3.1" fill="#f7fcc7"/>
<circle cx="456" cy="569" r="3.1" fill="#f7fcc7"/>
<circle cx="465" cy="559" r="3.1" fill="#f7fcc7"/>
<circle cx="445" cy="585" r="3.1" fill="#f7fcc7"/>
<circle cx="453" cy="580" r="3.1" fill="#f7fcc7"/>
<circle cx="444" cy="589" r="3.1" fill="#f7fcc7"/>
<circle cx="452" cy="585" r="3.1" fill="#f7fcc7"/>
<circle cx="458" cy="577" r="3.1" fill="#f7fcc7"/>
<circle cx="470" cy="566" r="3.1" fill="#f7fcc7"/>
<circle cx="466" cy="566" r="3.1" fill="#f7fcc7"/>
<circle cx="443.2" cy="587.6" r="3.1" fill="#f9fdcb"/>
<circle cx="447" cy="580" r="3.1" fill="#f9fdcb"/>
<circle cx="453" cy="572" r="3.1" fill="#f9fdcb"/>
<circle cx="459" cy="566" r="3.1" fill="#f9fdcb"/>
<circle cx="449" cy="583" r="3.1" fill="#f9fdcb"/>
<circle cx="441" cy="588" r="3.1" fill="#f9fdcb"/>
<circle cx="448" cy="588" r="3.1" fill="#f9fdcb"/>
<circle cx="455" cy="583" r="3.1" fill="#f9fdcb"/>
</g>
<path d="M433.4 383.2V595.8H643" fill="none" stroke="#222" stroke-width="1.5"/>
<path d="M440.5 596.4v2.6" stroke="#222" stroke-width="1"/>
<path d="M480.22 596.4v2.6" stroke="#222" stroke-width="1"/>
<path d="M519.94 596.4v2.6" stroke="#222" stroke-width="1"/>
<path d="M559.66 596.4v2.6" stroke="#222" stroke-width="1"/>
<path d="M599.38 596.4v2.6" stroke="#222" stroke-width="1"/>
<path d="M639.1 596.4v2.6" stroke="#222" stroke-width="1"/>
<path d="M432.8 590.5h-2.6" stroke="#222" stroke-width="1"/>
<path d="M432.8 549.16h-2.6" stroke="#222" stroke-width="1"/>
<path d="M432.8 507.82h-2.6" stroke="#222" stroke-width="1"/>
<path d="M432.8 466.48h-2.6" stroke="#222" stroke-width="1"/>
<path d="M432.8 425.14h-2.6" stroke="#222" stroke-width="1"/>
<path d="M432.8 383.8h-2.6" stroke="#222" stroke-width="1"/>
<text x="440.5" y="615.5" font-size="20.3" font-weight="bold" text-anchor="middle" textLength="12" lengthAdjust="spacingAndGlyphs" stroke="#000" stroke-width="0.35">0</text>
<text x="480.22" y="615.5" font-size="20.3" font-weight="bold" text-anchor="middle" textLength="12" lengthAdjust="spacingAndGlyphs" stroke="#000" stroke-width="0.35">2</text>
<text x="519.94" y="615.5" font-size="20.3" font-weight="bold" text-anchor="middle" textLength="12" lengthAdjust="spacingAndGlyphs" stroke="#000" stroke-width="0.35">4</text>
<text x="559.66" y="615.5" font-size="20.3" font-weight="bold" text-anchor="middle" textLength="12" lengthAdjust="spacingAndGlyphs" stroke="#000" stroke-width="0.35">6</text>
<text x="599.38" y="615.5" font-size="20.3" font-weight="bold" text-anchor="middle" textLength="12" lengthAdjust="spacingAndGlyphs" stroke="#000" stroke-width="0.35">8</text>
<text x="639.1" y="615.5" font-size="20.3" font-weight="bold" text-anchor="middle" textLength="25.8" lengthAdjust="spacingAndGlyphs" stroke="#000" stroke-width="0.35">10</text>
<text x="428.4" y="597.7" font-size="20.3" font-weight="bold" text-anchor="end" textLength="12" lengthAdjust="spacingAndGlyphs" stroke="#000" stroke-width="0.35">0</text>
<text x="428.4" y="556.36" font-size="20.3" font-weight="bold" text-anchor="end" textLength="12" lengthAdjust="spacingAndGlyphs" stroke="#000" stroke-width="0.35">2</text>
<text x="428.4" y="515.02" font-size="20.3" font-weight="bold" text-anchor="end" textLength="12" lengthAdjust="spacingAndGlyphs" stroke="#000" stroke-width="0.35">4</text>
<text x="428.4" y="473.68" font-size="20.3" font-weight="bold" text-anchor="end" textLength="12" lengthAdjust="spacingAndGlyphs" stroke="#000" stroke-width="0.35">6</text>
<text x="428.4" y="432.34" font-size="20.3" font-weight="bold" text-anchor="end" textLength="12" lengthAdjust="spacingAndGlyphs" stroke="#000" stroke-width="0.35">8</text>
<text x="428.4" y="391" font-size="20.3" font-weight="bold" text-anchor="end" textLength="25.8" lengthAdjust="spacingAndGlyphs" stroke="#000" stroke-width="0.35">10</text>
<text x="427.8" y="636.5" font-size="19.2" font-weight="bold" textLength="222.7" lengthAdjust="spacingAndGlyphs" stroke="#000" stroke-width="0.3">Exp. <tspan font-style="italic" font-weight="normal" stroke="none">&#957;</tspan> at 100 <tspan font-style="italic" font-weight="normal" stroke="none" font-size="0.72em" dy="-6">o</tspan><tspan dy="6">C</tspan> (cSt)</text>
<text x="395.3" y="606.5" font-size="19.2" font-weight="bold" textLength="233.9" lengthAdjust="spacingAndGlyphs" stroke="#000" stroke-width="0.3" transform="rotate(-90 395.3 606.5)">Pred. <tspan font-style="italic" font-weight="normal" stroke="none">&#957;</tspan> at 100 <tspan font-style="italic" font-weight="normal" stroke="none" font-size="0.72em" dy="-6">o</tspan><tspan dy="6">C</tspan> (cSt)</text>
<text x="438.4" y="402.9" font-size="24.2" font-weight="bold">test set</text>
<text x="636.4" y="560.5" font-size="21.2" font-weight="bold" text-anchor="end">R<tspan font-size="14" dy="-6.2">2</tspan><tspan dy="6.2" dx="0.6">: 0.974</tspan></text>
<text x="642.6" y="586.8" font-size="21.3" font-weight="bold" text-anchor="end">MAE: 0.190 cSt</text>
<text x="365" y="357" font-size="43.5" font-weight="bold">d.</text>
<rect x="73.1" y="699" width="3.47" height="0.9" fill="#dd54a8" stroke="#111" stroke-width="0.9"/>
<rect x="76.57" y="698.7" width="3.47" height="1.2" fill="#dd54a8" stroke="#111" stroke-width="0.9"/>
<rect x="80.04" y="696.1" width="3.47" height="3.8" fill="#dd54a8" stroke="#111" stroke-width="0.9"/>
<rect x="83.51" y="690.3" width="3.47" height="9.6" fill="#dd54a8" stroke="#111" stroke-width="0.9"/>
<rect x="86.98" y="677.1" width="3.47" height="22.8" fill="#dd54a8" stroke="#111" stroke-width="0.9"/>
<rect x="90.45" y="669.1" width="3.47" height="30.8" fill="#dd54a8" stroke="#111" stroke-width="0.9"/>
<rect x="93.92" y="673.9" width="3.47" height="26" fill="#dd54a8" stroke="#111" stroke-width="0.9"/>
<rect x="97.39" y="665.9" width="3.47" height="34" fill="#dd54a8" stroke="#111" stroke-width="0.9"/>
<rect x="100.86" y="683" width="3.47" height="16.9" fill="#dd54a8" stroke="#111" stroke-width="0.9"/>
<rect x="104.33" y="687.5" width="3.47" height="12.4" fill="#dd54a8" stroke="#111" stroke-width="0.9"/>
<rect x="107.8" y="686" width="3.47" height="13.9" fill="#dd54a8" stroke="#111" stroke-width="0.9"/>
<rect x="111.27" y="690.3" width="3.47" height="9.6" fill="#dd54a8" stroke="#111" stroke-width="0.9"/>
<rect x="114.74" y="694.8" width="3.47" height="5.1" fill="#dd54a8" stroke="#111" stroke-width="0.9"/>
<rect x="118.21" y="695.8" width="3.47" height="4.1" fill="#dd54a8" stroke="#111" stroke-width="0.9"/>
<rect x="121.68" y="696.3" width="3.47" height="3.6" fill="#dd54a8" stroke="#111" stroke-width="0.9"/>
<rect x="125.15" y="698" width="3.47" height="1.9" fill="#dd54a8" stroke="#111" stroke-width="0.9"/>
<rect x="128.62" y="699" width="3.47" height="0.9" fill="#dd54a8" stroke="#111" stroke-width="0.9"/>
<rect x="132.09" y="698.7" width="3.47" height="1.2" fill="#dd54a8" stroke="#111" stroke-width="0.9"/>
<rect x="135.56" y="698.3" width="3.47" height="1.6" fill="#dd54a8" stroke="#111" stroke-width="0.9"/>
<rect x="139.03" y="699" width="3.47" height="0.9" fill="#dd54a8" stroke="#111" stroke-width="0.9"/>
<rect x="142.5" y="698.9" width="3.47" height="1" fill="#dd54a8" stroke="#111" stroke-width="0.9"/>
<rect x="145.97" y="699" width="3.47" height="0.9" fill="#dd54a8" stroke="#111" stroke-width="0.9"/>
<path d="M63.05 699.9H272" stroke="#222" stroke-width="1.25"/>
<path d="M113.5 700.5v2.4" stroke="#222" stroke-width="0.9"/>
<path d="M183.2 700.5v2.4" stroke="#222" stroke-width="0.9"/>
<path d="M252.9 700.5v2.4" stroke="#222" stroke-width="0.9"/>
<rect x="278.5" y="904.94" width="1" height="3.76" fill="#dd54a8" stroke="#111" stroke-width="0.9"/>
<rect x="278.5" y="901.18" width="1.8" height="3.76" fill="#dd54a8" stroke="#111" stroke-width="0.9"/>
<rect x="278.5" y="897.42" width="4" height="3.76" fill="#dd54a8" stroke="#111" stroke-width="0.9"/>
<rect x="278.5" y="893.66" width="13.9" height="3.76" fill="#dd54a8" stroke="#111" stroke-width="0.9"/>
<rect x="278.5" y="889.9" width="23.1" height="3.76" fill="#dd54a8" stroke="#111" stroke-width="0.9"/>
<rect x="278.5" y="886.14" width="27.4" height="3.76" fill="#dd54a8" stroke="#111" stroke-width="0.9"/>
<rect x="278.5" y="882.38" width="24.8" height="3.76" fill="#dd54a8" stroke="#111" stroke-width="0.9"/>
<rect x="278.5" y="878.62" width="34.1" height="3.76" fill="#dd54a8" stroke="#111" stroke-width="0.9"/>
<rect x="278.5" y="874.86" width="16" height="3.76" fill="#dd54a8" stroke="#111" stroke-width="0.9"/>
<rect x="278.5" y="871.1" width="12.1" height="3.76" fill="#dd54a8" stroke="#111" stroke-width="0.9"/>
<rect x="278.5" y="867.34" width="13.9" height="3.76" fill="#dd54a8" stroke="#111" stroke-width="0.9"/>
<rect x="278.5" y="863.58" width="9.9" height="3.76" fill="#dd54a8" stroke="#111" stroke-width="0.9"/>
<rect x="278.5" y="859.82" width="4.7" height="3.76" fill="#dd54a8" stroke="#111" stroke-width="0.9"/>
<rect x="278.5" y="856.06" width="4.7" height="3.76" fill="#dd54a8" stroke="#111" stroke-width="0.9"/>
<rect x="278.5" y="852.3" width="3.8" height="3.76" fill="#dd54a8" stroke="#111" stroke-width="0.9"/>
<rect x="278.5" y="848.54" width="3" height="3.76" fill="#dd54a8" stroke="#111" stroke-width="0.9"/>
<rect x="278.5" y="844.78" width="1.2" height="3.76" fill="#dd54a8" stroke="#111" stroke-width="0.9"/>
<rect x="278.5" y="841.02" width="0.5" height="3.76" fill="#dd54a8" stroke="#111" stroke-width="0.9"/>
<rect x="278.5" y="837.26" width="1.8" height="3.76" fill="#dd54a8" stroke="#111" stroke-width="0.9"/>
<rect x="278.5" y="833.5" width="1.2" height="3.76" fill="#dd54a8" stroke="#111" stroke-width="0.9"/>
<rect x="278.5" y="829.74" width="0.3" height="3.76" fill="#dd54a8" stroke="#111" stroke-width="0.9"/>
<rect x="278.5" y="825.98" width="0.3" height="3.76" fill="#dd54a8" stroke="#111" stroke-width="0.9"/>
<rect x="278.5" y="822.22" width="0.2" height="3.76" fill="#dd54a8" stroke="#111" stroke-width="0.9"/>
<rect x="278.5" y="818.46" width="0.2" height="3.76" fill="#dd54a8" stroke="#111" stroke-width="0.9"/>
<rect x="278.5" y="814.7" width="0.2" height="3.76" fill="#dd54a8" stroke="#111" stroke-width="0.9"/>
<rect x="278.5" y="810.94" width="0.2" height="3.76" fill="#dd54a8" stroke="#111" stroke-width="0.9"/>
<path d="M278.5 706.8V918.55" stroke="#222" stroke-width="1.25"/>
<path d="M277.9 864.5h-2.4" stroke="#222" stroke-width="0.9"/>
<path d="M277.9 786.4h-2.4" stroke="#222" stroke-width="0.9"/>
<path d="M277.9 708.3h-2.4" stroke="#222" stroke-width="0.9"/>
<clipPath id="c5"><rect x="63.8" y="706.8" width="208.2" height="211"/></clipPath><g clip-path="url(#c5)">
<circle cx="143.72" cy="827.73" r="3.1" fill="#54006d"/>
<circle cx="122.39" cy="851.45" r="3.1" fill="#54006d"/>
<circle cx="141.93" cy="834.83" r="3.1" fill="#54006d"/>
<circle cx="121.65" cy="852.08" r="3.1" fill="#54006d"/>
<circle cx="146.17" cy="826.51" r="3.1" fill="#54006d"/>
<circle cx="122.42" cy="852.16" r="3.1" fill="#54006d"/>
<circle cx="132.29" cy="842.17" r="3.1" fill="#54006d"/>
<circle cx="139.88" cy="837.68" r="3.1" fill="#54006d"/>
<circle cx="127.61" cy="850.55" r="3.1" fill="#54006d"/>
<circle cx="125.99" cy="852.46" r="3.1" fill="#54006d"/>
<circle cx="123.52" cy="855.54" r="3.1" fill="#54006d"/>
<circle cx="145.04" cy="826.76" r="3.1" fill="#54006d"/>
<circle cx="155.89" cy="814.96" r="3.1" fill="#54006d"/>
<circle cx="138.19" cy="838.94" r="3.1" fill="#54006d"/>
<circle cx="164.44" cy="806.42" r="3.1" fill="#54006d"/>
<circle cx="124.66" cy="849.65" r="3.1" fill="#54006d"/>
<circle cx="142.47" cy="834.2" r="3.1" fill="#54006d"/>
<circle cx="124.42" cy="855.45" r="3.1" fill="#54006d"/>
<circle cx="144.61" cy="831.05" r="3.1" fill="#54006d"/>
<circle cx="155.78" cy="818.32" r="3.1" fill="#54006d"/>
<circle cx="154.29" cy="820.26" r="3.1" fill="#54006d"/>
<circle cx="157.3" cy="818.24" r="3.1" fill="#54006d"/>
<circle cx="141.75" cy="829.43" r="3.1" fill="#54006d"/>
<circle cx="160.55" cy="813.94" r="3.1" fill="#54006d"/>
<circle cx="128.29" cy="844.62" r="3.1" fill="#54006d"/>
<circle cx="137.69" cy="835.54" r="3.1" fill="#54006d"/>
<circle cx="144.52" cy="830.86" r="3.1" fill="#54006d"/>
<circle cx="153.61" cy="817.27" r="3.1" fill="#54006d"/>
<circle cx="149.4" cy="827.3" r="3.1" fill="#54006d"/>
<circle cx="152.7" cy="819.74" r="3.1" fill="#54006d"/>
<circle cx="164.94" cy="807.98" r="3.1" fill="#54006d"/>
<circle cx="139.3" cy="837.84" r="3.1" fill="#54006d"/>
<circle cx="165.33" cy="807.09" r="3.1" fill="#54006d"/>
<circle cx="157.79" cy="817.91" r="3.1" fill="#54006d"/>
<circle cx="136.01" cy="837.98" r="3.1" fill="#54006d"/>
<circle cx="164.96" cy="805.83" r="3.1" fill="#54006d"/>
<circle cx="165.2" cy="805" r="3.1" fill="#54006d"/>
<circle cx="142.24" cy="834.85" r="3.1" fill="#54006d"/>
<circle cx="136.25" cy="841.3" r="3.1" fill="#54006d"/>
<circle cx="140.95" cy="831.32" r="3.1" fill="#54006d"/>
<circle cx="163.2" cy="806.32" r="3.1" fill="#54006d"/>
<circle cx="163.82" cy="810.67" r="3.1" fill="#54006d"/>
<circle cx="155.24" cy="816.39" r="3.1" fill="#54006d"/>
<circle cx="154.75" cy="815.36" r="3.1" fill="#54006d"/>
<circle cx="161.09" cy="814.04" r="3.1" fill="#54006d"/>
<circle cx="151.17" cy="821.03" r="3.1" fill="#54006d"/>
<circle cx="140.35" cy="831.63" r="3.1" fill="#54006d"/>
<circle cx="158.44" cy="814.91" r="3.1" fill="#58006e"/>
<circle cx="118.25" cy="861.91" r="3.1" fill="#5b006f"/>
<circle cx="261.6" cy="717.6" r="3.1" fill="#5b006f"/>
<circle cx="203.1" cy="764.2" r="3.1" fill="#5b006f"/>
<circle cx="193.3" cy="767.9" r="3.1" fill="#5b006f"/>
<circle cx="148" cy="822.5" r="3.1" fill="#5b006f"/>
<circle cx="136" cy="828" r="3.1" fill="#5b006f"/>
<circle cx="128.68" cy="849.04" r="3.1" fill="#5b006f"/>
<circle cx="123.14" cy="855.63" r="3.1" fill="#5d006f"/>
<circle cx="114.37" cy="866.38" r="3.1" fill="#5d006f"/>
<circle cx="154.42" cy="819.46" r="3.1" fill="#5d006f"/>
<circle cx="117.08" cy="857.38" r="3.1" fill="#600070"/>
<circle cx="143.1" cy="832.37" r="3.1" fill="#630171"/>
<circle cx="137.47" cy="836.91" r="3.1" fill="#650171"/>
<circle cx="143.69" cy="831.28" r="3.1" fill="#660172"/>
<circle cx="83.52" cy="900.42" r="3.1" fill="#680172"/>
<circle cx="116.02" cy="863.92" r="3.1" fill="#680172"/>
<circle cx="212.6" cy="754.4" r="3.1" fill="#680172"/>
<circle cx="150.48" cy="823.95" r="3.1" fill="#690173"/>
<circle cx="116.38" cy="857.77" r="3.1" fill="#6b0173"/>
<circle cx="176.4" cy="790.3" r="3.1" fill="#6f0174"/>
<circle cx="174.9" cy="793.3" r="3.1" fill="#6f0174"/>
<circle cx="142.53" cy="830.94" r="3.1" fill="#710175"/>
<circle cx="116.38" cy="859.15" r="3.1" fill="#740175"/>
<circle cx="161.2" cy="811.35" r="3.1" fill="#760176"/>
<circle cx="161.21" cy="810.25" r="3.1" fill="#770176"/>
<circle cx="154.43" cy="819.12" r="3.1" fill="#770176"/>
<circle cx="183.2" cy="785" r="3.1" fill="#770176"/>
<circle cx="126.01" cy="848.98" r="3.1" fill="#790177"/>
<circle cx="148.99" cy="824.9" r="3.1" fill="#790177"/>
<circle cx="109.08" cy="871.75" r="3.1" fill="#7a0177"/>
<circle cx="158.33" cy="814.7" r="3.1" fill="#7d0177"/>
<circle cx="124.34" cy="851.24" r="3.1" fill="#7f0178"/>
<circle cx="155.53" cy="817.07" r="3.1" fill="#810178"/>
<circle cx="161.31" cy="810.78" r="3.1" fill="#810178"/>
<circle cx="85.46" cy="893.05" r="3.1" fill="#810178"/>
<circle cx="143.18" cy="830.62" r="3.1" fill="#820178"/>
<circle cx="84.32" cy="895.1" r="3.1" fill="#820178"/>
<circle cx="185.6" cy="782.6" r="3.1" fill="#840178"/>
<circle cx="170.3" cy="799.5" r="3.1" fill="#840178"/>
<circle cx="156" cy="814" r="3.1" fill="#840178"/>
<circle cx="150.46" cy="823.67" r="3.1" fill="#840178"/>
<circle cx="164.82" cy="807.09" r="3.1" fill="#840178"/>
<circle cx="154.63" cy="818.97" r="3.1" fill="#870179"/>
<circle cx="125.89" cy="851.63" r="3.1" fill="#870179"/>
<circle cx="129.55" cy="847.4" r="3.1" fill="#890179"/>
<circle cx="109.02" cy="872.27" r="3.1" fill="#890179"/>
<circle cx="131.2" cy="844.14" r="3.1" fill="#890179"/>
<circle cx="83.82" cy="900.93" r="3.1" fill="#8b0179"/>
<circle cx="144.81" cy="828.71" r="3.1" fill="#8c0179"/>
<circle cx="132.46" cy="843.71" r="3.1" fill="#8c0179"/>
<circle cx="123.63" cy="854.65" r="3.1" fill="#8e017a"/>
<circle cx="127.34" cy="847.5" r="3.1" fill="#8e017a"/>
<circle cx="140.19" cy="835.15" r="3.1" fill="#8f017a"/>
<circle cx="74.69" cy="905.79" r="3.1" fill="#8f017a"/>
<circle cx="134.36" cy="841.46" r="3.1" fill="#8f017a"/>
<circle cx="167.5" cy="801.5" r="3.1" fill="#91017a"/>
<circle cx="141" cy="829" r="3.1" fill="#91017a"/>
<circle cx="164.67" cy="807.52" r="3.1" fill="#91017a"/>
<circle cx="158.6" cy="813.99" r="3.1" fill="#93017a"/>
<circle cx="117.61" cy="858.52" r="3.1" fill="#94017b"/>
<circle cx="116.56" cy="859.8" r="3.1" fill="#96017b"/>
<circle cx="163" cy="806" r="3.1" fill="#99017b"/>
<circle cx="152" cy="818" r="3.1" fill="#99017b"/>
<circle cx="145" cy="826" r="3.1" fill="#99017b"/>
<circle cx="143.32" cy="830.71" r="3.1" fill="#99017b"/>
<circle cx="85.48" cy="892.57" r="3.1" fill="#99017b"/>
<circle cx="154.52" cy="818.18" r="3.1" fill="#9b017b"/>
<circle cx="142.7" cy="831.26" r="3.1" fill="#9b017b"/>
<circle cx="120.83" cy="855.15" r="3.1" fill="#9e017c"/>
<circle cx="141.57" cy="833.29" r="3.1" fill="#9e017c"/>
<circle cx="148.74" cy="825.14" r="3.1" fill="#a0017c"/>
<circle cx="160.5" cy="810" r="3.1" fill="#a1017c"/>
<circle cx="109.35" cy="866.98" r="3.1" fill="#a3017d"/>
<circle cx="82.22" cy="902.33" r="3.1" fill="#a5017d"/>
<circle cx="148.79" cy="824.84" r="3.1" fill="#a6017d"/>
<circle cx="128.96" cy="846.23" r="3.1" fill="#a6017d"/>
<circle cx="165.69" cy="805.96" r="3.1" fill="#a6017d"/>
<circle cx="114.48" cy="861.94" r="3.1" fill="#a6017d"/>
<circle cx="117.18" cy="859.46" r="3.1" fill="#a8017d"/>
<circle cx="104.43" cy="877.22" r="3.1" fill="#a8017d"/>
<circle cx="114.18" cy="865.1" r="3.1" fill="#ab017e"/>
<circle cx="163.23" cy="808.81" r="3.1" fill="#ad017e"/>
<circle cx="137" cy="834" r="3.1" fill="#ad017e"/>
<circle cx="121.53" cy="854.41" r="3.1" fill="#ae017e"/>
<circle cx="114.24" cy="864.98" r="3.1" fill="#ae017e"/>
<circle cx="84.41" cy="895.08" r="3.1" fill="#b0037f"/>
<circle cx="85.12" cy="898.75" r="3.1" fill="#b10580"/>
<circle cx="109.14" cy="866.65" r="3.1" fill="#b10580"/>
<circle cx="120.87" cy="857.54" r="3.1" fill="#b30681"/>
<circle cx="120.21" cy="856" r="3.1" fill="#b30681"/>
<circle cx="99.91" cy="876.26" r="3.1" fill="#b40881"/>
<circle cx="123.56" cy="853.88" r="3.1" fill="#b60982"/>
<circle cx="114.15" cy="862.71" r="3.1" fill="#b70b83"/>
<circle cx="87.38" cy="891.15" r="3.1" fill="#b70b83"/>
<circle cx="108.76" cy="866.57" r="3.1" fill="#b70b83"/>
<circle cx="130.24" cy="845.26" r="3.1" fill="#b70b83"/>
<circle cx="97.52" cy="880.28" r="3.1" fill="#b70b83"/>
<circle cx="99.06" cy="877.31" r="3.1" fill="#b90d84"/>
<circle cx="104.17" cy="877.8" r="3.1" fill="#b90d84"/>
<circle cx="107.9" cy="873.12" r="3.1" fill="#b90d84"/>
<circle cx="74.35" cy="910.15" r="3.1" fill="#b90d84"/>
<circle cx="127.62" cy="848.17" r="3.1" fill="#bd1186"/>
<circle cx="100.61" cy="882.44" r="3.1" fill="#bd1186"/>
<circle cx="95.11" cy="881.71" r="3.1" fill="#bd1186"/>
<circle cx="93.86" cy="883.41" r="3.1" fill="#bf1387"/>
<circle cx="118.63" cy="859.68" r="3.1" fill="#c01588"/>
<circle cx="94" cy="883.27" r="3.1" fill="#c21688"/>
<circle cx="89.42" cy="894.42" r="3.1" fill="#c21688"/>
<circle cx="118.74" cy="859.25" r="3.1" fill="#c21688"/>
<circle cx="95.55" cy="888.01" r="3.1" fill="#c31889"/>
<circle cx="90.51" cy="888.18" r="3.1" fill="#c4198a"/>
<circle cx="97.39" cy="879.91" r="3.1" fill="#c61b8b"/>
<circle cx="93.63" cy="889.67" r="3.1" fill="#c61b8b"/>
<circle cx="127.53" cy="849.24" r="3.1" fill="#c71d8c"/>
<circle cx="124.91" cy="851.4" r="3.1" fill="#c71d8c"/>
<circle cx="99.43" cy="876.98" r="3.1" fill="#c91e8c"/>
<circle cx="92.61" cy="884.87" r="3.1" fill="#c91e8c"/>
<circle cx="124.39" cy="852.09" r="3.1" fill="#c91e8c"/>
<circle cx="129.47" cy="846.71" r="3.1" fill="#ca208d"/>
<circle cx="98.14" cy="878.65" r="3.1" fill="#ca208d"/>
<circle cx="100.04" cy="882.69" r="3.1" fill="#ca208d"/>
<circle cx="98.35" cy="884.45" r="3.1" fill="#ca208d"/>
<circle cx="138.03" cy="836.82" r="3.1" fill="#cc218e"/>
<circle cx="92.48" cy="885.32" r="3.1" fill="#cc218e"/>
<circle cx="89.71" cy="894.37" r="3.1" fill="#cc218e"/>
<circle cx="100.97" cy="881.54" r="3.1" fill="#cd238f"/>
<circle cx="96.64" cy="879.88" r="3.1" fill="#cf258f"/>
<circle cx="116.1" cy="860.77" r="3.1" fill="#cf258f"/>
<circle cx="95.51" cy="881.83" r="3.1" fill="#d02690"/>
<circle cx="123.84" cy="853.54" r="3.1" fill="#d02690"/>
<circle cx="90.59" cy="892.92" r="3.1" fill="#d22891"/>
<circle cx="110.87" cy="865.62" r="3.1" fill="#d32992"/>
<circle cx="91.86" cy="891.23" r="3.1" fill="#d32992"/>
<circle cx="92.03" cy="886.14" r="3.1" fill="#d32992"/>
<circle cx="98.22" cy="885.04" r="3.1" fill="#d32992"/>
<circle cx="122.55" cy="853.95" r="3.1" fill="#d32992"/>
<circle cx="124.03" cy="852.91" r="3.1" fill="#d52b93"/>
<circle cx="73.77" cy="907.92" r="3.1" fill="#d52b93"/>
<circle cx="114.81" cy="863.88" r="3.1" fill="#d52b93"/>
<circle cx="113.39" cy="863.83" r="3.1" fill="#d52b93"/>
<circle cx="73.98" cy="909.86" r="3.1" fill="#d52b93"/>
<circle cx="92.03" cy="886.45" r="3.1" fill="#d62d93"/>
<circle cx="106.57" cy="873.92" r="3.1" fill="#d82e94"/>
<circle cx="125.25" cy="851.61" r="3.1" fill="#d93095"/>
<circle cx="91.08" cy="887.17" r="3.1" fill="#db3196"/>
<circle cx="122.22" cy="855.06" r="3.1" fill="#db3196"/>
<circle cx="114.2" cy="862.75" r="3.1" fill="#dc3397"/>
<circle cx="86.63" cy="892.81" r="3.1" fill="#dc3397"/>
<circle cx="90.37" cy="886.99" r="3.1" fill="#dc3397"/>
<circle cx="95.2" cy="882.15" r="3.1" fill="#dc3397"/>
<circle cx="75.14" cy="906.31" r="3.1" fill="#de3697"/>
<circle cx="100.72" cy="877.23" r="3.1" fill="#de3697"/>
<circle cx="102.29" cy="874.98" r="3.1" fill="#df3898"/>
<circle cx="105.35" cy="870.72" r="3.1" fill="#e03a98"/>
<circle cx="90.99" cy="893.1" r="3.1" fill="#e13b98"/>
<circle cx="111.02" cy="866.13" r="3.1" fill="#e13b98"/>
<circle cx="108.98" cy="868.1" r="3.1" fill="#e13d99"/>
<circle cx="92.13" cy="885.67" r="3.1" fill="#e23e99"/>
<circle cx="114.46" cy="862.34" r="3.1" fill="#e23e99"/>
<circle cx="121.71" cy="855.88" r="3.1" fill="#e34099"/>
<circle cx="112.85" cy="866.06" r="3.1" fill="#e34099"/>
<circle cx="76.3" cy="906.98" r="3.1" fill="#e34099"/>
<circle cx="96.81" cy="880.06" r="3.1" fill="#e4429a"/>
<circle cx="108.7" cy="871.1" r="3.1" fill="#e5439a"/>
<circle cx="133.7" cy="841.93" r="3.1" fill="#e5439a"/>
<circle cx="83.57" cy="896.73" r="3.1" fill="#e5439a"/>
<circle cx="111.45" cy="867.44" r="3.1" fill="#e5459a"/>
<circle cx="81.8" cy="901.21" r="3.1" fill="#e5459a"/>
<circle cx="122.01" cy="854.76" r="3.1" fill="#e7489b"/>
<circle cx="109.3" cy="868.26" r="3.1" fill="#e7489b"/>
<circle cx="79.76" cy="903.4" r="3.1" fill="#e7489b"/>
<circle cx="83.95" cy="898.6" r="3.1" fill="#e7489b"/>
<circle cx="114.05" cy="863.55" r="3.1" fill="#e7489b"/>
<circle cx="95.86" cy="882.14" r="3.1" fill="#e84a9b"/>
<circle cx="75.75" cy="905.9" r="3.1" fill="#e84a9b"/>
<circle cx="122.9" cy="853.96" r="3.1" fill="#e84a9b"/>
<circle cx="101.62" cy="876.27" r="3.1" fill="#e84a9b"/>
<circle cx="81.67" cy="901.39" r="3.1" fill="#e84a9b"/>
<circle cx="122.47" cy="854.67" r="3.1" fill="#e94b9c"/>
<circle cx="119.91" cy="857.6" r="3.1" fill="#e94b9c"/>
<circle cx="93.91" cy="888.6" r="3.1" fill="#ea4d9c"/>
<circle cx="82.31" cy="898.4" r="3.1" fill="#eb509c"/>
<circle cx="113.64" cy="863.35" r="3.1" fill="#ec529d"/>
<circle cx="108.24" cy="869.57" r="3.1" fill="#ed549d"/>
<circle cx="76.13" cy="905.8" r="3.1" fill="#ed549d"/>
<circle cx="118.81" cy="858.2" r="3.1" fill="#ee559d"/>
<circle cx="109.96" cy="869.22" r="3.1" fill="#ee559d"/>
<circle cx="115.38" cy="862.87" r="3.1" fill="#ee559d"/>
<circle cx="120.19" cy="857.2" r="3.1" fill="#ee579e"/>
<circle cx="90.49" cy="888.9" r="3.1" fill="#ef599e"/>
<circle cx="114.67" cy="863.83" r="3.1" fill="#f15c9f"/>
<circle cx="121.83" cy="855.06" r="3.1" fill="#f25d9f"/>
<circle cx="102.51" cy="878.24" r="3.1" fill="#f25d9f"/>
<circle cx="82.98" cy="899.49" r="3.1" fill="#f35f9f"/>
<circle cx="82.04" cy="898.8" r="3.1" fill="#f35f9f"/>
<circle cx="100.88" cy="880.27" r="3.1" fill="#f35f9f"/>
<circle cx="100.11" cy="878.26" r="3.1" fill="#f361a0"/>
<circle cx="118.57" cy="859.08" r="3.1" fill="#f462a0"/>
<circle cx="112.85" cy="865.46" r="3.1" fill="#f666a1"/>
<circle cx="87.72" cy="894.58" r="3.1" fill="#f666a1"/>
<circle cx="80.41" cy="900.75" r="3.1" fill="#f666a1"/>
<circle cx="111.43" cy="867.15" r="3.1" fill="#f767a1"/>
<circle cx="91.69" cy="890.26" r="3.1" fill="#f767a1"/>
<circle cx="97.74" cy="880.47" r="3.1" fill="#f767a1"/>
<circle cx="86.23" cy="893.8" r="3.1" fill="#f769a1"/>
<circle cx="75.39" cy="906.29" r="3.1" fill="#f769a1"/>
<circle cx="99.14" cy="881.9" r="3.1" fill="#f76ba2"/>
<circle cx="111.49" cy="865.89" r="3.1" fill="#f76ba2"/>
<circle cx="87.82" cy="892.17" r="3.1" fill="#f76ba2"/>
<circle cx="108.32" cy="871.14" r="3.1" fill="#f76ba2"/>
<circle cx="93.29" cy="888.66" r="3.1" fill="#f76ca3"/>
<circle cx="103.17" cy="874.52" r="3.1" fill="#f76ca3"/>
<circle cx="89.56" cy="892.5" r="3.1" fill="#f76ea3"/>
<circle cx="111.81" cy="866.87" r="3.1" fill="#f770a4"/>
<circle cx="87.56" cy="892.75" r="3.1" fill="#f770a4"/>
<circle cx="73.78" cy="908.6" r="3.1" fill="#f871a4"/>
<circle cx="108.83" cy="869.82" r="3.1" fill="#f871a4"/>
<circle cx="109.41" cy="868.42" r="3.1" fill="#f871a4"/>
<circle cx="89.86" cy="889.71" r="3.1" fill="#f873a5"/>
<circle cx="103.36" cy="874.4" r="3.1" fill="#f873a5"/>
<circle cx="84.15" cy="898.18" r="3.1" fill="#f875a6"/>
<circle cx="88.68" cy="893.71" r="3.1" fill="#f875a6"/>
<circle cx="114.77" cy="863.3" r="3.1" fill="#f875a6"/>
<circle cx="109.26" cy="868.63" r="3.1" fill="#f875a6"/>
<circle cx="104.8" cy="875.61" r="3.1" fill="#f877a6"/>
<circle cx="104.71" cy="872.97" r="3.1" fill="#f877a6"/>
<circle cx="115.41" cy="862.2" r="3.1" fill="#f877a6"/>
<circle cx="91.6" cy="889.84" r="3.1" fill="#f878a7"/>
<circle cx="109.06" cy="869.19" r="3.1" fill="#f878a7"/>
<circle cx="94.29" cy="884.9" r="3.1" fill="#f878a7"/>
<circle cx="76.61" cy="906.29" r="3.1" fill="#f878a7"/>
<circle cx="90.92" cy="890.48" r="3.1" fill="#f878a7"/>
<circle cx="99.92" cy="880.84" r="3.1" fill="#f87aa8"/>
<circle cx="80.46" cy="900.86" r="3.1" fill="#f87aa8"/>
<circle cx="113.4" cy="865.04" r="3.1" fill="#f87aa8"/>
<circle cx="79.62" cy="901.75" r="3.1" fill="#f87aa8"/>
<circle cx="111.02" cy="867.69" r="3.1" fill="#f87aa8"/>
<circle cx="120.36" cy="856.85" r="3.1" fill="#f87aa8"/>
<circle cx="109.05" cy="870.23" r="3.1" fill="#f87aa8"/>
<circle cx="107.57" cy="871.72" r="3.1" fill="#f87aa8"/>
<circle cx="75.05" cy="907.97" r="3.1" fill="#f87aa8"/>
<circle cx="110.99" cy="867.65" r="3.1" fill="#f87aa8"/>
<circle cx="111.28" cy="867.32" r="3.1" fill="#f87aa8"/>
<circle cx="89.05" cy="890.64" r="3.1" fill="#f87ca8"/>
<circle cx="87.02" cy="895.41" r="3.1" fill="#f87ea9"/>
<circle cx="81.95" cy="900.37" r="3.1" fill="#f87fa9"/>
<circle cx="89.11" cy="892.82" r="3.1" fill="#f87fa9"/>
<circle cx="92.54" cy="886.94" r="3.1" fill="#f87fa9"/>
<circle cx="123.68" cy="853.25" r="3.1" fill="#f881aa"/>
<circle cx="95.58" cy="883.88" r="3.1" fill="#f881aa"/>
<circle cx="95.94" cy="885.45" r="3.1" fill="#f881aa"/>
<circle cx="91.56" cy="890.49" r="3.1" fill="#f984ab"/>
<circle cx="83.66" cy="897.51" r="3.1" fill="#f984ab"/>
<circle cx="110.57" cy="867.94" r="3.1" fill="#f984ab"/>
<circle cx="86.68" cy="894.95" r="3.1" fill="#f984ab"/>
<circle cx="96.45" cy="882.15" r="3.1" fill="#f984ab"/>
<circle cx="80.46" cy="901.92" r="3.1" fill="#f984ab"/>
<circle cx="100.29" cy="880.27" r="3.1" fill="#f986ac"/>
<circle cx="81.61" cy="899.54" r="3.1" fill="#f986ac"/>
<circle cx="105.92" cy="874.34" r="3.1" fill="#f986ac"/>
<circle cx="88.02" cy="891.66" r="3.1" fill="#f988ad"/>
<circle cx="97.59" cy="880.82" r="3.1" fill="#f988ad"/>
<circle cx="93.73" cy="885.58" r="3.1" fill="#f988ad"/>
<circle cx="113.37" cy="864.59" r="3.1" fill="#f98aad"/>
<circle cx="83.67" cy="897.51" r="3.1" fill="#f98aad"/>
<circle cx="109.2" cy="869.23" r="3.1" fill="#f98aad"/>
<circle cx="98.86" cy="880.23" r="3.1" fill="#f98bae"/>
<circle cx="95.11" cy="885.99" r="3.1" fill="#f98bae"/>
<circle cx="111.62" cy="867.02" r="3.1" fill="#f98bae"/>
<circle cx="89.25" cy="892.51" r="3.1" fill="#f98bae"/>
<circle cx="73.67" cy="909.2" r="3.1" fill="#f98bae"/>
<circle cx="99.25" cy="879.6" r="3.1" fill="#f98bae"/>
<circle cx="98.56" cy="882.53" r="3.1" fill="#f98bae"/>
<circle cx="94.82" cy="886.55" r="3.1" fill="#f98bae"/>
<circle cx="83.63" cy="898.38" r="3.1" fill="#f98dae"/>
<circle cx="82.41" cy="899.74" r="3.1" fill="#f98dae"/>
<circle cx="81.54" cy="899.75" r="3.1" fill="#f98dae"/>
<circle cx="82.94" cy="898.91" r="3.1" fill="#f98faf"/>
<circle cx="109.52" cy="868.35" r="3.1" fill="#f98faf"/>
<circle cx="119.91" cy="857.32" r="3.1" fill="#f98faf"/>
<circle cx="75.45" cy="906.78" r="3.1" fill="#f98faf"/>
<circle cx="83.59" cy="897.86" r="3.1" fill="#f991b0"/>
<circle cx="97.17" cy="884.11" r="3.1" fill="#f991b0"/>
<circle cx="89.15" cy="890.94" r="3.1" fill="#f992b0"/>
<circle cx="96.71" cy="882.09" r="3.1" fill="#f992b0"/>
<circle cx="111.49" cy="866.11" r="3.1" fill="#f992b0"/>
<circle cx="94.37" cy="886.92" r="3.1" fill="#f996b2"/>
<circle cx="106.01" cy="873.28" r="3.1" fill="#f996b2"/>
<circle cx="77.95" cy="904.15" r="3.1" fill="#f996b2"/>
<circle cx="91.29" cy="888.29" r="3.1" fill="#fa97b2"/>
<circle cx="108.25" cy="871.35" r="3.1" fill="#fa99b3"/>
<circle cx="110.92" cy="867.34" r="3.1" fill="#fa99b3"/>
<circle cx="107.24" cy="870.75" r="3.1" fill="#fa99b3"/>
<circle cx="110.52" cy="867.65" r="3.1" fill="#fa99b3"/>
<circle cx="92.27" cy="888.99" r="3.1" fill="#fa9bb4"/>
<circle cx="91.85" cy="888.24" r="3.1" fill="#fa9bb4"/>
<circle cx="86.01" cy="894.52" r="3.1" fill="#fa9bb4"/>
<circle cx="113.37" cy="864.6" r="3.1" fill="#fa9db4"/>
<circle cx="73.23" cy="909.52" r="3.1" fill="#fa9db4"/>
<circle cx="95.79" cy="883.58" r="3.1" fill="#fa9db4"/>
<circle cx="80.81" cy="901.07" r="3.1" fill="#fa9db4"/>
<circle cx="86.6" cy="895.35" r="3.1" fill="#fa9eb5"/>
<circle cx="102.65" cy="876.01" r="3.1" fill="#fa9eb5"/>
<circle cx="98.78" cy="880.2" r="3.1" fill="#fa9eb5"/>
<circle cx="96.85" cy="884.23" r="3.1" fill="#faa0b5"/>
<circle cx="110.48" cy="868.14" r="3.1" fill="#faa0b5"/>
<circle cx="97.75" cy="881.8" r="3.1" fill="#faa0b5"/>
<circle cx="108.28" cy="870.79" r="3.1" fill="#faa0b5"/>
<circle cx="102.25" cy="876.74" r="3.1" fill="#faa0b5"/>
<circle cx="96.45" cy="882.93" r="3.1" fill="#faa1b6"/>
<circle cx="83.3" cy="898.27" r="3.1" fill="#faa1b6"/>
<circle cx="97.72" cy="882.77" r="3.1" fill="#faa1b6"/>
<circle cx="86.44" cy="895.14" r="3.1" fill="#faa1b6"/>
<circle cx="84.01" cy="897.16" r="3.1" fill="#faa2b6"/>
<circle cx="93.62" cy="886.07" r="3.1" fill="#faa2b6"/>
<circle cx="99.09" cy="881.31" r="3.1" fill="#faa3b6"/>
<circle cx="100.24" cy="879.97" r="3.1" fill="#faa5b7"/>
<circle cx="83.95" cy="897.51" r="3.1" fill="#faa5b7"/>
<circle cx="85.3" cy="896.31" r="3.1" fill="#faa5b7"/>
<circle cx="91.63" cy="888.1" r="3.1" fill="#faa6b7"/>
<circle cx="93.68" cy="885.97" r="3.1" fill="#faa6b7"/>
<circle cx="93.07" cy="887.52" r="3.1" fill="#faa6b7"/>
<circle cx="101.67" cy="876.91" r="3.1" fill="#faa7b7"/>
<circle cx="108.06" cy="870.6" r="3.1" fill="#faa7b7"/>
<circle cx="94.68" cy="886.33" r="3.1" fill="#faa7b7"/>
<circle cx="101.22" cy="877.27" r="3.1" fill="#faa7b7"/>
<circle cx="110.1" cy="868.75" r="3.1" fill="#faa7b7"/>
<circle cx="92.05" cy="887.72" r="3.1" fill="#faa8b8"/>
<circle cx="102.94" cy="875.57" r="3.1" fill="#faa8b8"/>
<circle cx="91.9" cy="889.8" r="3.1" fill="#faa8b8"/>
<circle cx="109.68" cy="868.24" r="3.1" fill="#faa8b8"/>
<circle cx="87.54" cy="893.1" r="3.1" fill="#faa8b8"/>
<circle cx="100.79" cy="877.87" r="3.1" fill="#faa8b8"/>
<circle cx="93.92" cy="885.38" r="3.1" fill="#fba9b8"/>
<circle cx="101.24" cy="878.67" r="3.1" fill="#fba9b8"/>
<circle cx="100.84" cy="877.84" r="3.1" fill="#fba9b8"/>
<circle cx="102.29" cy="876.9" r="3.1" fill="#fba9b8"/>
<circle cx="98.99" cy="879.97" r="3.1" fill="#fba9b8"/>
<circle cx="90.58" cy="890.66" r="3.1" fill="#fba9b8"/>
<circle cx="92.12" cy="889.46" r="3.1" fill="#fba9b8"/>
<circle cx="79.37" cy="902.52" r="3.1" fill="#fba9b8"/>
<circle cx="88.21" cy="893.2" r="3.1" fill="#fbaab8"/>
<circle cx="88.34" cy="892" r="3.1" fill="#fbaab8"/>
<circle cx="96.77" cy="883.67" r="3.1" fill="#fbaab8"/>
<circle cx="98.8" cy="881.54" r="3.1" fill="#fbaab8"/>
<circle cx="87.49" cy="893.92" r="3.1" fill="#fbaab8"/>
<circle cx="97.24" cy="882.26" r="3.1" fill="#fbaab8"/>
<circle cx="96.37" cy="884.77" r="3.1" fill="#fbacb9"/>
<circle cx="94.84" cy="884.44" r="3.1" fill="#fbacb9"/>
<circle cx="109.2" cy="869.54" r="3.1" fill="#fbacb9"/>
<circle cx="91.33" cy="888.75" r="3.1" fill="#fbadb9"/>
<circle cx="96.15" cy="883.06" r="3.1" fill="#fbadb9"/>
<circle cx="100.16" cy="878.67" r="3.1" fill="#fbadb9"/>
<circle cx="81.22" cy="900.74" r="3.1" fill="#fbadb9"/>
<circle cx="92.43" cy="887.25" r="3.1" fill="#fbadb9"/>
<circle cx="92.14" cy="887.63" r="3.1" fill="#fbadb9"/>
<circle cx="98.4" cy="881.8" r="3.1" fill="#fbadb9"/>
<circle cx="103.51" cy="874.78" r="3.1" fill="#fbaeb9"/>
<circle cx="84.6" cy="896.57" r="3.1" fill="#fbaeb9"/>
<circle cx="87.92" cy="892.73" r="3.1" fill="#fbaeb9"/>
<circle cx="106.14" cy="872.56" r="3.1" fill="#fbaeb9"/>
<circle cx="92.42" cy="887.34" r="3.1" fill="#fbaeb9"/>
<circle cx="87.63" cy="892.98" r="3.1" fill="#fbaeb9"/>
<circle cx="99.19" cy="881.04" r="3.1" fill="#fbafba"/>
<circle cx="96.38" cy="882.85" r="3.1" fill="#fbafba"/>
<circle cx="85.13" cy="896.45" r="3.1" fill="#fbafba"/>
<circle cx="95.65" cy="883.87" r="3.1" fill="#fbafba"/>
<circle cx="86.23" cy="894.92" r="3.1" fill="#fbafba"/>
<circle cx="89.01" cy="892.07" r="3.1" fill="#fbafba"/>
<circle cx="104.08" cy="874.78" r="3.1" fill="#fbafba"/>
<circle cx="91.91" cy="888.18" r="3.1" fill="#fbafba"/>
<circle cx="106.87" cy="872.49" r="3.1" fill="#fbb0ba"/>
<circle cx="100.52" cy="878.55" r="3.1" fill="#fbb0ba"/>
<circle cx="110.27" cy="868.26" r="3.1" fill="#fbb0ba"/>
<circle cx="90.09" cy="889.93" r="3.1" fill="#fbb2ba"/>
<circle cx="90.96" cy="890.75" r="3.1" fill="#fbb2ba"/>
<circle cx="91.78" cy="888.2" r="3.1" fill="#fbb2ba"/>
<circle cx="99.34" cy="881.41" r="3.1" fill="#fbb2ba"/>
<circle cx="81.67" cy="900.05" r="3.1" fill="#fbb2ba"/>
<circle cx="99.38" cy="879.17" r="3.1" fill="#fbb2ba"/>
<circle cx="97.68" cy="882.93" r="3.1" fill="#fbb3bb"/>
<circle cx="91.63" cy="888.25" r="3.1" fill="#fbb3bb"/>
<circle cx="109.65" cy="868.86" r="3.1" fill="#fbb3bb"/>
<circle cx="99.78" cy="880.49" r="3.1" fill="#fbb3bb"/>
<circle cx="90.96" cy="889.95" r="3.1" fill="#fbb3bb"/>
<circle cx="95.58" cy="885.25" r="3.1" fill="#fbb3bb"/>
<circle cx="99.76" cy="880.27" r="3.1" fill="#fbb3bb"/>
<circle cx="91.14" cy="890.7" r="3.1" fill="#fbb4bb"/>
<circle cx="103.2" cy="875.27" r="3.1" fill="#fbb4bb"/>
<circle cx="95.41" cy="883.75" r="3.1" fill="#fbb4bb"/>
<circle cx="97.8" cy="881.88" r="3.1" fill="#fbb4bb"/>
<circle cx="99.48" cy="879.28" r="3.1" fill="#fbb5bb"/>
<circle cx="91.82" cy="888.3" r="3.1" fill="#fbb5bb"/>
<circle cx="106.22" cy="872.15" r="3.1" fill="#fbb6bc"/>
<circle cx="86.32" cy="895.12" r="3.1" fill="#fbb6bc"/>
<circle cx="99.17" cy="880.96" r="3.1" fill="#fbb8bc"/>
<circle cx="91.53" cy="888.59" r="3.1" fill="#fbb8bc"/>
<circle cx="98.96" cy="880.84" r="3.1" fill="#fbb8bc"/>
<circle cx="96.84" cy="883.29" r="3.1" fill="#fbb8bc"/>
<circle cx="98.71" cy="881.79" r="3.1" fill="#fbb8bc"/>
<circle cx="85.05" cy="896.49" r="3.1" fill="#fbb9bc"/>
<circle cx="94" cy="885.5" r="3.1" fill="#fbb9bc"/>
<circle cx="87.97" cy="892.78" r="3.1" fill="#fbb9bc"/>
<circle cx="91.68" cy="888.29" r="3.1" fill="#fbb9bc"/>
<circle cx="92.06" cy="889.44" r="3.1" fill="#fbbabd"/>
<circle cx="88.77" cy="892.51" r="3.1" fill="#fbbabd"/>
<circle cx="94.92" cy="884.89" r="3.1" fill="#fbbabd"/>
<circle cx="91.66" cy="888.75" r="3.1" fill="#fbbabd"/>
<circle cx="109.89" cy="868.83" r="3.1" fill="#fbbbbd"/>
<circle cx="100.52" cy="879.52" r="3.1" fill="#fcbcbd"/>
<circle cx="99.33" cy="880.21" r="3.1" fill="#fcbcbd"/>
<circle cx="93.33" cy="886.42" r="3.1" fill="#fcbcbd"/>
<circle cx="100.22" cy="880.32" r="3.1" fill="#fcbcbd"/>
<circle cx="102.73" cy="875.71" r="3.1" fill="#fcbebe"/>
<circle cx="79.95" cy="902.34" r="3.1" fill="#fcbebe"/>
<circle cx="101.92" cy="877.11" r="3.1" fill="#fcbebe"/>
<circle cx="89.62" cy="890.32" r="3.1" fill="#fcbfbe"/>
<circle cx="92.35" cy="888.81" r="3.1" fill="#fcbfbe"/>
<circle cx="93.79" cy="886.39" r="3.1" fill="#fcc0bf"/>
<circle cx="93.45" cy="887.14" r="3.1" fill="#fcc0bf"/>
<circle cx="98.94" cy="880.9" r="3.1" fill="#fcc1bf"/>
<circle cx="96.23" cy="884.53" r="3.1" fill="#fcc1bf"/>
<circle cx="102.05" cy="877.66" r="3.1" fill="#fcc1bf"/>
<circle cx="87.86" cy="893.24" r="3.1" fill="#fcc1bf"/>
<circle cx="98.22" cy="880.91" r="3.1" fill="#fcc1bf"/>
<circle cx="101.64" cy="877.56" r="3.1" fill="#fcc1bf"/>
<circle cx="96.77" cy="882.63" r="3.1" fill="#fcc1bf"/>
<circle cx="97.59" cy="882.75" r="3.1" fill="#fcc1bf"/>
<circle cx="85.33" cy="895.94" r="3.1" fill="#fcc1bf"/>
<circle cx="88.64" cy="893.03" r="3.1" fill="#fcc2bf"/>
<circle cx="98.01" cy="882.26" r="3.1" fill="#fcc2bf"/>
<circle cx="92.89" cy="887.59" r="3.1" fill="#fcc2bf"/>
<circle cx="94.42" cy="886.29" r="3.1" fill="#fcc2bf"/>
<circle cx="100.67" cy="878.83" r="3.1" fill="#fcc2bf"/>
<circle cx="87.34" cy="893.92" r="3.1" fill="#fcc4c0"/>
<circle cx="100.17" cy="880.02" r="3.1" fill="#fcc5c0"/>
<circle cx="93" cy="887.26" r="3.1" fill="#fcc5c0"/>
<circle cx="94.07" cy="886.67" r="3.1" fill="#fcc5c0"/>
<circle cx="109.83" cy="868.64" r="3.1" fill="#fcc5c0"/>
<circle cx="95.61" cy="884.17" r="3.1" fill="#fcc5c0"/>
<circle cx="95.62" cy="884.72" r="3.1" fill="#fcc6c1"/>
<circle cx="97.93" cy="882.19" r="3.1" fill="#fcc6c1"/>
<circle cx="99.9" cy="879.84" r="3.1" fill="#fcc6c1"/>
<circle cx="90.83" cy="889.49" r="3.1" fill="#fcc6c1"/>
<circle cx="93.93" cy="886.13" r="3.1" fill="#fcc6c2"/>
<circle cx="89.29" cy="891.92" r="3.1" fill="#fcc6c2"/>
<circle cx="100.15" cy="879.34" r="3.1" fill="#fcc6c2"/>
<circle cx="89.11" cy="891.61" r="3.1" fill="#fcc6c2"/>
<circle cx="105.55" cy="873.26" r="3.1" fill="#fcc7c3"/>
<circle cx="92.06" cy="888.35" r="3.1" fill="#fcc7c3"/>
<circle cx="95.96" cy="883.88" r="3.1" fill="#fcc7c3"/>
<circle cx="92.41" cy="888.68" r="3.1" fill="#fcc8c3"/>
<circle cx="93.72" cy="886.3" r="3.1" fill="#fcc8c3"/>
<circle cx="96.01" cy="883.6" r="3.1" fill="#fcc8c3"/>
<circle cx="91.15" cy="889.25" r="3.1" fill="#fcc8c3"/>
<circle cx="97.64" cy="882.06" r="3.1" fill="#fcc9c4"/>
<circle cx="92.7" cy="887.51" r="3.1" fill="#fcc9c4"/>
<circle cx="105.15" cy="873.33" r="3.1" fill="#fcc9c4"/>
<circle cx="101.32" cy="878.3" r="3.1" fill="#fccac5"/>
<circle cx="103.94" cy="874.58" r="3.1" fill="#fccac5"/>
<circle cx="99.71" cy="879.46" r="3.1" fill="#fccac5"/>
<circle cx="97.35" cy="882.51" r="3.1" fill="#fccac5"/>
<circle cx="87.23" cy="894.08" r="3.1" fill="#fccac5"/>
<circle cx="104.61" cy="874.58" r="3.1" fill="#fccbc6"/>
<circle cx="100.49" cy="879" r="3.1" fill="#fccbc6"/>
<circle cx="90.57" cy="890.04" r="3.1" fill="#fcccc7"/>
<circle cx="96.76" cy="882.54" r="3.1" fill="#fcccc7"/>
<circle cx="103.05" cy="875.95" r="3.1" fill="#fcccc7"/>
<circle cx="93" cy="887.3" r="3.1" fill="#fcccc7"/>
<circle cx="91.61" cy="889.07" r="3.1" fill="#fcccc7"/>
<circle cx="106.18" cy="872.52" r="3.1" fill="#fcccc8"/>
<circle cx="92.85" cy="887.31" r="3.1" fill="#fcccc8"/>
<circle cx="99.19" cy="880.84" r="3.1" fill="#fcccc8"/>
<circle cx="100.2" cy="879.32" r="3.1" fill="#fcccc8"/>
<circle cx="97.78" cy="882.32" r="3.1" fill="#fcccc8"/>
<circle cx="90.92" cy="889.43" r="3.1" fill="#fccdc9"/>
<circle cx="94.61" cy="885.54" r="3.1" fill="#fccdc9"/>
<circle cx="104.29" cy="874.77" r="3.1" fill="#fccdc9"/>
<circle cx="105.93" cy="872.86" r="3.1" fill="#fccdc9"/>
<circle cx="98.16" cy="881.45" r="3.1" fill="#fccdc9"/>
<circle cx="100.33" cy="878.97" r="3.1" fill="#fcceca"/>
<circle cx="95.99" cy="884.24" r="3.1" fill="#fcceca"/>
<circle cx="97.81" cy="881.99" r="3.1" fill="#fcceca"/>
<circle cx="97.57" cy="882.18" r="3.1" fill="#fcceca"/>
<circle cx="94.29" cy="885.75" r="3.1" fill="#fcceca"/>
<circle cx="92.65" cy="888.27" r="3.1" fill="#fcceca"/>
<circle cx="94.2" cy="885.78" r="3.1" fill="#fccfcb"/>
<circle cx="97.45" cy="882.61" r="3.1" fill="#fccfcb"/>
<circle cx="96.52" cy="883.19" r="3.1" fill="#fccfcb"/>
<circle cx="98.79" cy="880.99" r="3.1" fill="#fccfcb"/>
<circle cx="101.31" cy="878.01" r="3.1" fill="#fcd0cc"/>
<circle cx="97.95" cy="882.15" r="3.1" fill="#fcd0cc"/>
<circle cx="94.36" cy="886.35" r="3.1" fill="#fcd1cd"/>
<circle cx="76.23" cy="906.16" r="3.1" fill="#fcd1cd"/>
<circle cx="89.31" cy="891.48" r="3.1" fill="#fcd1cd"/>
<circle cx="93.55" cy="886.77" r="3.1" fill="#fcd1cd"/>
<circle cx="98.87" cy="880.58" r="3.1" fill="#fcd1cd"/>
<circle cx="96.66" cy="883.55" r="3.1" fill="#fcd1cd"/>
<circle cx="90.32" cy="890.32" r="3.1" fill="#fcd2ce"/>
<circle cx="98.95" cy="880.55" r="3.1" fill="#fcd2ce"/>
<circle cx="93.08" cy="887.74" r="3.1" fill="#fcd2ce"/>
<circle cx="93.85" cy="886.8" r="3.1" fill="#fdd3cf"/>
<circle cx="100.1" cy="879.55" r="3.1" fill="#fdd3cf"/>
<circle cx="94.98" cy="884.98" r="3.1" fill="#fdd3cf"/>
<circle cx="102.53" cy="876.97" r="3.1" fill="#fdd4d0"/>
<circle cx="86.88" cy="894.21" r="3.1" fill="#fdd4d0"/>
<circle cx="90.81" cy="889.92" r="3.1" fill="#fdd4d0"/>
<circle cx="94.53" cy="885.48" r="3.1" fill="#fdd5d1"/>
<circle cx="97.63" cy="882.56" r="3.1" fill="#fdd5d1"/>
<circle cx="92.7" cy="887.5" r="3.1" fill="#fdd6d2"/>
<circle cx="93.55" cy="886.8" r="3.1" fill="#fdd6d2"/>
<circle cx="103.69" cy="875.44" r="3.1" fill="#fdd6d2"/>
<circle cx="102.24" cy="877.39" r="3.1" fill="#fdd6d2"/>
<circle cx="93.46" cy="887.11" r="3.1" fill="#fdd7d3"/>
<circle cx="95.8" cy="884.63" r="3.1" fill="#fdd7d3"/>
<circle cx="99.75" cy="879.69" r="3.1" fill="#fdd7d3"/>
<circle cx="86.16" cy="895.04" r="3.1" fill="#fdd7d3"/>
<circle cx="92.38" cy="888.19" r="3.1" fill="#fdd7d4"/>
<circle cx="102.49" cy="876.82" r="3.1" fill="#fdd7d4"/>
<circle cx="93.45" cy="887.06" r="3.1" fill="#fdd8d5"/>
<circle cx="94.88" cy="885.36" r="3.1" fill="#fdd9d6"/>
<circle cx="90.25" cy="890.46" r="3.1" fill="#fdd9d6"/>
<circle cx="91.62" cy="889.16" r="3.1" fill="#fddbd7"/>
<circle cx="99.11" cy="880.72" r="3.1" fill="#fddbd7"/>
<circle cx="97.68" cy="882.03" r="3.1" fill="#fddbd7"/>
<circle cx="102.25" cy="876.92" r="3.1" fill="#fdddd9"/>
<circle cx="94.06" cy="886.39" r="3.1" fill="#fdddd9"/>
<circle cx="93.96" cy="886.86" r="3.1" fill="#fdddd9"/>
<circle cx="91.96" cy="888.57" r="3.1" fill="#fdddd9"/>
<circle cx="93.61" cy="886.65" r="3.1" fill="#fddedb"/>
<circle cx="95.48" cy="884.58" r="3.1" fill="#fde1de"/>
<circle cx="92.66" cy="887.91" r="3.1" fill="#fde2df"/>
<circle cx="93.06" cy="887.07" r="3.1" fill="#fde2df"/>
<circle cx="94.07" cy="886.29" r="3.1" fill="#fde6e2"/>
<circle cx="91.88" cy="888.74" r="3.1" fill="#fde6e2"/>
<circle cx="95.49" cy="884.67" r="3.1" fill="#fef1ed"/>
</g>
<path d="M63.8 706.8V917.8H272" fill="none" stroke="#222" stroke-width="1.5"/>
<path d="M113.5 918.4v2.6" stroke="#222" stroke-width="1"/>
<path d="M183.2 918.4v2.6" stroke="#222" stroke-width="1"/>
<path d="M252.9 918.4v2.6" stroke="#222" stroke-width="1"/>
<path d="M63.2 864.5h-2.6" stroke="#222" stroke-width="1"/>
<path d="M63.2 786.4h-2.6" stroke="#222" stroke-width="1"/>
<path d="M63.2 708.3h-2.6" stroke="#222" stroke-width="1"/>
<text x="113.5" y="937.7" font-size="20.3" font-weight="bold" text-anchor="middle" textLength="12" lengthAdjust="spacingAndGlyphs" stroke="#000" stroke-width="0.35">1</text>
<text x="183.2" y="937.7" font-size="20.3" font-weight="bold" text-anchor="middle" textLength="12" lengthAdjust="spacingAndGlyphs" stroke="#000" stroke-width="0.35">2</text>
<text x="252.9" y="937.7" font-size="20.3" font-weight="bold" text-anchor="middle" textLength="12" lengthAdjust="spacingAndGlyphs" stroke="#000" stroke-width="0.35">3</text>
<text x="58.8" y="871.7" font-size="20.3" font-weight="bold" text-anchor="end" textLength="12" lengthAdjust="spacingAndGlyphs" stroke="#000" stroke-width="0.35">1</text>
<text x="58.8" y="793.6" font-size="20.3" font-weight="bold" text-anchor="end" textLength="12" lengthAdjust="spacingAndGlyphs" stroke="#000" stroke-width="0.35">2</text>
<text x="58.8" y="715.5" font-size="20.3" font-weight="bold" text-anchor="end" textLength="12" lengthAdjust="spacingAndGlyphs" stroke="#000" stroke-width="0.35">3</text>
<text x="50" y="960.8" font-size="19.2" font-weight="bold" textLength="237.2" lengthAdjust="spacingAndGlyphs" stroke="#000" stroke-width="0.3">Exp. <tspan font-style="italic" font-weight="normal" stroke="none">&#961;</tspan> at 40 <tspan font-style="italic" font-weight="normal" stroke="none" font-size="0.72em" dy="-6">o</tspan><tspan dy="6">C</tspan> (g/cm<tspan font-size="0.7em" font-weight="normal" stroke="none" dy="-7">3</tspan><tspan dy="7">)</tspan></text>
<text x="38.8" y="935.6" font-size="19.2" font-weight="bold" textLength="247.8" lengthAdjust="spacingAndGlyphs" stroke="#000" stroke-width="0.3" transform="rotate(-90 38.8 935.6)">Pred. <tspan font-style="italic" font-weight="normal" stroke="none">&#961;</tspan> at 40 <tspan font-style="italic" font-weight="normal" stroke="none" font-size="0.72em" dy="-6">o</tspan><tspan dy="6">C</tspan> (g/cm<tspan font-size="0.7em" font-weight="normal" stroke="none" dy="-7">3</tspan><tspan dy="7">)</tspan></text>
<text x="71.5" y="723.4" font-size="24.2" font-weight="bold">training set</text>
<text x="268" y="881.5" font-size="21.2" font-weight="bold" text-anchor="end">R<tspan font-size="14" dy="-6.2">2</tspan><tspan dy="6.2" dx="0.6">: 0.997</tspan></text>
<text x="274.5" y="907.2" font-size="21.3" font-weight="bold" text-anchor="end">MAE: 0.007 g/cm<tspan font-size="14" dy="-6.2">3</tspan></text>
<text x="-1.5" y="685" font-size="43.5" font-weight="bold">e.</text>
<rect x="441.9" y="696.6" width="6.26" height="3.2" fill="#6bc3d0" stroke="#111" stroke-width="0.9"/>
<rect x="448.16" y="699.5" width="6.26" height="0.3" fill="#6bc3d0" stroke="#111" stroke-width="0.9"/>
<rect x="454.42" y="675.8" width="6.26" height="24" fill="#6bc3d0" stroke="#111" stroke-width="0.9"/>
<rect x="460.68" y="665.8" width="6.26" height="34" fill="#6bc3d0" stroke="#111" stroke-width="0.9"/>
<rect x="466.94" y="665.8" width="6.26" height="34" fill="#6bc3d0" stroke="#111" stroke-width="0.9"/>
<rect x="473.2" y="680.5" width="6.26" height="19.3" fill="#6bc3d0" stroke="#111" stroke-width="0.9"/>
<rect x="479.46" y="695" width="6.26" height="4.8" fill="#6bc3d0" stroke="#111" stroke-width="0.9"/>
<rect x="485.72" y="688.6" width="6.26" height="11.2" fill="#6bc3d0" stroke="#111" stroke-width="0.9"/>
<rect x="491.98" y="695" width="6.26" height="4.8" fill="#6bc3d0" stroke="#111" stroke-width="0.9"/>
<rect x="498.24" y="698.5" width="6.26" height="1.3" fill="#6bc3d0" stroke="#111" stroke-width="0.9"/>
<rect x="504.5" y="698.5" width="6.26" height="1.3" fill="#6bc3d0" stroke="#111" stroke-width="0.9"/>
<rect x="517.02" y="696.6" width="6.26" height="3.2" fill="#6bc3d0" stroke="#111" stroke-width="0.9"/>
<rect x="535.8" y="698.5" width="6.26" height="1.3" fill="#6bc3d0" stroke="#111" stroke-width="0.9"/>
<rect x="560.84" y="698.5" width="6.26" height="1.3" fill="#6bc3d0" stroke="#111" stroke-width="0.9"/>
<rect x="610.92" y="698.5" width="6.26" height="1.3" fill="#6bc3d0" stroke="#111" stroke-width="0.9"/>
<path d="M432.45 699.8H641" stroke="#222" stroke-width="1.25"/>
<path d="M486.3 700.4v2.4" stroke="#222" stroke-width="0.9"/>
<path d="M563.3 700.4v2.4" stroke="#222" stroke-width="0.9"/>
<path d="M640.3 700.4v2.4" stroke="#222" stroke-width="0.9"/>
<rect x="648.3" y="903.17" width="2.1" height="7.43" fill="#6bc3d0" stroke="#111" stroke-width="0.9"/>
<rect x="648.3" y="895.74" width="7.7" height="7.43" fill="#6bc3d0" stroke="#111" stroke-width="0.9"/>
<rect x="648.3" y="888.31" width="34.1" height="7.43" fill="#6bc3d0" stroke="#111" stroke-width="0.9"/>
<rect x="648.3" y="880.88" width="31.1" height="7.43" fill="#6bc3d0" stroke="#111" stroke-width="0.9"/>
<rect x="648.3" y="873.45" width="18.9" height="7.43" fill="#6bc3d0" stroke="#111" stroke-width="0.9"/>
<rect x="648.3" y="866.02" width="7.7" height="7.43" fill="#6bc3d0" stroke="#111" stroke-width="0.9"/>
<rect x="648.3" y="858.59" width="7.7" height="7.43" fill="#6bc3d0" stroke="#111" stroke-width="0.9"/>
<rect x="648.3" y="851.16" width="4.8" height="7.43" fill="#6bc3d0" stroke="#111" stroke-width="0.9"/>
<rect x="648.3" y="843.73" width="0.9" height="7.43" fill="#6bc3d0" stroke="#111" stroke-width="0.9"/>
<rect x="648.3" y="828.87" width="2.1" height="7.43" fill="#6bc3d0" stroke="#111" stroke-width="0.9"/>
<rect x="648.3" y="821.44" width="0.9" height="7.43" fill="#6bc3d0" stroke="#111" stroke-width="0.9"/>
<rect x="648.3" y="784.29" width="1.2" height="7.43" fill="#6bc3d0" stroke="#111" stroke-width="0.9"/>
<rect x="648.3" y="762" width="1.2" height="7.43" fill="#6bc3d0" stroke="#111" stroke-width="0.9"/>
<path d="M648.3 707V918.25" stroke="#222" stroke-width="1.25"/>
<path d="M647.7 866.8h-2.4" stroke="#222" stroke-width="0.9"/>
<path d="M647.7 787.7h-2.4" stroke="#222" stroke-width="0.9"/>
<path d="M647.7 708.6h-2.4" stroke="#222" stroke-width="0.9"/>
<clipPath id="c6"><rect x="433.2" y="707" width="207.8" height="210.5"/></clipPath><g clip-path="url(#c6)">
<circle cx="615.3" cy="761.8" r="3.1" fill="#0d2161"/>
<circle cx="564.4" cy="789.3" r="3.1" fill="#0d2161"/>
<circle cx="464.1" cy="894.5" r="3.1" fill="#0d2161"/>
<circle cx="537.8" cy="824.3" r="3.1" fill="#0e2265"/>
<circle cx="495.8" cy="851.8" r="3.1" fill="#243c98"/>
<circle cx="490.4" cy="856.5" r="3.1" fill="#243c98"/>
<circle cx="518.4" cy="829.5" r="3.1" fill="#2354a3"/>
<circle cx="517" cy="836.1" r="3.1" fill="#1f7ab5"/>
<circle cx="509.4" cy="844.1" r="3.1" fill="#1f93c0"/>
<circle cx="490.1" cy="861.3" r="3.1" fill="#1f93c0"/>
<circle cx="498.4" cy="855.8" r="3.1" fill="#2498c1"/>
<circle cx="493.6" cy="862.6" r="3.1" fill="#33a7c2"/>
<circle cx="465.6" cy="882.5" r="3.1" fill="#33a7c2"/>
<circle cx="495.5" cy="857.2" r="3.1" fill="#59bfc0"/>
<circle cx="477.3" cy="871.1" r="3.1" fill="#69c5be"/>
<circle cx="474.3" cy="875.5" r="3.1" fill="#73c8bd"/>
<circle cx="472.1" cy="878.4" r="3.1" fill="#73c8bd"/>
<circle cx="445.9" cy="907.6" r="3.1" fill="#73c8bd"/>
<circle cx="486" cy="866.4" r="3.1" fill="#8ed3ba"/>
<circle cx="468" cy="889" r="3.1" fill="#8ed3ba"/>
<circle cx="473" cy="880" r="3.1" fill="#8ed3ba"/>
<circle cx="441.5" cy="909.8" r="3.1" fill="#abdeb7"/>
<circle cx="456" cy="899" r="3.1" fill="#abdeb7"/>
<circle cx="462" cy="893" r="3.1" fill="#abdeb7"/>
<circle cx="480" cy="875" r="3.1" fill="#abdeb7"/>
<circle cx="483.1" cy="869.6" r="3.1" fill="#b7e3b6"/>
<circle cx="475.8" cy="874" r="3.1" fill="#b7e3b6"/>
<circle cx="479.4" cy="871.8" r="3.1" fill="#c6e9b4"/>
<circle cx="455" cy="900" r="3.1" fill="#f3fabf"/>
<circle cx="460" cy="896" r="3.1" fill="#f3fabf"/>
<circle cx="451" cy="901" r="3.1" fill="#f6fbc5"/>
<circle cx="453.9" cy="898.1" r="3.1" fill="#f6fbc5"/>
<circle cx="459.7" cy="892.3" r="3.1" fill="#f6fbc5"/>
<circle cx="465.6" cy="886.4" r="3.1" fill="#f6fbc5"/>
<circle cx="468.5" cy="884.2" r="3.1" fill="#f6fbc5"/>
<circle cx="474.3" cy="878.4" r="3.1" fill="#f6fbc5"/>
<circle cx="480.2" cy="873.3" r="3.1" fill="#f6fbc5"/>
<circle cx="466" cy="891" r="3.1" fill="#f6fbc5"/>
<circle cx="467" cy="886" r="3.1" fill="#f6fbc5"/>
<circle cx="456.8" cy="895.2" r="3.1" fill="#f7fcc7"/>
<circle cx="462.7" cy="889.3" r="3.1" fill="#f7fcc7"/>
<circle cx="471.4" cy="881.3" r="3.1" fill="#f7fcc7"/>
<circle cx="477.3" cy="876.2" r="3.1" fill="#f7fcc7"/>
<circle cx="452" cy="900" r="3.1" fill="#f7fcc7"/>
<circle cx="458" cy="894" r="3.1" fill="#f7fcc7"/>
<circle cx="461" cy="891" r="3.1" fill="#f7fcc7"/>
<circle cx="470" cy="883" r="3.1" fill="#f7fcc7"/>
<circle cx="449" cy="903" r="3.1" fill="#f9fdcb"/>
<circle cx="455" cy="897" r="3.1" fill="#f9fdcb"/>
<circle cx="464" cy="888" r="3.1" fill="#f9fdcb"/>
</g>
<path d="M433.2 707V917.5H641" fill="none" stroke="#222" stroke-width="1.5"/>
<path d="M486.3 918.1v2.6" stroke="#222" stroke-width="1"/>
<path d="M563.3 918.1v2.6" stroke="#222" stroke-width="1"/>
<path d="M640.3 918.1v2.6" stroke="#222" stroke-width="1"/>
<path d="M432.6 866.8h-2.6" stroke="#222" stroke-width="1"/>
<path d="M432.6 787.7h-2.6" stroke="#222" stroke-width="1"/>
<path d="M432.6 708.6h-2.6" stroke="#222" stroke-width="1"/>
<text x="486.3" y="937.5" font-size="20.3" font-weight="bold" text-anchor="middle" textLength="12" lengthAdjust="spacingAndGlyphs" stroke="#000" stroke-width="0.35">1</text>
<text x="563.3" y="937.5" font-size="20.3" font-weight="bold" text-anchor="middle" textLength="12" lengthAdjust="spacingAndGlyphs" stroke="#000" stroke-width="0.35">2</text>
<text x="640.3" y="937.5" font-size="20.3" font-weight="bold" text-anchor="middle" textLength="12" lengthAdjust="spacingAndGlyphs" stroke="#000" stroke-width="0.35">3</text>
<text x="428.2" y="874" font-size="20.3" font-weight="bold" text-anchor="end" textLength="12" lengthAdjust="spacingAndGlyphs" stroke="#000" stroke-width="0.35">1</text>
<text x="428.2" y="794.9" font-size="20.3" font-weight="bold" text-anchor="end" textLength="12" lengthAdjust="spacingAndGlyphs" stroke="#000" stroke-width="0.35">2</text>
<text x="428.2" y="715.8" font-size="20.3" font-weight="bold" text-anchor="end" textLength="12" lengthAdjust="spacingAndGlyphs" stroke="#000" stroke-width="0.35">3</text>
<text x="420.1" y="960.5" font-size="19.2" font-weight="bold" textLength="236.2" lengthAdjust="spacingAndGlyphs" stroke="#000" stroke-width="0.3">Exp. <tspan font-style="italic" font-weight="normal" stroke="none">&#961;</tspan> at 40 <tspan font-style="italic" font-weight="normal" stroke="none" font-size="0.72em" dy="-6">o</tspan><tspan dy="6">C</tspan> (g/cm<tspan font-size="0.7em" font-weight="normal" stroke="none" dy="-7">3</tspan><tspan dy="7">)</tspan></text>
<text x="408" y="935.3" font-size="19.2" font-weight="bold" textLength="248.3" lengthAdjust="spacingAndGlyphs" stroke="#000" stroke-width="0.3" transform="rotate(-90 408 935.3)">Pred. <tspan font-style="italic" font-weight="normal" stroke="none">&#961;</tspan> at 40 <tspan font-style="italic" font-weight="normal" stroke="none" font-size="0.72em" dy="-6">o</tspan><tspan dy="6">C</tspan> (g/cm<tspan font-size="0.7em" font-weight="normal" stroke="none" dy="-7">3</tspan><tspan dy="7">)</tspan></text>
<text x="448.5" y="726.8" font-size="24.2" font-weight="bold">test set</text>
<text x="639.9" y="883" font-size="21.2" font-weight="bold" text-anchor="end">R<tspan font-size="14" dy="-6.2">2</tspan><tspan dy="6.2" dx="0.6">: 0.980</tspan></text>
<text x="645" y="908.2" font-size="21.3" font-weight="bold" text-anchor="end">MAE: 0.017 g/cm<tspan font-size="14" dy="-6.2">3</tspan></text>
<text x="377" y="684.2" font-size="43.5" font-weight="bold">f.</text>
</svg>
</body></html>
